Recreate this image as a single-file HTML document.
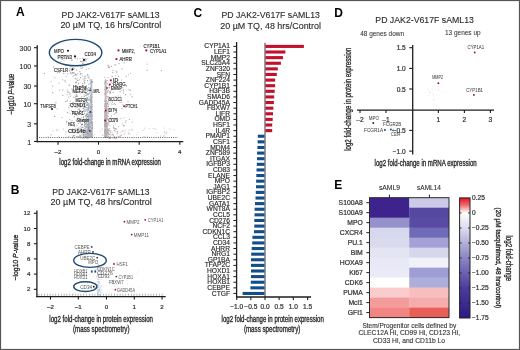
<!DOCTYPE html>
<html><head><meta charset="utf-8"><style>
html,body{margin:0;padding:0;background:#fff;}
body{width:520px;height:350px;overflow:hidden;}
svg{display:block;font-family:"Liberation Sans",sans-serif;will-change:transform;}
</style></head><body>
<svg width="520" height="350" viewBox="0 0 520 350">
<rect width="520" height="350" fill="#fff"/>
<text x="16.00" y="16.20" font-size="12" fill="#000" font-weight="bold">A</text>
<text x="10.70" y="193.70" font-size="12" fill="#000" font-weight="bold">B</text>
<text x="193.40" y="16.90" font-size="12" fill="#000" font-weight="bold">C</text>
<text x="334.30" y="17.00" font-size="12" fill="#000" font-weight="bold">D</text>
<text x="334.30" y="189.00" font-size="12" fill="#000" font-weight="bold">E</text>
<text x="61.60" y="17.90" font-size="9.6" fill="#2b2b2b" font-weight="normal" textLength="98.00" lengthAdjust="spacingAndGlyphs" stroke="#2b2b2b" stroke-width="0.12">PD JAK2-V617F sAML13</text>
<text x="60.40" y="28.40" font-size="9.6" fill="#2b2b2b" font-weight="normal" textLength="100.80" lengthAdjust="spacingAndGlyphs" stroke="#2b2b2b" stroke-width="0.12">20 µM TQ, 16 hrs/Control</text>
<text x="52.20" y="195.20" font-size="9.6" fill="#2b2b2b" font-weight="normal" textLength="97.40" lengthAdjust="spacingAndGlyphs" stroke="#2b2b2b" stroke-width="0.12">PD JAK2-V617F sAML13</text>
<text x="50.60" y="205.40" font-size="9.6" fill="#2b2b2b" font-weight="normal" textLength="101.20" lengthAdjust="spacingAndGlyphs" stroke="#2b2b2b" stroke-width="0.12">20 µM TQ, 48 hrs/Control</text>
<text x="221.40" y="17.60" font-size="9.6" fill="#2b2b2b" font-weight="normal" textLength="98.50" lengthAdjust="spacingAndGlyphs" stroke="#2b2b2b" stroke-width="0.12">PD JAK2-V617F sAML13</text>
<text x="220.30" y="28.60" font-size="9.6" fill="#2b2b2b" font-weight="normal" textLength="100.70" lengthAdjust="spacingAndGlyphs" stroke="#2b2b2b" stroke-width="0.12">20 µM TQ, 48 hrs/Control</text>
<text x="375.30" y="22.90" font-size="9.6" fill="#2b2b2b" font-weight="normal" textLength="98.60" lengthAdjust="spacingAndGlyphs" stroke="#2b2b2b" stroke-width="0.12">PD JAK2-V617F sAML13</text>
<rect x="90.40" y="79.00" width="1.90" height="58.50" fill="#a4a8b0" opacity="0.75"/>
<rect x="104.60" y="80.00" width="1.80" height="57.50" fill="#b0a8ad" opacity="0.75"/>
<circle cx="91.28" cy="124.20" r="0.60" fill="#9aa0aa"/>
<circle cx="87.85" cy="123.34" r="0.60" fill="#9a9ea5"/>
<circle cx="84.69" cy="109.16" r="0.60" fill="#b7bcc3"/>
<circle cx="88.15" cy="131.03" r="0.60" fill="#a9afb8"/>
<circle cx="92.00" cy="104.65" r="0.60" fill="#9aa0aa"/>
<circle cx="91.35" cy="125.66" r="0.60" fill="#b7bcc3"/>
<circle cx="88.69" cy="112.34" r="0.60" fill="#9aa0aa"/>
<circle cx="88.74" cy="125.33" r="0.60" fill="#b7bcc3"/>
<circle cx="84.73" cy="122.67" r="0.60" fill="#8d9dbd"/>
<circle cx="87.94" cy="121.72" r="0.60" fill="#8d9dbd"/>
<circle cx="86.67" cy="122.95" r="0.60" fill="#a9afb8"/>
<circle cx="87.32" cy="119.30" r="0.60" fill="#9a9ea5"/>
<circle cx="87.13" cy="113.92" r="0.60" fill="#9aa0aa"/>
<circle cx="88.86" cy="116.79" r="0.60" fill="#c2c6cc"/>
<circle cx="91.54" cy="108.82" r="0.60" fill="#d0d3d8"/>
<circle cx="90.35" cy="122.48" r="0.60" fill="#9aa6bd"/>
<circle cx="91.36" cy="119.04" r="0.60" fill="#8d9dbd"/>
<circle cx="84.24" cy="129.14" r="0.60" fill="#d0d3d8"/>
<circle cx="89.23" cy="119.22" r="0.60" fill="#9a9ea5"/>
<circle cx="89.62" cy="112.91" r="0.60" fill="#9aa0aa"/>
<circle cx="90.74" cy="135.03" r="0.60" fill="#9a9ea5"/>
<circle cx="90.31" cy="117.13" r="0.60" fill="#d0d3d8"/>
<circle cx="88.43" cy="123.69" r="0.60" fill="#a9afb8"/>
<circle cx="88.04" cy="127.46" r="0.60" fill="#a9afb8"/>
<circle cx="86.53" cy="122.46" r="0.60" fill="#d0d3d8"/>
<circle cx="91.45" cy="112.43" r="0.60" fill="#9a9ea5"/>
<circle cx="87.89" cy="133.41" r="0.60" fill="#9aa6bd"/>
<circle cx="88.72" cy="118.03" r="0.60" fill="#b7bcc3"/>
<circle cx="92.06" cy="123.91" r="0.60" fill="#b7bcc3"/>
<circle cx="85.15" cy="102.80" r="0.60" fill="#d0d3d8"/>
<circle cx="88.48" cy="123.73" r="0.60" fill="#8d9dbd"/>
<circle cx="86.80" cy="105.33" r="0.60" fill="#8d9dbd"/>
<circle cx="90.69" cy="114.30" r="0.60" fill="#b7bcc3"/>
<circle cx="90.85" cy="124.35" r="0.60" fill="#b7bcc3"/>
<circle cx="91.96" cy="134.10" r="0.60" fill="#9aa6bd"/>
<circle cx="92.27" cy="135.15" r="0.60" fill="#c2c6cc"/>
<circle cx="86.94" cy="129.81" r="0.60" fill="#9a9ea5"/>
<circle cx="86.44" cy="125.93" r="0.60" fill="#9aa0aa"/>
<circle cx="84.50" cy="123.34" r="0.60" fill="#c2c6cc"/>
<circle cx="89.09" cy="121.95" r="0.60" fill="#d0d3d8"/>
<circle cx="91.35" cy="130.54" r="0.60" fill="#a9afb8"/>
<circle cx="88.01" cy="134.80" r="0.60" fill="#a9afb8"/>
<circle cx="91.60" cy="130.29" r="0.60" fill="#9aa0aa"/>
<circle cx="87.77" cy="124.36" r="0.60" fill="#9a9ea5"/>
<circle cx="91.15" cy="130.99" r="0.60" fill="#b7bcc3"/>
<circle cx="90.59" cy="127.81" r="0.60" fill="#8d9dbd"/>
<circle cx="87.08" cy="127.75" r="0.60" fill="#d0d3d8"/>
<circle cx="86.73" cy="102.24" r="0.60" fill="#d0d3d8"/>
<circle cx="88.87" cy="134.74" r="0.60" fill="#9aa6bd"/>
<circle cx="89.37" cy="123.24" r="0.60" fill="#8d9dbd"/>
<circle cx="86.22" cy="132.16" r="0.60" fill="#9aa0aa"/>
<circle cx="88.35" cy="107.12" r="0.60" fill="#9aa0aa"/>
<circle cx="92.13" cy="115.65" r="0.60" fill="#a9afb8"/>
<circle cx="91.27" cy="118.42" r="0.60" fill="#9a9ea5"/>
<circle cx="89.16" cy="124.21" r="0.60" fill="#b7bcc3"/>
<circle cx="85.49" cy="128.31" r="0.60" fill="#9a9ea5"/>
<circle cx="88.69" cy="110.40" r="0.60" fill="#b7bcc3"/>
<circle cx="89.75" cy="92.43" r="0.60" fill="#b7bcc3"/>
<circle cx="90.86" cy="108.69" r="0.60" fill="#9aa0aa"/>
<circle cx="85.25" cy="134.50" r="0.60" fill="#d0d3d8"/>
<circle cx="91.95" cy="97.64" r="0.60" fill="#9a9ea5"/>
<circle cx="83.41" cy="117.60" r="0.60" fill="#9a9ea5"/>
<circle cx="88.64" cy="130.59" r="0.60" fill="#b7bcc3"/>
<circle cx="88.69" cy="119.96" r="0.60" fill="#9a9ea5"/>
<circle cx="90.72" cy="102.62" r="0.60" fill="#9aa0aa"/>
<circle cx="86.53" cy="132.63" r="0.60" fill="#a9afb8"/>
<circle cx="91.27" cy="126.17" r="0.60" fill="#c2c6cc"/>
<circle cx="90.96" cy="95.09" r="0.60" fill="#d0d3d8"/>
<circle cx="89.03" cy="119.69" r="0.60" fill="#9a9ea5"/>
<circle cx="84.03" cy="104.91" r="0.60" fill="#c2c6cc"/>
<circle cx="85.88" cy="127.66" r="0.60" fill="#a9afb8"/>
<circle cx="91.91" cy="121.83" r="0.60" fill="#9aa6bd"/>
<circle cx="87.03" cy="131.51" r="0.60" fill="#d0d3d8"/>
<circle cx="91.52" cy="123.79" r="0.60" fill="#d0d3d8"/>
<circle cx="90.26" cy="117.33" r="0.60" fill="#9aa6bd"/>
<circle cx="85.20" cy="131.25" r="0.60" fill="#a9afb8"/>
<circle cx="83.11" cy="127.43" r="0.60" fill="#c2c6cc"/>
<circle cx="89.68" cy="136.06" r="0.60" fill="#b7bcc3"/>
<circle cx="89.58" cy="134.35" r="0.60" fill="#b7bcc3"/>
<circle cx="91.99" cy="114.49" r="0.60" fill="#c2c6cc"/>
<circle cx="91.58" cy="129.54" r="0.60" fill="#9a9ea5"/>
<circle cx="87.58" cy="114.53" r="0.60" fill="#c2c6cc"/>
<circle cx="88.48" cy="90.30" r="0.60" fill="#9aa6bd"/>
<circle cx="87.53" cy="131.21" r="0.60" fill="#9aa0aa"/>
<circle cx="87.47" cy="105.24" r="0.60" fill="#9aa0aa"/>
<circle cx="91.93" cy="122.89" r="0.60" fill="#9aa6bd"/>
<circle cx="85.96" cy="130.57" r="0.60" fill="#9aa0aa"/>
<circle cx="90.08" cy="109.59" r="0.60" fill="#d0d3d8"/>
<circle cx="91.90" cy="125.47" r="0.60" fill="#9aa0aa"/>
<circle cx="92.27" cy="116.56" r="0.60" fill="#a9afb8"/>
<circle cx="87.17" cy="135.88" r="0.60" fill="#a9afb8"/>
<circle cx="87.14" cy="125.00" r="0.60" fill="#b7bcc3"/>
<circle cx="90.75" cy="110.80" r="0.60" fill="#d0d3d8"/>
<circle cx="89.29" cy="136.55" r="0.60" fill="#8d9dbd"/>
<circle cx="84.82" cy="111.88" r="0.60" fill="#b7bcc3"/>
<circle cx="91.14" cy="125.58" r="0.60" fill="#a9afb8"/>
<circle cx="89.58" cy="123.32" r="0.60" fill="#b7bcc3"/>
<circle cx="89.81" cy="129.67" r="0.60" fill="#8d9dbd"/>
<circle cx="90.50" cy="83.32" r="0.60" fill="#9aa6bd"/>
<circle cx="86.97" cy="123.65" r="0.60" fill="#9a9ea5"/>
<circle cx="87.14" cy="95.38" r="0.60" fill="#d0d3d8"/>
<circle cx="88.59" cy="119.57" r="0.60" fill="#b7bcc3"/>
<circle cx="90.06" cy="114.03" r="0.60" fill="#c2c6cc"/>
<circle cx="90.90" cy="122.96" r="0.60" fill="#9a9ea5"/>
<circle cx="89.10" cy="123.91" r="0.60" fill="#9a9ea5"/>
<circle cx="88.24" cy="128.17" r="0.60" fill="#9aa0aa"/>
<circle cx="88.69" cy="116.65" r="0.60" fill="#8d9dbd"/>
<circle cx="90.85" cy="136.77" r="0.60" fill="#b7bcc3"/>
<circle cx="90.45" cy="135.34" r="0.60" fill="#8d9dbd"/>
<circle cx="91.11" cy="81.51" r="0.60" fill="#9aa6bd"/>
<circle cx="92.03" cy="123.92" r="0.60" fill="#c2c6cc"/>
<circle cx="88.78" cy="105.86" r="0.60" fill="#8d9dbd"/>
<circle cx="88.18" cy="119.53" r="0.60" fill="#d0d3d8"/>
<circle cx="91.77" cy="126.79" r="0.60" fill="#9aa0aa"/>
<circle cx="91.52" cy="121.75" r="0.60" fill="#a9afb8"/>
<circle cx="92.21" cy="132.74" r="0.60" fill="#a9afb8"/>
<circle cx="91.77" cy="127.19" r="0.60" fill="#b7bcc3"/>
<circle cx="85.02" cy="116.44" r="0.60" fill="#d0d3d8"/>
<circle cx="79.47" cy="131.44" r="0.60" fill="#c2c6cc"/>
<circle cx="89.47" cy="128.37" r="0.60" fill="#9aa6bd"/>
<circle cx="86.24" cy="126.54" r="0.60" fill="#a9afb8"/>
<circle cx="89.24" cy="133.60" r="0.60" fill="#9aa6bd"/>
<circle cx="91.27" cy="116.04" r="0.60" fill="#8d9dbd"/>
<circle cx="89.64" cy="134.07" r="0.60" fill="#d0d3d8"/>
<circle cx="89.80" cy="137.49" r="0.60" fill="#9a9ea5"/>
<circle cx="91.55" cy="136.35" r="0.60" fill="#b7bcc3"/>
<circle cx="89.31" cy="135.76" r="0.60" fill="#d0d3d8"/>
<circle cx="86.49" cy="107.74" r="0.60" fill="#c2c6cc"/>
<circle cx="89.51" cy="110.31" r="0.60" fill="#c2c6cc"/>
<circle cx="88.93" cy="133.36" r="0.60" fill="#b7bcc3"/>
<circle cx="88.66" cy="134.88" r="0.60" fill="#9aa6bd"/>
<circle cx="89.25" cy="123.96" r="0.60" fill="#9aa0aa"/>
<circle cx="91.95" cy="133.74" r="0.60" fill="#8d9dbd"/>
<circle cx="91.08" cy="133.80" r="0.60" fill="#c2c6cc"/>
<circle cx="88.20" cy="109.35" r="0.60" fill="#8d9dbd"/>
<circle cx="87.30" cy="114.27" r="0.60" fill="#9aa0aa"/>
<circle cx="90.03" cy="133.66" r="0.60" fill="#d0d3d8"/>
<circle cx="88.49" cy="136.94" r="0.60" fill="#9a9ea5"/>
<circle cx="87.34" cy="131.90" r="0.60" fill="#b7bcc3"/>
<circle cx="84.22" cy="125.95" r="0.60" fill="#b7bcc3"/>
<circle cx="92.19" cy="136.56" r="0.60" fill="#c2c6cc"/>
<circle cx="89.50" cy="126.92" r="0.60" fill="#b7bcc3"/>
<circle cx="92.22" cy="92.51" r="0.60" fill="#a9afb8"/>
<circle cx="92.15" cy="126.27" r="0.60" fill="#c2c6cc"/>
<circle cx="88.88" cy="124.00" r="0.60" fill="#8d9dbd"/>
<circle cx="91.33" cy="119.66" r="0.60" fill="#9aa6bd"/>
<circle cx="88.82" cy="103.01" r="0.60" fill="#c2c6cc"/>
<circle cx="91.73" cy="96.14" r="0.60" fill="#d0d3d8"/>
<circle cx="88.51" cy="103.82" r="0.60" fill="#9aa6bd"/>
<circle cx="84.99" cy="124.08" r="0.60" fill="#c2c6cc"/>
<circle cx="91.56" cy="90.19" r="0.60" fill="#9aa6bd"/>
<circle cx="86.66" cy="114.18" r="0.60" fill="#9aa0aa"/>
<circle cx="89.85" cy="106.95" r="0.60" fill="#b7bcc3"/>
<circle cx="91.29" cy="133.63" r="0.60" fill="#9a9ea5"/>
<circle cx="88.54" cy="131.14" r="0.60" fill="#d0d3d8"/>
<circle cx="87.05" cy="124.36" r="0.60" fill="#b7bcc3"/>
<circle cx="91.97" cy="137.36" r="0.60" fill="#a9afb8"/>
<circle cx="92.25" cy="106.76" r="0.60" fill="#a9afb8"/>
<circle cx="91.50" cy="129.41" r="0.60" fill="#d0d3d8"/>
<circle cx="92.28" cy="127.27" r="0.60" fill="#8d9dbd"/>
<circle cx="91.66" cy="94.00" r="0.60" fill="#b7bcc3"/>
<circle cx="88.37" cy="136.53" r="0.60" fill="#d0d3d8"/>
<circle cx="89.52" cy="126.09" r="0.60" fill="#9aa0aa"/>
<circle cx="88.04" cy="112.48" r="0.60" fill="#a9afb8"/>
<circle cx="89.39" cy="123.81" r="0.60" fill="#8d9dbd"/>
<circle cx="90.75" cy="127.90" r="0.60" fill="#d0d3d8"/>
<circle cx="89.36" cy="129.85" r="0.60" fill="#a9afb8"/>
<circle cx="90.17" cy="101.03" r="0.60" fill="#8d9dbd"/>
<circle cx="91.46" cy="116.89" r="0.60" fill="#d0d3d8"/>
<circle cx="90.34" cy="134.76" r="0.60" fill="#b7bcc3"/>
<circle cx="91.66" cy="127.30" r="0.60" fill="#d0d3d8"/>
<circle cx="87.89" cy="134.34" r="0.60" fill="#d0d3d8"/>
<circle cx="88.35" cy="136.53" r="0.60" fill="#b7bcc3"/>
<circle cx="90.75" cy="132.39" r="0.60" fill="#8d9dbd"/>
<circle cx="90.26" cy="133.44" r="0.60" fill="#8d9dbd"/>
<circle cx="87.57" cy="111.05" r="0.60" fill="#b7bcc3"/>
<circle cx="84.13" cy="136.79" r="0.60" fill="#c2c6cc"/>
<circle cx="91.96" cy="137.16" r="0.60" fill="#d0d3d8"/>
<circle cx="90.60" cy="113.40" r="0.60" fill="#9aa6bd"/>
<circle cx="88.94" cy="124.81" r="0.60" fill="#a9afb8"/>
<circle cx="92.17" cy="136.21" r="0.60" fill="#9a9ea5"/>
<circle cx="91.23" cy="126.36" r="0.60" fill="#b7bcc3"/>
<circle cx="90.32" cy="83.02" r="0.60" fill="#8d9dbd"/>
<circle cx="92.27" cy="127.97" r="0.60" fill="#c2c6cc"/>
<circle cx="86.96" cy="137.24" r="0.60" fill="#9a9ea5"/>
<circle cx="86.31" cy="117.79" r="0.60" fill="#9aa0aa"/>
<circle cx="92.05" cy="129.19" r="0.60" fill="#8d9dbd"/>
<circle cx="90.80" cy="126.43" r="0.60" fill="#8d9dbd"/>
<circle cx="89.09" cy="128.67" r="0.60" fill="#9a9ea5"/>
<circle cx="91.37" cy="110.70" r="0.60" fill="#9aa0aa"/>
<circle cx="90.16" cy="103.54" r="0.60" fill="#b7bcc3"/>
<circle cx="92.06" cy="129.37" r="0.60" fill="#c2c6cc"/>
<circle cx="85.93" cy="124.29" r="0.60" fill="#8d9dbd"/>
<circle cx="83.52" cy="132.31" r="0.60" fill="#9aa6bd"/>
<circle cx="90.32" cy="113.85" r="0.60" fill="#8d9dbd"/>
<circle cx="90.36" cy="96.79" r="0.60" fill="#8d9dbd"/>
<circle cx="89.84" cy="126.83" r="0.60" fill="#d0d3d8"/>
<circle cx="88.55" cy="128.32" r="0.60" fill="#9aa6bd"/>
<circle cx="91.32" cy="129.45" r="0.60" fill="#d0d3d8"/>
<circle cx="88.12" cy="128.61" r="0.60" fill="#9a9ea5"/>
<circle cx="87.93" cy="136.87" r="0.60" fill="#9aa6bd"/>
<circle cx="89.44" cy="131.75" r="0.60" fill="#9aa6bd"/>
<circle cx="91.35" cy="127.98" r="0.60" fill="#b7bcc3"/>
<circle cx="87.37" cy="102.65" r="0.60" fill="#b7bcc3"/>
<circle cx="87.24" cy="109.35" r="0.60" fill="#c2c6cc"/>
<circle cx="87.39" cy="108.60" r="0.60" fill="#b7bcc3"/>
<circle cx="89.70" cy="120.99" r="0.60" fill="#9aa0aa"/>
<circle cx="87.07" cy="137.10" r="0.60" fill="#9a9ea5"/>
<circle cx="88.97" cy="115.63" r="0.60" fill="#b7bcc3"/>
<circle cx="85.18" cy="107.05" r="0.60" fill="#c2c6cc"/>
<circle cx="88.79" cy="120.86" r="0.60" fill="#8d9dbd"/>
<circle cx="87.58" cy="94.52" r="0.60" fill="#9aa0aa"/>
<circle cx="89.37" cy="117.88" r="0.60" fill="#d0d3d8"/>
<circle cx="87.75" cy="131.53" r="0.60" fill="#a9afb8"/>
<circle cx="85.20" cy="100.04" r="0.60" fill="#d0d3d8"/>
<circle cx="89.32" cy="134.09" r="0.60" fill="#a9afb8"/>
<circle cx="91.92" cy="122.77" r="0.60" fill="#a9afb8"/>
<circle cx="86.33" cy="122.55" r="0.60" fill="#d0d3d8"/>
<circle cx="86.34" cy="114.58" r="0.60" fill="#9aa0aa"/>
<circle cx="91.71" cy="118.97" r="0.60" fill="#9aa0aa"/>
<circle cx="90.22" cy="119.97" r="0.60" fill="#9aa6bd"/>
<circle cx="88.87" cy="114.76" r="0.60" fill="#c2c6cc"/>
<circle cx="91.68" cy="125.48" r="0.60" fill="#a9afb8"/>
<circle cx="89.32" cy="78.26" r="0.60" fill="#b7bcc3"/>
<circle cx="90.13" cy="125.54" r="0.60" fill="#9aa0aa"/>
<circle cx="88.92" cy="136.05" r="0.60" fill="#d0d3d8"/>
<circle cx="91.68" cy="115.19" r="0.60" fill="#b7bcc3"/>
<circle cx="89.41" cy="134.56" r="0.60" fill="#b7bcc3"/>
<circle cx="88.25" cy="132.60" r="0.60" fill="#8d9dbd"/>
<circle cx="89.83" cy="131.68" r="0.60" fill="#c2c6cc"/>
<circle cx="89.79" cy="128.38" r="0.60" fill="#c2c6cc"/>
<circle cx="89.74" cy="129.05" r="0.60" fill="#9aa0aa"/>
<circle cx="90.17" cy="98.49" r="0.60" fill="#9a9ea5"/>
<circle cx="91.21" cy="121.75" r="0.60" fill="#8d9dbd"/>
<circle cx="91.98" cy="106.74" r="0.60" fill="#b7bcc3"/>
<circle cx="89.63" cy="137.03" r="0.60" fill="#b7bcc3"/>
<circle cx="91.96" cy="119.24" r="0.60" fill="#8d9dbd"/>
<circle cx="87.97" cy="114.51" r="0.60" fill="#9aa6bd"/>
<circle cx="88.63" cy="119.36" r="0.60" fill="#9aa0aa"/>
<circle cx="90.17" cy="132.87" r="0.60" fill="#c2c6cc"/>
<circle cx="91.48" cy="135.60" r="0.60" fill="#9aa6bd"/>
<circle cx="86.88" cy="116.76" r="0.60" fill="#9aa6bd"/>
<circle cx="85.60" cy="102.98" r="0.60" fill="#9a9ea5"/>
<circle cx="89.05" cy="127.82" r="0.60" fill="#9aa6bd"/>
<circle cx="89.49" cy="111.56" r="0.60" fill="#d0d3d8"/>
<circle cx="86.51" cy="129.85" r="0.60" fill="#c2c6cc"/>
<circle cx="90.50" cy="133.08" r="0.60" fill="#a9afb8"/>
<circle cx="91.61" cy="113.73" r="0.60" fill="#a9afb8"/>
<circle cx="86.05" cy="121.07" r="0.60" fill="#c2c6cc"/>
<circle cx="87.69" cy="99.66" r="0.60" fill="#c2c6cc"/>
<circle cx="86.97" cy="116.21" r="0.60" fill="#b7bcc3"/>
<circle cx="86.04" cy="95.64" r="0.60" fill="#b7bcc3"/>
<circle cx="89.39" cy="99.42" r="0.60" fill="#d0d3d8"/>
<circle cx="88.26" cy="132.44" r="0.60" fill="#c2c6cc"/>
<circle cx="91.27" cy="135.75" r="0.60" fill="#a9afb8"/>
<circle cx="91.83" cy="128.71" r="0.60" fill="#b7bcc3"/>
<circle cx="92.15" cy="81.89" r="0.60" fill="#9a9ea5"/>
<circle cx="89.95" cy="119.69" r="0.60" fill="#9aa0aa"/>
<circle cx="91.81" cy="96.33" r="0.60" fill="#9a9ea5"/>
<circle cx="89.31" cy="127.49" r="0.60" fill="#a9afb8"/>
<circle cx="89.41" cy="134.62" r="0.60" fill="#d0d3d8"/>
<circle cx="91.34" cy="109.07" r="0.60" fill="#c2c6cc"/>
<circle cx="90.11" cy="81.76" r="0.60" fill="#d0d3d8"/>
<circle cx="89.15" cy="114.94" r="0.60" fill="#9aa0aa"/>
<circle cx="90.18" cy="97.22" r="0.60" fill="#9aa6bd"/>
<circle cx="89.51" cy="123.04" r="0.60" fill="#9a9ea5"/>
<circle cx="85.51" cy="126.40" r="0.60" fill="#a9afb8"/>
<circle cx="88.32" cy="135.57" r="0.60" fill="#9aa6bd"/>
<circle cx="92.28" cy="127.99" r="0.60" fill="#9aa0aa"/>
<circle cx="87.32" cy="133.76" r="0.60" fill="#9aa6bd"/>
<circle cx="84.07" cy="130.83" r="0.60" fill="#a9afb8"/>
<circle cx="92.14" cy="126.65" r="0.60" fill="#a9afb8"/>
<circle cx="81.79" cy="100.55" r="0.60" fill="#d0d3d8"/>
<circle cx="91.31" cy="125.20" r="0.60" fill="#d0d3d8"/>
<circle cx="87.94" cy="110.79" r="0.60" fill="#a9afb8"/>
<circle cx="91.68" cy="116.19" r="0.60" fill="#8d9dbd"/>
<circle cx="88.77" cy="127.25" r="0.60" fill="#8d9dbd"/>
<circle cx="91.35" cy="118.89" r="0.60" fill="#b7bcc3"/>
<circle cx="92.00" cy="116.45" r="0.60" fill="#b7bcc3"/>
<circle cx="90.45" cy="114.33" r="0.60" fill="#b7bcc3"/>
<circle cx="89.40" cy="136.63" r="0.60" fill="#a9afb8"/>
<circle cx="88.67" cy="119.81" r="0.60" fill="#b7bcc3"/>
<circle cx="87.52" cy="88.94" r="0.60" fill="#9aa0aa"/>
<circle cx="90.22" cy="124.27" r="0.60" fill="#9aa0aa"/>
<circle cx="84.30" cy="107.55" r="0.60" fill="#9a9ea5"/>
<circle cx="89.81" cy="136.21" r="0.60" fill="#8d9dbd"/>
<circle cx="91.37" cy="99.53" r="0.60" fill="#9aa0aa"/>
<circle cx="88.06" cy="115.91" r="0.60" fill="#9a9ea5"/>
<circle cx="91.53" cy="113.08" r="0.60" fill="#9aa6bd"/>
<circle cx="85.99" cy="127.46" r="0.60" fill="#b7bcc3"/>
<circle cx="89.37" cy="93.36" r="0.60" fill="#c2c6cc"/>
<circle cx="91.19" cy="122.52" r="0.60" fill="#8d9dbd"/>
<circle cx="91.41" cy="134.41" r="0.60" fill="#d0d3d8"/>
<circle cx="90.92" cy="134.71" r="0.60" fill="#a9afb8"/>
<circle cx="90.62" cy="100.68" r="0.60" fill="#9aa6bd"/>
<circle cx="91.18" cy="128.78" r="0.60" fill="#9aa6bd"/>
<circle cx="89.75" cy="125.11" r="0.60" fill="#8d9dbd"/>
<circle cx="90.25" cy="113.98" r="0.60" fill="#9aa0aa"/>
<circle cx="90.32" cy="106.43" r="0.60" fill="#9a9ea5"/>
<circle cx="91.64" cy="134.94" r="0.60" fill="#9a9ea5"/>
<circle cx="89.85" cy="117.10" r="0.60" fill="#c2c6cc"/>
<circle cx="92.18" cy="134.80" r="0.60" fill="#9aa6bd"/>
<circle cx="85.72" cy="115.29" r="0.60" fill="#c2c6cc"/>
<circle cx="88.94" cy="125.87" r="0.60" fill="#9aa6bd"/>
<circle cx="91.41" cy="131.33" r="0.60" fill="#9aa6bd"/>
<circle cx="86.74" cy="93.41" r="0.60" fill="#a9afb8"/>
<circle cx="84.09" cy="111.19" r="0.60" fill="#9aa6bd"/>
<circle cx="90.31" cy="120.66" r="0.60" fill="#9aa6bd"/>
<circle cx="90.59" cy="131.87" r="0.60" fill="#d0d3d8"/>
<circle cx="92.14" cy="91.43" r="0.60" fill="#b7bcc3"/>
<circle cx="89.87" cy="90.54" r="0.60" fill="#9aa0aa"/>
<circle cx="87.76" cy="132.93" r="0.60" fill="#9aa0aa"/>
<circle cx="87.86" cy="114.35" r="0.60" fill="#a9afb8"/>
<circle cx="87.71" cy="117.01" r="0.60" fill="#9aa6bd"/>
<circle cx="87.29" cy="97.95" r="0.60" fill="#c2c6cc"/>
<circle cx="90.31" cy="126.16" r="0.60" fill="#d0d3d8"/>
<circle cx="91.15" cy="120.85" r="0.60" fill="#c2c6cc"/>
<circle cx="90.14" cy="131.79" r="0.60" fill="#9a9ea5"/>
<circle cx="90.14" cy="123.82" r="0.60" fill="#b7bcc3"/>
<circle cx="87.33" cy="128.96" r="0.60" fill="#9aa0aa"/>
<circle cx="90.55" cy="117.48" r="0.60" fill="#c2c6cc"/>
<circle cx="88.20" cy="118.27" r="0.60" fill="#8d9dbd"/>
<circle cx="90.26" cy="119.52" r="0.60" fill="#b7bcc3"/>
<circle cx="87.06" cy="120.35" r="0.60" fill="#d0d3d8"/>
<circle cx="89.79" cy="137.13" r="0.60" fill="#9aa0aa"/>
<circle cx="88.90" cy="117.01" r="0.60" fill="#b7bcc3"/>
<circle cx="87.05" cy="125.66" r="0.60" fill="#d0d3d8"/>
<circle cx="88.53" cy="96.92" r="0.60" fill="#c2c6cc"/>
<circle cx="90.66" cy="129.00" r="0.60" fill="#c2c6cc"/>
<circle cx="87.53" cy="102.45" r="0.60" fill="#9aa0aa"/>
<circle cx="90.26" cy="134.03" r="0.60" fill="#9a9ea5"/>
<circle cx="91.47" cy="106.85" r="0.60" fill="#9aa0aa"/>
<circle cx="92.19" cy="82.32" r="0.60" fill="#9aa6bd"/>
<circle cx="90.84" cy="135.94" r="0.60" fill="#a9afb8"/>
<circle cx="82.29" cy="134.17" r="0.60" fill="#9aa6bd"/>
<circle cx="89.80" cy="99.25" r="0.60" fill="#b7bcc3"/>
<circle cx="88.89" cy="127.83" r="0.60" fill="#8d9dbd"/>
<circle cx="87.68" cy="90.97" r="0.60" fill="#8d9dbd"/>
<circle cx="88.65" cy="121.37" r="0.60" fill="#8d9dbd"/>
<circle cx="83.31" cy="136.69" r="0.60" fill="#b7bcc3"/>
<circle cx="87.66" cy="117.87" r="0.60" fill="#b7bcc3"/>
<circle cx="91.84" cy="131.04" r="0.60" fill="#9aa6bd"/>
<circle cx="87.62" cy="116.41" r="0.60" fill="#8d9dbd"/>
<circle cx="88.67" cy="87.56" r="0.60" fill="#9aa6bd"/>
<circle cx="91.48" cy="117.84" r="0.60" fill="#9aa0aa"/>
<circle cx="89.83" cy="118.95" r="0.60" fill="#d0d3d8"/>
<circle cx="87.34" cy="125.86" r="0.60" fill="#a9afb8"/>
<circle cx="92.24" cy="105.30" r="0.60" fill="#c2c6cc"/>
<circle cx="92.01" cy="112.52" r="0.60" fill="#c2c6cc"/>
<circle cx="87.06" cy="135.46" r="0.60" fill="#9a9ea5"/>
<circle cx="91.50" cy="128.14" r="0.60" fill="#b7bcc3"/>
<circle cx="89.37" cy="99.07" r="0.60" fill="#9aa0aa"/>
<circle cx="90.92" cy="107.49" r="0.60" fill="#8d9dbd"/>
<circle cx="84.92" cy="80.09" r="0.60" fill="#9a9ea5"/>
<circle cx="91.59" cy="94.63" r="0.60" fill="#b7bcc3"/>
<circle cx="89.03" cy="108.48" r="0.60" fill="#c2c6cc"/>
<circle cx="88.99" cy="125.27" r="0.60" fill="#9aa0aa"/>
<circle cx="90.36" cy="123.73" r="0.60" fill="#9aa0aa"/>
<circle cx="92.01" cy="137.24" r="0.60" fill="#9a9ea5"/>
<circle cx="90.69" cy="107.65" r="0.60" fill="#b7bcc3"/>
<circle cx="89.40" cy="126.09" r="0.60" fill="#9aa6bd"/>
<circle cx="90.71" cy="102.63" r="0.60" fill="#d0d3d8"/>
<circle cx="91.93" cy="133.82" r="0.60" fill="#b7bcc3"/>
<circle cx="91.14" cy="110.04" r="0.60" fill="#a9afb8"/>
<circle cx="87.07" cy="97.31" r="0.60" fill="#8d9dbd"/>
<circle cx="89.74" cy="125.73" r="0.60" fill="#9aa0aa"/>
<circle cx="85.34" cy="120.84" r="0.60" fill="#9a9ea5"/>
<circle cx="87.95" cy="118.34" r="0.60" fill="#d0d3d8"/>
<circle cx="92.22" cy="81.28" r="0.60" fill="#9aa0aa"/>
<circle cx="91.46" cy="135.28" r="0.60" fill="#9aa6bd"/>
<circle cx="92.19" cy="128.51" r="0.60" fill="#a9afb8"/>
<circle cx="87.25" cy="134.95" r="0.60" fill="#b7bcc3"/>
<circle cx="90.63" cy="123.98" r="0.60" fill="#c2c6cc"/>
<circle cx="91.34" cy="122.65" r="0.60" fill="#8d9dbd"/>
<circle cx="87.13" cy="123.28" r="0.60" fill="#d0d3d8"/>
<circle cx="92.20" cy="134.63" r="0.60" fill="#c2c6cc"/>
<circle cx="92.16" cy="108.42" r="0.60" fill="#d0d3d8"/>
<circle cx="91.89" cy="100.23" r="0.60" fill="#a9afb8"/>
<circle cx="88.89" cy="100.33" r="0.60" fill="#8d9dbd"/>
<circle cx="91.55" cy="117.64" r="0.60" fill="#c2c6cc"/>
<circle cx="88.79" cy="84.12" r="0.60" fill="#8d9dbd"/>
<circle cx="89.70" cy="80.20" r="0.60" fill="#b7bcc3"/>
<circle cx="88.21" cy="121.68" r="0.60" fill="#9aa6bd"/>
<circle cx="92.11" cy="118.46" r="0.60" fill="#b7bcc3"/>
<circle cx="86.07" cy="122.84" r="0.60" fill="#9a9ea5"/>
<circle cx="90.88" cy="113.40" r="0.60" fill="#b7bcc3"/>
<circle cx="86.62" cy="102.59" r="0.60" fill="#d0d3d8"/>
<circle cx="87.46" cy="131.93" r="0.60" fill="#9aa0aa"/>
<circle cx="89.62" cy="115.75" r="0.60" fill="#b7bcc3"/>
<circle cx="89.20" cy="127.96" r="0.60" fill="#b7bcc3"/>
<circle cx="88.18" cy="115.77" r="0.60" fill="#9aa6bd"/>
<circle cx="91.73" cy="132.71" r="0.60" fill="#a9afb8"/>
<circle cx="90.59" cy="126.79" r="0.60" fill="#9aa6bd"/>
<circle cx="91.99" cy="131.30" r="0.60" fill="#9aa6bd"/>
<circle cx="90.30" cy="103.01" r="0.60" fill="#a9afb8"/>
<circle cx="92.18" cy="127.94" r="0.60" fill="#9a9ea5"/>
<circle cx="89.19" cy="76.10" r="0.60" fill="#a9afb8"/>
<circle cx="87.41" cy="107.56" r="0.60" fill="#c2c6cc"/>
<circle cx="90.18" cy="126.50" r="0.60" fill="#a9afb8"/>
<circle cx="82.75" cy="124.10" r="0.60" fill="#a9afb8"/>
<circle cx="89.73" cy="104.77" r="0.60" fill="#8d9dbd"/>
<circle cx="90.19" cy="135.51" r="0.60" fill="#b7bcc3"/>
<circle cx="91.30" cy="114.86" r="0.60" fill="#8d9dbd"/>
<circle cx="89.25" cy="134.88" r="0.60" fill="#8d9dbd"/>
<circle cx="85.85" cy="124.35" r="0.60" fill="#9a9ea5"/>
<circle cx="91.65" cy="102.46" r="0.60" fill="#d0d3d8"/>
<circle cx="89.00" cy="108.49" r="0.60" fill="#9aa0aa"/>
<circle cx="92.06" cy="131.14" r="0.60" fill="#a9afb8"/>
<circle cx="88.73" cy="104.17" r="0.60" fill="#b7bcc3"/>
<circle cx="90.64" cy="89.95" r="0.60" fill="#8d9dbd"/>
<circle cx="92.20" cy="136.34" r="0.60" fill="#b7bcc3"/>
<circle cx="90.71" cy="95.43" r="0.60" fill="#9aa0aa"/>
<circle cx="87.65" cy="136.67" r="0.60" fill="#d0d3d8"/>
<circle cx="89.78" cy="91.78" r="0.60" fill="#d0d3d8"/>
<circle cx="83.91" cy="101.64" r="0.60" fill="#8d9dbd"/>
<circle cx="90.22" cy="130.30" r="0.60" fill="#b7bcc3"/>
<circle cx="89.61" cy="130.37" r="0.60" fill="#9aa6bd"/>
<circle cx="87.91" cy="113.94" r="0.60" fill="#a9afb8"/>
<circle cx="80.03" cy="132.63" r="0.60" fill="#a9afb8"/>
<circle cx="89.70" cy="119.95" r="0.60" fill="#c2c6cc"/>
<circle cx="84.70" cy="113.69" r="0.60" fill="#a9afb8"/>
<circle cx="87.21" cy="119.89" r="0.60" fill="#9a9ea5"/>
<circle cx="91.45" cy="117.95" r="0.60" fill="#9aa6bd"/>
<circle cx="86.27" cy="100.39" r="0.60" fill="#b7bcc3"/>
<circle cx="90.34" cy="132.83" r="0.60" fill="#9aa0aa"/>
<circle cx="90.24" cy="118.66" r="0.60" fill="#9aa6bd"/>
<circle cx="89.34" cy="116.52" r="0.60" fill="#9a9ea5"/>
<circle cx="90.22" cy="113.05" r="0.60" fill="#8d9dbd"/>
<circle cx="90.48" cy="131.06" r="0.60" fill="#d0d3d8"/>
<circle cx="88.44" cy="106.13" r="0.60" fill="#b7bcc3"/>
<circle cx="91.56" cy="94.17" r="0.60" fill="#9aa6bd"/>
<circle cx="91.39" cy="102.67" r="0.60" fill="#9a9ea5"/>
<circle cx="90.41" cy="117.85" r="0.60" fill="#b7bcc3"/>
<circle cx="89.90" cy="137.00" r="0.60" fill="#a9afb8"/>
<circle cx="91.53" cy="123.49" r="0.60" fill="#9aa6bd"/>
<circle cx="90.49" cy="96.90" r="0.60" fill="#c2c6cc"/>
<circle cx="92.01" cy="125.13" r="0.60" fill="#a9afb8"/>
<circle cx="90.70" cy="84.41" r="0.60" fill="#d0d3d8"/>
<circle cx="88.35" cy="131.95" r="0.60" fill="#c2c6cc"/>
<circle cx="90.66" cy="108.78" r="0.60" fill="#8d9dbd"/>
<circle cx="90.15" cy="134.21" r="0.60" fill="#c2c6cc"/>
<circle cx="89.32" cy="136.83" r="0.60" fill="#c2c6cc"/>
<circle cx="90.69" cy="104.52" r="0.60" fill="#c2c6cc"/>
<circle cx="88.93" cy="105.71" r="0.60" fill="#b7bcc3"/>
<circle cx="89.85" cy="103.84" r="0.60" fill="#d0d3d8"/>
<circle cx="89.47" cy="129.20" r="0.60" fill="#a9afb8"/>
<circle cx="89.95" cy="125.60" r="0.60" fill="#c2c6cc"/>
<circle cx="91.01" cy="101.83" r="0.60" fill="#8d9dbd"/>
<circle cx="89.61" cy="113.29" r="0.60" fill="#9aa0aa"/>
<circle cx="89.34" cy="119.04" r="0.60" fill="#9aa6bd"/>
<circle cx="89.49" cy="123.23" r="0.60" fill="#9aa0aa"/>
<circle cx="88.75" cy="118.08" r="0.60" fill="#a9afb8"/>
<circle cx="87.43" cy="129.77" r="0.60" fill="#9aa6bd"/>
<circle cx="91.15" cy="114.63" r="0.60" fill="#d0d3d8"/>
<circle cx="86.15" cy="126.96" r="0.60" fill="#9aa0aa"/>
<circle cx="87.48" cy="100.00" r="0.60" fill="#9a9ea5"/>
<circle cx="84.08" cy="103.74" r="0.60" fill="#b7bcc3"/>
<circle cx="89.76" cy="136.49" r="0.60" fill="#a9afb8"/>
<circle cx="91.58" cy="101.93" r="0.60" fill="#9aa0aa"/>
<circle cx="92.24" cy="112.00" r="0.60" fill="#9aa0aa"/>
<circle cx="88.15" cy="135.24" r="0.60" fill="#c2c6cc"/>
<circle cx="88.16" cy="109.33" r="0.60" fill="#8d9dbd"/>
<circle cx="89.67" cy="123.48" r="0.60" fill="#c2c6cc"/>
<circle cx="87.75" cy="125.77" r="0.60" fill="#b7bcc3"/>
<circle cx="82.12" cy="135.10" r="0.60" fill="#d0d3d8"/>
<circle cx="91.80" cy="124.21" r="0.60" fill="#a9afb8"/>
<circle cx="90.23" cy="103.17" r="0.60" fill="#d0d3d8"/>
<circle cx="88.30" cy="105.14" r="0.60" fill="#9aa6bd"/>
<circle cx="88.85" cy="107.92" r="0.60" fill="#c2c6cc"/>
<circle cx="89.03" cy="133.18" r="0.60" fill="#9aa6bd"/>
<circle cx="91.46" cy="108.74" r="0.60" fill="#b7bcc3"/>
<circle cx="91.88" cy="112.39" r="0.60" fill="#8d9dbd"/>
<circle cx="86.31" cy="133.30" r="0.60" fill="#d0d3d8"/>
<circle cx="85.90" cy="136.80" r="0.60" fill="#8d9dbd"/>
<circle cx="88.64" cy="107.99" r="0.60" fill="#9a9ea5"/>
<circle cx="88.10" cy="133.98" r="0.60" fill="#a9afb8"/>
<circle cx="90.25" cy="116.73" r="0.60" fill="#8d9dbd"/>
<circle cx="91.46" cy="130.44" r="0.60" fill="#9a9ea5"/>
<circle cx="91.83" cy="123.52" r="0.60" fill="#9a9ea5"/>
<circle cx="91.83" cy="134.15" r="0.60" fill="#9aa0aa"/>
<circle cx="91.91" cy="127.77" r="0.60" fill="#8d9dbd"/>
<circle cx="92.30" cy="125.47" r="0.60" fill="#9aa6bd"/>
<circle cx="90.74" cy="124.28" r="0.60" fill="#d0d3d8"/>
<circle cx="90.99" cy="125.20" r="0.60" fill="#c2c6cc"/>
<circle cx="91.67" cy="122.27" r="0.60" fill="#a9afb8"/>
<circle cx="88.15" cy="89.50" r="0.60" fill="#8d9dbd"/>
<circle cx="90.30" cy="99.72" r="0.60" fill="#a9afb8"/>
<circle cx="92.08" cy="109.60" r="0.60" fill="#a9afb8"/>
<circle cx="89.35" cy="130.59" r="0.60" fill="#b7bcc3"/>
<circle cx="90.19" cy="111.44" r="0.60" fill="#9aa0aa"/>
<circle cx="83.65" cy="131.96" r="0.60" fill="#d0d3d8"/>
<circle cx="92.25" cy="121.91" r="0.60" fill="#9aa0aa"/>
<circle cx="90.42" cy="118.17" r="0.60" fill="#d0d3d8"/>
<circle cx="88.41" cy="94.57" r="0.60" fill="#9a9ea5"/>
<circle cx="76.39" cy="85.47" r="0.60" fill="#a9afb8"/>
<circle cx="90.70" cy="115.23" r="0.60" fill="#9aa0aa"/>
<circle cx="91.08" cy="136.47" r="0.60" fill="#9a9ea5"/>
<circle cx="91.66" cy="126.72" r="0.60" fill="#d0d3d8"/>
<circle cx="83.80" cy="132.16" r="0.60" fill="#9aa0aa"/>
<circle cx="91.35" cy="111.26" r="0.60" fill="#9aa6bd"/>
<circle cx="88.10" cy="93.59" r="0.60" fill="#9a9ea5"/>
<circle cx="88.53" cy="99.58" r="0.60" fill="#b7bcc3"/>
<circle cx="91.52" cy="114.26" r="0.60" fill="#8d9dbd"/>
<circle cx="85.24" cy="121.29" r="0.60" fill="#8d9dbd"/>
<circle cx="105.96" cy="113.55" r="0.60" fill="#aaadb3"/>
<circle cx="106.11" cy="137.01" r="0.60" fill="#b5b5b9"/>
<circle cx="105.32" cy="122.98" r="0.60" fill="#cfa8b2"/>
<circle cx="105.04" cy="115.00" r="0.60" fill="#aaadb3"/>
<circle cx="104.83" cy="124.28" r="0.60" fill="#a39ca0"/>
<circle cx="110.05" cy="91.78" r="0.60" fill="#cfa8b2"/>
<circle cx="105.28" cy="84.16" r="0.60" fill="#b5b5b9"/>
<circle cx="106.31" cy="125.74" r="0.60" fill="#b3afb4"/>
<circle cx="105.83" cy="136.84" r="0.60" fill="#cfa8b2"/>
<circle cx="106.76" cy="113.47" r="0.60" fill="#c8c4c7"/>
<circle cx="106.98" cy="137.33" r="0.60" fill="#cfa8b2"/>
<circle cx="106.58" cy="113.07" r="0.60" fill="#a39ca0"/>
<circle cx="106.05" cy="88.18" r="0.60" fill="#b3afb4"/>
<circle cx="105.26" cy="100.01" r="0.60" fill="#cfa8b2"/>
<circle cx="105.43" cy="126.12" r="0.60" fill="#a39ca0"/>
<circle cx="104.82" cy="131.02" r="0.60" fill="#c8c4c7"/>
<circle cx="108.14" cy="102.02" r="0.60" fill="#b3afb4"/>
<circle cx="107.00" cy="102.02" r="0.60" fill="#c8c4c7"/>
<circle cx="105.69" cy="99.39" r="0.60" fill="#c8c4c7"/>
<circle cx="105.24" cy="111.73" r="0.60" fill="#aaadb3"/>
<circle cx="107.04" cy="133.21" r="0.60" fill="#b5b5b9"/>
<circle cx="105.18" cy="133.98" r="0.60" fill="#b5b5b9"/>
<circle cx="108.11" cy="130.77" r="0.60" fill="#c8c4c7"/>
<circle cx="105.52" cy="105.89" r="0.60" fill="#cfa8b2"/>
<circle cx="104.90" cy="136.05" r="0.60" fill="#cfa8b2"/>
<circle cx="109.58" cy="91.86" r="0.60" fill="#a39ca0"/>
<circle cx="106.74" cy="133.94" r="0.60" fill="#cfa8b2"/>
<circle cx="105.35" cy="134.23" r="0.60" fill="#cfa8b2"/>
<circle cx="104.86" cy="123.00" r="0.60" fill="#b3afb4"/>
<circle cx="104.83" cy="135.92" r="0.60" fill="#a39ca0"/>
<circle cx="108.17" cy="90.63" r="0.60" fill="#b3afb4"/>
<circle cx="104.79" cy="124.54" r="0.60" fill="#cfa8b2"/>
<circle cx="107.61" cy="132.88" r="0.60" fill="#bda8b0"/>
<circle cx="107.59" cy="124.43" r="0.60" fill="#b3afb4"/>
<circle cx="106.70" cy="105.31" r="0.60" fill="#a39ca0"/>
<circle cx="106.49" cy="104.35" r="0.60" fill="#b3afb4"/>
<circle cx="105.25" cy="105.51" r="0.60" fill="#cfa8b2"/>
<circle cx="108.88" cy="122.71" r="0.60" fill="#aaadb3"/>
<circle cx="105.13" cy="133.08" r="0.60" fill="#b3afb4"/>
<circle cx="104.93" cy="137.18" r="0.60" fill="#a39ca0"/>
<circle cx="105.62" cy="104.24" r="0.60" fill="#cfa8b2"/>
<circle cx="105.75" cy="98.52" r="0.60" fill="#bda8b0"/>
<circle cx="108.08" cy="124.54" r="0.60" fill="#b5b5b9"/>
<circle cx="106.29" cy="128.37" r="0.60" fill="#b5b5b9"/>
<circle cx="104.90" cy="108.50" r="0.60" fill="#bda8b0"/>
<circle cx="106.68" cy="100.81" r="0.60" fill="#aaadb3"/>
<circle cx="105.69" cy="133.05" r="0.60" fill="#c8c4c7"/>
<circle cx="106.23" cy="124.85" r="0.60" fill="#c8c4c7"/>
<circle cx="106.05" cy="131.44" r="0.60" fill="#c8c4c7"/>
<circle cx="106.04" cy="128.69" r="0.60" fill="#b3afb4"/>
<circle cx="106.59" cy="111.36" r="0.60" fill="#c8c4c7"/>
<circle cx="105.40" cy="116.85" r="0.60" fill="#b5b5b9"/>
<circle cx="104.65" cy="132.96" r="0.60" fill="#bda8b0"/>
<circle cx="105.91" cy="124.24" r="0.60" fill="#cfa8b2"/>
<circle cx="106.01" cy="134.61" r="0.60" fill="#cfa8b2"/>
<circle cx="105.63" cy="105.13" r="0.60" fill="#bda8b0"/>
<circle cx="105.15" cy="117.65" r="0.60" fill="#b3afb4"/>
<circle cx="105.25" cy="119.00" r="0.60" fill="#bda8b0"/>
<circle cx="107.59" cy="112.72" r="0.60" fill="#c8c4c7"/>
<circle cx="108.07" cy="124.58" r="0.60" fill="#c8c4c7"/>
<circle cx="109.22" cy="85.66" r="0.60" fill="#bda8b0"/>
<circle cx="105.15" cy="87.32" r="0.60" fill="#c8c4c7"/>
<circle cx="107.74" cy="124.16" r="0.60" fill="#cfa8b2"/>
<circle cx="105.06" cy="128.50" r="0.60" fill="#b5b5b9"/>
<circle cx="106.45" cy="135.06" r="0.60" fill="#c8c4c7"/>
<circle cx="104.61" cy="77.26" r="0.60" fill="#bda8b0"/>
<circle cx="104.84" cy="129.17" r="0.60" fill="#cfa8b2"/>
<circle cx="105.86" cy="133.68" r="0.60" fill="#aaadb3"/>
<circle cx="104.82" cy="135.66" r="0.60" fill="#cfa8b2"/>
<circle cx="105.39" cy="134.71" r="0.60" fill="#c8c4c7"/>
<circle cx="105.02" cy="130.11" r="0.60" fill="#cfa8b2"/>
<circle cx="108.15" cy="110.92" r="0.60" fill="#c8c4c7"/>
<circle cx="106.74" cy="133.45" r="0.60" fill="#b5b5b9"/>
<circle cx="104.99" cy="120.34" r="0.60" fill="#b3afb4"/>
<circle cx="105.85" cy="100.87" r="0.60" fill="#aaadb3"/>
<circle cx="106.18" cy="125.98" r="0.60" fill="#c8c4c7"/>
<circle cx="105.67" cy="135.91" r="0.60" fill="#b3afb4"/>
<circle cx="106.56" cy="123.33" r="0.60" fill="#c8c4c7"/>
<circle cx="106.71" cy="114.74" r="0.60" fill="#c8c4c7"/>
<circle cx="106.04" cy="126.37" r="0.60" fill="#b3afb4"/>
<circle cx="105.89" cy="111.46" r="0.60" fill="#b3afb4"/>
<circle cx="105.67" cy="127.69" r="0.60" fill="#c8c4c7"/>
<circle cx="106.06" cy="115.12" r="0.60" fill="#b5b5b9"/>
<circle cx="105.58" cy="79.79" r="0.60" fill="#aaadb3"/>
<circle cx="108.71" cy="109.27" r="0.60" fill="#c8c4c7"/>
<circle cx="106.77" cy="117.83" r="0.60" fill="#bda8b0"/>
<circle cx="104.61" cy="130.28" r="0.60" fill="#bda8b0"/>
<circle cx="106.45" cy="136.64" r="0.60" fill="#b3afb4"/>
<circle cx="106.90" cy="127.04" r="0.60" fill="#c8c4c7"/>
<circle cx="105.20" cy="108.63" r="0.60" fill="#c8c4c7"/>
<circle cx="105.18" cy="132.42" r="0.60" fill="#b5b5b9"/>
<circle cx="107.34" cy="92.27" r="0.60" fill="#a39ca0"/>
<circle cx="106.02" cy="132.43" r="0.60" fill="#b5b5b9"/>
<circle cx="104.69" cy="126.29" r="0.60" fill="#a39ca0"/>
<circle cx="105.81" cy="136.83" r="0.60" fill="#c8c4c7"/>
<circle cx="107.25" cy="80.53" r="0.60" fill="#a39ca0"/>
<circle cx="104.69" cy="130.32" r="0.60" fill="#aaadb3"/>
<circle cx="105.22" cy="134.22" r="0.60" fill="#b5b5b9"/>
<circle cx="107.59" cy="109.54" r="0.60" fill="#b3afb4"/>
<circle cx="104.71" cy="106.33" r="0.60" fill="#a39ca0"/>
<circle cx="107.94" cy="77.27" r="0.60" fill="#b3afb4"/>
<circle cx="105.94" cy="124.02" r="0.60" fill="#b3afb4"/>
<circle cx="107.25" cy="122.97" r="0.60" fill="#aaadb3"/>
<circle cx="106.33" cy="122.50" r="0.60" fill="#a39ca0"/>
<circle cx="105.93" cy="123.35" r="0.60" fill="#aaadb3"/>
<circle cx="106.02" cy="121.44" r="0.60" fill="#cfa8b2"/>
<circle cx="105.29" cy="120.77" r="0.60" fill="#bda8b0"/>
<circle cx="108.04" cy="109.36" r="0.60" fill="#cfa8b2"/>
<circle cx="104.86" cy="120.73" r="0.60" fill="#b3afb4"/>
<circle cx="106.58" cy="96.49" r="0.60" fill="#b3afb4"/>
<circle cx="108.09" cy="116.46" r="0.60" fill="#a39ca0"/>
<circle cx="105.92" cy="115.71" r="0.60" fill="#b3afb4"/>
<circle cx="106.27" cy="125.99" r="0.60" fill="#b3afb4"/>
<circle cx="106.04" cy="116.90" r="0.60" fill="#aaadb3"/>
<circle cx="105.21" cy="120.46" r="0.60" fill="#b3afb4"/>
<circle cx="105.33" cy="127.09" r="0.60" fill="#bda8b0"/>
<circle cx="104.70" cy="121.17" r="0.60" fill="#cfa8b2"/>
<circle cx="105.60" cy="132.72" r="0.60" fill="#c8c4c7"/>
<circle cx="105.77" cy="115.67" r="0.60" fill="#bda8b0"/>
<circle cx="105.44" cy="120.35" r="0.60" fill="#c8c4c7"/>
<circle cx="105.59" cy="92.54" r="0.60" fill="#aaadb3"/>
<circle cx="106.26" cy="136.22" r="0.60" fill="#cfa8b2"/>
<circle cx="108.57" cy="90.10" r="0.60" fill="#b3afb4"/>
<circle cx="106.87" cy="103.94" r="0.60" fill="#bda8b0"/>
<circle cx="107.96" cy="119.34" r="0.60" fill="#b3afb4"/>
<circle cx="104.66" cy="120.07" r="0.60" fill="#aaadb3"/>
<circle cx="105.95" cy="129.12" r="0.60" fill="#bda8b0"/>
<circle cx="105.37" cy="132.16" r="0.60" fill="#aaadb3"/>
<circle cx="105.58" cy="129.68" r="0.60" fill="#c8c4c7"/>
<circle cx="104.83" cy="116.06" r="0.60" fill="#a39ca0"/>
<circle cx="108.03" cy="132.76" r="0.60" fill="#aaadb3"/>
<circle cx="106.65" cy="135.60" r="0.60" fill="#c8c4c7"/>
<circle cx="105.75" cy="109.86" r="0.60" fill="#bda8b0"/>
<circle cx="104.95" cy="131.74" r="0.60" fill="#cfa8b2"/>
<circle cx="105.09" cy="104.33" r="0.60" fill="#bda8b0"/>
<circle cx="105.88" cy="111.20" r="0.60" fill="#bda8b0"/>
<circle cx="104.90" cy="120.79" r="0.60" fill="#b3afb4"/>
<circle cx="106.50" cy="89.53" r="0.60" fill="#a39ca0"/>
<circle cx="106.12" cy="136.91" r="0.60" fill="#bda8b0"/>
<circle cx="106.44" cy="108.14" r="0.60" fill="#a39ca0"/>
<circle cx="105.55" cy="105.66" r="0.60" fill="#bda8b0"/>
<circle cx="107.51" cy="134.98" r="0.60" fill="#b5b5b9"/>
<circle cx="107.15" cy="114.81" r="0.60" fill="#b3afb4"/>
<circle cx="106.34" cy="134.72" r="0.60" fill="#aaadb3"/>
<circle cx="106.67" cy="93.94" r="0.60" fill="#cfa8b2"/>
<circle cx="106.24" cy="123.15" r="0.60" fill="#c8c4c7"/>
<circle cx="108.41" cy="129.78" r="0.60" fill="#aaadb3"/>
<circle cx="104.63" cy="104.04" r="0.60" fill="#aaadb3"/>
<circle cx="107.48" cy="128.26" r="0.60" fill="#b5b5b9"/>
<circle cx="104.75" cy="136.09" r="0.60" fill="#b5b5b9"/>
<circle cx="109.15" cy="109.18" r="0.60" fill="#b3afb4"/>
<circle cx="106.78" cy="109.17" r="0.60" fill="#c8c4c7"/>
<circle cx="106.62" cy="87.21" r="0.60" fill="#c8c4c7"/>
<circle cx="105.05" cy="112.77" r="0.60" fill="#c8c4c7"/>
<circle cx="105.86" cy="124.60" r="0.60" fill="#b3afb4"/>
<circle cx="106.73" cy="128.85" r="0.60" fill="#b5b5b9"/>
<circle cx="107.99" cy="129.96" r="0.60" fill="#bda8b0"/>
<circle cx="109.53" cy="128.68" r="0.60" fill="#bda8b0"/>
<circle cx="105.44" cy="126.78" r="0.60" fill="#aaadb3"/>
<circle cx="104.61" cy="89.57" r="0.60" fill="#b3afb4"/>
<circle cx="108.91" cy="130.26" r="0.60" fill="#a39ca0"/>
<circle cx="104.72" cy="132.88" r="0.60" fill="#b5b5b9"/>
<circle cx="105.98" cy="115.50" r="0.60" fill="#bda8b0"/>
<circle cx="104.86" cy="125.92" r="0.60" fill="#c8c4c7"/>
<circle cx="105.59" cy="128.42" r="0.60" fill="#aaadb3"/>
<circle cx="106.19" cy="116.32" r="0.60" fill="#b5b5b9"/>
<circle cx="104.67" cy="124.98" r="0.60" fill="#b3afb4"/>
<circle cx="105.46" cy="129.62" r="0.60" fill="#b5b5b9"/>
<circle cx="104.79" cy="119.03" r="0.60" fill="#a39ca0"/>
<circle cx="107.42" cy="118.46" r="0.60" fill="#bda8b0"/>
<circle cx="104.95" cy="135.89" r="0.60" fill="#a39ca0"/>
<circle cx="106.12" cy="120.02" r="0.60" fill="#c8c4c7"/>
<circle cx="105.01" cy="133.25" r="0.60" fill="#b3afb4"/>
<circle cx="104.89" cy="114.20" r="0.60" fill="#bda8b0"/>
<circle cx="106.19" cy="102.49" r="0.60" fill="#c8c4c7"/>
<circle cx="108.01" cy="131.97" r="0.60" fill="#aaadb3"/>
<circle cx="106.06" cy="91.22" r="0.60" fill="#b3afb4"/>
<circle cx="105.09" cy="124.45" r="0.60" fill="#a39ca0"/>
<circle cx="105.92" cy="129.60" r="0.60" fill="#cfa8b2"/>
<circle cx="104.75" cy="134.11" r="0.60" fill="#b3afb4"/>
<circle cx="105.31" cy="135.61" r="0.60" fill="#cfa8b2"/>
<circle cx="105.46" cy="100.66" r="0.60" fill="#bda8b0"/>
<circle cx="107.82" cy="84.69" r="0.60" fill="#c8c4c7"/>
<circle cx="106.69" cy="137.05" r="0.60" fill="#b3afb4"/>
<circle cx="106.04" cy="87.19" r="0.60" fill="#b3afb4"/>
<circle cx="107.26" cy="129.52" r="0.60" fill="#aaadb3"/>
<circle cx="106.91" cy="119.58" r="0.60" fill="#a39ca0"/>
<circle cx="108.77" cy="122.00" r="0.60" fill="#b5b5b9"/>
<circle cx="105.38" cy="129.68" r="0.60" fill="#b3afb4"/>
<circle cx="108.87" cy="111.67" r="0.60" fill="#aaadb3"/>
<circle cx="105.93" cy="121.83" r="0.60" fill="#bda8b0"/>
<circle cx="106.46" cy="113.53" r="0.60" fill="#b5b5b9"/>
<circle cx="105.25" cy="131.16" r="0.60" fill="#b5b5b9"/>
<circle cx="105.65" cy="134.39" r="0.60" fill="#b3afb4"/>
<circle cx="108.54" cy="133.55" r="0.60" fill="#cfa8b2"/>
<circle cx="105.94" cy="127.78" r="0.60" fill="#a39ca0"/>
<circle cx="106.63" cy="120.36" r="0.60" fill="#c8c4c7"/>
<circle cx="107.41" cy="126.12" r="0.60" fill="#bda8b0"/>
<circle cx="105.35" cy="123.38" r="0.60" fill="#a39ca0"/>
<circle cx="107.28" cy="96.79" r="0.60" fill="#aaadb3"/>
<circle cx="106.22" cy="118.46" r="0.60" fill="#aaadb3"/>
<circle cx="106.28" cy="132.97" r="0.60" fill="#bda8b0"/>
<circle cx="106.46" cy="135.50" r="0.60" fill="#b5b5b9"/>
<circle cx="108.03" cy="101.73" r="0.60" fill="#bda8b0"/>
<circle cx="105.51" cy="122.85" r="0.60" fill="#b5b5b9"/>
<circle cx="105.29" cy="119.15" r="0.60" fill="#bda8b0"/>
<circle cx="105.52" cy="94.60" r="0.60" fill="#bda8b0"/>
<circle cx="107.06" cy="126.30" r="0.60" fill="#aaadb3"/>
<circle cx="105.23" cy="134.07" r="0.60" fill="#cfa8b2"/>
<circle cx="105.50" cy="116.52" r="0.60" fill="#c8c4c7"/>
<circle cx="105.65" cy="125.73" r="0.60" fill="#a39ca0"/>
<circle cx="104.68" cy="122.47" r="0.60" fill="#aaadb3"/>
<circle cx="105.11" cy="125.05" r="0.60" fill="#bda8b0"/>
<circle cx="107.36" cy="103.70" r="0.60" fill="#c8c4c7"/>
<circle cx="105.05" cy="127.65" r="0.60" fill="#c8c4c7"/>
<circle cx="104.74" cy="93.63" r="0.60" fill="#cfa8b2"/>
<circle cx="104.91" cy="101.06" r="0.60" fill="#a39ca0"/>
<circle cx="105.45" cy="130.57" r="0.60" fill="#c8c4c7"/>
<circle cx="106.16" cy="121.34" r="0.60" fill="#b5b5b9"/>
<circle cx="106.51" cy="121.83" r="0.60" fill="#b5b5b9"/>
<circle cx="106.78" cy="96.60" r="0.60" fill="#aaadb3"/>
<circle cx="106.41" cy="112.01" r="0.60" fill="#cfa8b2"/>
<circle cx="106.34" cy="105.44" r="0.60" fill="#aaadb3"/>
<circle cx="104.87" cy="116.16" r="0.60" fill="#cfa8b2"/>
<circle cx="107.12" cy="131.78" r="0.60" fill="#a39ca0"/>
<circle cx="106.06" cy="96.37" r="0.60" fill="#c8c4c7"/>
<circle cx="106.46" cy="135.86" r="0.60" fill="#aaadb3"/>
<circle cx="105.25" cy="117.23" r="0.60" fill="#bda8b0"/>
<circle cx="106.30" cy="127.55" r="0.60" fill="#bda8b0"/>
<circle cx="108.24" cy="106.82" r="0.60" fill="#aaadb3"/>
<circle cx="107.15" cy="130.60" r="0.60" fill="#bda8b0"/>
<circle cx="105.84" cy="133.00" r="0.60" fill="#cfa8b2"/>
<circle cx="108.28" cy="96.49" r="0.60" fill="#b3afb4"/>
<circle cx="106.94" cy="127.65" r="0.60" fill="#cfa8b2"/>
<circle cx="105.33" cy="106.83" r="0.60" fill="#aaadb3"/>
<circle cx="111.20" cy="115.23" r="0.60" fill="#b5b5b9"/>
<circle cx="106.00" cy="100.25" r="0.60" fill="#cfa8b2"/>
<circle cx="105.97" cy="121.85" r="0.60" fill="#b5b5b9"/>
<circle cx="105.53" cy="111.95" r="0.60" fill="#b3afb4"/>
<circle cx="105.63" cy="109.09" r="0.60" fill="#b3afb4"/>
<circle cx="106.49" cy="121.00" r="0.60" fill="#a39ca0"/>
<circle cx="106.90" cy="124.73" r="0.60" fill="#bda8b0"/>
<circle cx="106.74" cy="130.85" r="0.60" fill="#cfa8b2"/>
<circle cx="105.04" cy="82.14" r="0.60" fill="#b5b5b9"/>
<circle cx="105.89" cy="110.88" r="0.60" fill="#c8c4c7"/>
<circle cx="106.11" cy="123.98" r="0.60" fill="#aaadb3"/>
<circle cx="108.12" cy="130.93" r="0.60" fill="#b5b5b9"/>
<circle cx="105.85" cy="103.60" r="0.60" fill="#aaadb3"/>
<circle cx="105.90" cy="92.70" r="0.60" fill="#b5b5b9"/>
<circle cx="106.12" cy="119.93" r="0.60" fill="#bda8b0"/>
<circle cx="108.06" cy="130.29" r="0.60" fill="#bda8b0"/>
<circle cx="105.83" cy="136.98" r="0.60" fill="#bda8b0"/>
<circle cx="106.88" cy="125.12" r="0.60" fill="#b3afb4"/>
<circle cx="104.97" cy="131.72" r="0.60" fill="#cfa8b2"/>
<circle cx="104.74" cy="137.37" r="0.60" fill="#a39ca0"/>
<circle cx="104.66" cy="135.36" r="0.60" fill="#aaadb3"/>
<circle cx="105.29" cy="130.39" r="0.60" fill="#b3afb4"/>
<circle cx="105.22" cy="122.52" r="0.60" fill="#cfa8b2"/>
<circle cx="104.89" cy="104.10" r="0.60" fill="#c8c4c7"/>
<circle cx="106.01" cy="111.98" r="0.60" fill="#bda8b0"/>
<circle cx="106.35" cy="125.43" r="0.60" fill="#b3afb4"/>
<circle cx="106.00" cy="112.62" r="0.60" fill="#b5b5b9"/>
<circle cx="105.28" cy="130.08" r="0.60" fill="#bda8b0"/>
<circle cx="106.69" cy="127.78" r="0.60" fill="#cfa8b2"/>
<circle cx="107.21" cy="106.78" r="0.60" fill="#b3afb4"/>
<circle cx="106.30" cy="105.53" r="0.60" fill="#b5b5b9"/>
<circle cx="105.93" cy="100.52" r="0.60" fill="#aaadb3"/>
<circle cx="104.68" cy="130.86" r="0.60" fill="#a39ca0"/>
<circle cx="107.93" cy="104.58" r="0.60" fill="#b5b5b9"/>
<circle cx="105.74" cy="130.96" r="0.60" fill="#b5b5b9"/>
<circle cx="105.08" cy="131.76" r="0.60" fill="#cfa8b2"/>
<circle cx="108.78" cy="104.81" r="0.60" fill="#cfa8b2"/>
<circle cx="105.92" cy="131.05" r="0.60" fill="#bda8b0"/>
<circle cx="108.82" cy="121.10" r="0.60" fill="#c8c4c7"/>
<circle cx="104.70" cy="134.94" r="0.60" fill="#c8c4c7"/>
<circle cx="105.25" cy="117.25" r="0.60" fill="#b5b5b9"/>
<circle cx="104.65" cy="83.23" r="0.60" fill="#b3afb4"/>
<circle cx="104.68" cy="111.68" r="0.60" fill="#a39ca0"/>
<circle cx="106.29" cy="123.85" r="0.60" fill="#cfa8b2"/>
<circle cx="106.15" cy="116.38" r="0.60" fill="#c8c4c7"/>
<circle cx="105.15" cy="129.31" r="0.60" fill="#bda8b0"/>
<circle cx="105.37" cy="124.52" r="0.60" fill="#aaadb3"/>
<circle cx="106.03" cy="122.49" r="0.60" fill="#aaadb3"/>
<circle cx="106.43" cy="132.10" r="0.60" fill="#cfa8b2"/>
<circle cx="107.42" cy="83.56" r="0.60" fill="#cfa8b2"/>
<circle cx="105.41" cy="116.01" r="0.60" fill="#bda8b0"/>
<circle cx="106.22" cy="118.54" r="0.60" fill="#aaadb3"/>
<circle cx="104.64" cy="130.59" r="0.60" fill="#a39ca0"/>
<circle cx="107.99" cy="130.06" r="0.60" fill="#bda8b0"/>
<circle cx="104.83" cy="126.47" r="0.60" fill="#aaadb3"/>
<circle cx="107.81" cy="124.77" r="0.60" fill="#b5b5b9"/>
<circle cx="107.99" cy="120.25" r="0.60" fill="#c8c4c7"/>
<circle cx="104.71" cy="112.64" r="0.60" fill="#bda8b0"/>
<circle cx="104.92" cy="112.59" r="0.60" fill="#b5b5b9"/>
<circle cx="105.96" cy="136.93" r="0.60" fill="#cfa8b2"/>
<circle cx="106.65" cy="82.15" r="0.60" fill="#aaadb3"/>
<circle cx="106.29" cy="121.62" r="0.60" fill="#aaadb3"/>
<circle cx="106.49" cy="131.78" r="0.60" fill="#b5b5b9"/>
<circle cx="105.50" cy="86.20" r="0.60" fill="#b3afb4"/>
<circle cx="104.96" cy="127.26" r="0.60" fill="#c8c4c7"/>
<circle cx="105.02" cy="93.18" r="0.60" fill="#cfa8b2"/>
<circle cx="107.58" cy="130.07" r="0.60" fill="#bda8b0"/>
<circle cx="105.30" cy="113.51" r="0.60" fill="#b3afb4"/>
<circle cx="105.72" cy="95.21" r="0.60" fill="#bda8b0"/>
<circle cx="105.81" cy="102.92" r="0.60" fill="#b3afb4"/>
<circle cx="108.43" cy="113.62" r="0.60" fill="#c8c4c7"/>
<circle cx="106.19" cy="137.45" r="0.60" fill="#b3afb4"/>
<circle cx="104.76" cy="126.56" r="0.60" fill="#aaadb3"/>
<circle cx="106.72" cy="108.09" r="0.60" fill="#aaadb3"/>
<circle cx="106.86" cy="98.05" r="0.60" fill="#cfa8b2"/>
<circle cx="105.22" cy="84.33" r="0.60" fill="#c8c4c7"/>
<circle cx="107.51" cy="91.19" r="0.60" fill="#bda8b0"/>
<circle cx="107.42" cy="130.25" r="0.60" fill="#a39ca0"/>
<circle cx="106.07" cy="85.84" r="0.60" fill="#b3afb4"/>
<circle cx="106.19" cy="103.60" r="0.60" fill="#bda8b0"/>
<circle cx="106.52" cy="137.49" r="0.60" fill="#a39ca0"/>
<circle cx="105.89" cy="125.07" r="0.60" fill="#aaadb3"/>
<circle cx="107.24" cy="115.43" r="0.60" fill="#a39ca0"/>
<circle cx="105.45" cy="113.73" r="0.60" fill="#b5b5b9"/>
<circle cx="105.26" cy="122.80" r="0.60" fill="#aaadb3"/>
<circle cx="106.33" cy="102.11" r="0.60" fill="#b5b5b9"/>
<circle cx="105.61" cy="103.10" r="0.60" fill="#bda8b0"/>
<circle cx="105.85" cy="130.13" r="0.60" fill="#cfa8b2"/>
<circle cx="104.90" cy="118.00" r="0.60" fill="#cfa8b2"/>
<circle cx="105.80" cy="107.67" r="0.60" fill="#b3afb4"/>
<circle cx="107.06" cy="108.95" r="0.60" fill="#a39ca0"/>
<circle cx="104.73" cy="129.99" r="0.60" fill="#c8c4c7"/>
<circle cx="107.12" cy="117.05" r="0.60" fill="#bda8b0"/>
<circle cx="104.82" cy="131.01" r="0.60" fill="#aaadb3"/>
<circle cx="105.64" cy="81.64" r="0.60" fill="#a39ca0"/>
<circle cx="106.29" cy="123.55" r="0.60" fill="#a39ca0"/>
<circle cx="107.07" cy="110.77" r="0.60" fill="#c8c4c7"/>
<circle cx="105.02" cy="106.20" r="0.60" fill="#aaadb3"/>
<circle cx="106.48" cy="128.47" r="0.60" fill="#aaadb3"/>
<circle cx="105.72" cy="97.74" r="0.60" fill="#c8c4c7"/>
<circle cx="106.01" cy="106.58" r="0.60" fill="#b5b5b9"/>
<circle cx="107.37" cy="124.03" r="0.60" fill="#cfa8b2"/>
<circle cx="106.31" cy="92.92" r="0.60" fill="#c8c4c7"/>
<circle cx="106.84" cy="105.84" r="0.60" fill="#b3afb4"/>
<circle cx="107.99" cy="123.16" r="0.60" fill="#b5b5b9"/>
<circle cx="104.77" cy="104.89" r="0.60" fill="#c8c4c7"/>
<circle cx="106.15" cy="112.72" r="0.60" fill="#bda8b0"/>
<circle cx="105.72" cy="133.92" r="0.60" fill="#aaadb3"/>
<circle cx="105.68" cy="128.31" r="0.60" fill="#aaadb3"/>
<circle cx="106.48" cy="107.45" r="0.60" fill="#cfa8b2"/>
<circle cx="105.27" cy="120.69" r="0.60" fill="#bda8b0"/>
<circle cx="107.51" cy="136.03" r="0.60" fill="#bda8b0"/>
<circle cx="106.23" cy="128.01" r="0.60" fill="#aaadb3"/>
<circle cx="106.59" cy="107.18" r="0.60" fill="#b5b5b9"/>
<circle cx="106.18" cy="128.43" r="0.60" fill="#c8c4c7"/>
<circle cx="106.07" cy="119.04" r="0.60" fill="#bda8b0"/>
<circle cx="105.09" cy="123.98" r="0.60" fill="#cfa8b2"/>
<circle cx="105.63" cy="115.04" r="0.60" fill="#bda8b0"/>
<circle cx="105.78" cy="123.34" r="0.60" fill="#aaadb3"/>
<circle cx="105.16" cy="136.85" r="0.60" fill="#aaadb3"/>
<circle cx="104.91" cy="125.63" r="0.60" fill="#aaadb3"/>
<circle cx="105.48" cy="133.42" r="0.60" fill="#aaadb3"/>
<circle cx="106.92" cy="126.08" r="0.60" fill="#aaadb3"/>
<circle cx="87.83" cy="132.49" r="0.60" fill="#bbbdc1"/>
<circle cx="88.47" cy="136.05" r="0.60" fill="#b5aeb2"/>
<circle cx="88.44" cy="122.72" r="0.60" fill="#b5aeb2"/>
<circle cx="79.54" cy="110.65" r="0.60" fill="#bbbdc1"/>
<circle cx="86.75" cy="110.70" r="0.60" fill="#aeb0b5"/>
<circle cx="72.99" cy="67.46" r="0.60" fill="#b5aeb2"/>
<circle cx="76.94" cy="125.77" r="0.60" fill="#b5aeb2"/>
<circle cx="78.93" cy="127.92" r="0.60" fill="#a3a5aa"/>
<circle cx="88.97" cy="136.25" r="0.60" fill="#bbbdc1"/>
<circle cx="85.10" cy="76.46" r="0.60" fill="#aeb0b5"/>
<circle cx="76.33" cy="120.15" r="0.60" fill="#b5aeb2"/>
<circle cx="86.45" cy="132.47" r="0.60" fill="#b5aeb2"/>
<circle cx="88.27" cy="77.46" r="0.60" fill="#a3a5aa"/>
<circle cx="76.34" cy="96.34" r="0.60" fill="#aeb0b5"/>
<circle cx="80.27" cy="123.51" r="0.60" fill="#aeb0b5"/>
<circle cx="72.99" cy="76.65" r="0.60" fill="#aeb0b5"/>
<circle cx="77.24" cy="128.63" r="0.60" fill="#b5aeb2"/>
<circle cx="82.83" cy="67.28" r="0.60" fill="#b5aeb2"/>
<circle cx="81.65" cy="117.52" r="0.60" fill="#bbbdc1"/>
<circle cx="86.33" cy="109.76" r="0.60" fill="#a3a5aa"/>
<circle cx="66.66" cy="58.52" r="0.60" fill="#a3a5aa"/>
<circle cx="76.48" cy="92.35" r="0.60" fill="#a3a5aa"/>
<circle cx="83.30" cy="133.89" r="0.60" fill="#95979c"/>
<circle cx="75.64" cy="75.23" r="0.60" fill="#bbbdc1"/>
<circle cx="88.89" cy="131.33" r="0.60" fill="#8c94a3"/>
<circle cx="87.71" cy="74.72" r="0.60" fill="#8c94a3"/>
<circle cx="85.54" cy="115.80" r="0.60" fill="#8c94a3"/>
<circle cx="67.12" cy="90.06" r="0.60" fill="#aeb0b5"/>
<circle cx="68.56" cy="136.74" r="0.60" fill="#a3a5aa"/>
<circle cx="86.47" cy="69.24" r="0.60" fill="#a3a5aa"/>
<circle cx="69.51" cy="119.35" r="0.60" fill="#b5aeb2"/>
<circle cx="88.50" cy="121.57" r="0.60" fill="#a3a5aa"/>
<circle cx="75.22" cy="112.32" r="0.60" fill="#bbbdc1"/>
<circle cx="82.77" cy="61.42" r="0.60" fill="#b5aeb2"/>
<circle cx="44.45" cy="73.59" r="0.60" fill="#8c94a3"/>
<circle cx="85.61" cy="136.14" r="0.60" fill="#95979c"/>
<circle cx="77.95" cy="88.84" r="0.60" fill="#8c94a3"/>
<circle cx="72.16" cy="103.47" r="0.60" fill="#aeb0b5"/>
<circle cx="82.92" cy="111.33" r="0.60" fill="#aeb0b5"/>
<circle cx="80.48" cy="107.10" r="0.60" fill="#b5aeb2"/>
<circle cx="84.45" cy="137.63" r="0.60" fill="#bbbdc1"/>
<circle cx="68.19" cy="92.01" r="0.60" fill="#a3a5aa"/>
<circle cx="75.79" cy="95.06" r="0.60" fill="#bbbdc1"/>
<circle cx="78.94" cy="120.72" r="0.60" fill="#a3a5aa"/>
<circle cx="83.87" cy="104.04" r="0.60" fill="#a3a5aa"/>
<circle cx="83.20" cy="61.75" r="0.60" fill="#a3a5aa"/>
<circle cx="69.49" cy="105.54" r="0.60" fill="#aeb0b5"/>
<circle cx="70.56" cy="96.11" r="0.60" fill="#a3a5aa"/>
<circle cx="88.86" cy="107.06" r="0.60" fill="#8c94a3"/>
<circle cx="75.41" cy="113.19" r="0.60" fill="#8c94a3"/>
<circle cx="76.99" cy="103.33" r="0.60" fill="#8c94a3"/>
<circle cx="78.74" cy="103.86" r="0.60" fill="#bbbdc1"/>
<circle cx="86.54" cy="93.19" r="0.60" fill="#8c94a3"/>
<circle cx="82.41" cy="105.32" r="0.60" fill="#b5aeb2"/>
<circle cx="66.11" cy="76.57" r="0.60" fill="#b5aeb2"/>
<circle cx="83.41" cy="108.42" r="0.60" fill="#bbbdc1"/>
<circle cx="80.85" cy="77.48" r="0.60" fill="#a3a5aa"/>
<circle cx="83.97" cy="104.20" r="0.60" fill="#95979c"/>
<circle cx="88.51" cy="133.95" r="0.60" fill="#a3a5aa"/>
<circle cx="86.24" cy="137.18" r="0.60" fill="#95979c"/>
<circle cx="84.39" cy="137.85" r="0.60" fill="#aeb0b5"/>
<circle cx="85.71" cy="134.65" r="0.60" fill="#a3a5aa"/>
<circle cx="76.92" cy="115.76" r="0.60" fill="#a3a5aa"/>
<circle cx="77.27" cy="104.21" r="0.60" fill="#b5aeb2"/>
<circle cx="74.53" cy="72.99" r="0.60" fill="#aeb0b5"/>
<circle cx="65.03" cy="80.31" r="0.60" fill="#b5aeb2"/>
<circle cx="85.55" cy="93.09" r="0.60" fill="#aeb0b5"/>
<circle cx="83.35" cy="108.59" r="0.60" fill="#8c94a3"/>
<circle cx="88.00" cy="64.15" r="0.60" fill="#8c94a3"/>
<circle cx="85.91" cy="121.19" r="0.60" fill="#aeb0b5"/>
<circle cx="86.94" cy="105.47" r="0.60" fill="#b5aeb2"/>
<circle cx="84.64" cy="128.45" r="0.60" fill="#aeb0b5"/>
<circle cx="72.74" cy="131.21" r="0.60" fill="#8c94a3"/>
<circle cx="81.79" cy="114.66" r="0.60" fill="#95979c"/>
<circle cx="80.64" cy="110.72" r="0.60" fill="#a3a5aa"/>
<circle cx="84.52" cy="104.99" r="0.60" fill="#aeb0b5"/>
<circle cx="72.61" cy="72.66" r="0.60" fill="#8c94a3"/>
<circle cx="59.33" cy="72.48" r="0.60" fill="#8c94a3"/>
<circle cx="87.87" cy="58.33" r="0.60" fill="#bbbdc1"/>
<circle cx="82.67" cy="137.87" r="0.60" fill="#aeb0b5"/>
<circle cx="66.18" cy="58.66" r="0.60" fill="#95979c"/>
<circle cx="87.46" cy="80.71" r="0.60" fill="#95979c"/>
<circle cx="80.38" cy="136.37" r="0.60" fill="#8c94a3"/>
<circle cx="78.18" cy="118.32" r="0.60" fill="#bbbdc1"/>
<circle cx="81.56" cy="61.86" r="0.60" fill="#a3a5aa"/>
<circle cx="70.83" cy="72.74" r="0.60" fill="#8c94a3"/>
<circle cx="79.19" cy="108.26" r="0.60" fill="#aeb0b5"/>
<circle cx="71.95" cy="70.38" r="0.60" fill="#8c94a3"/>
<circle cx="82.81" cy="98.51" r="0.60" fill="#b5aeb2"/>
<circle cx="67.75" cy="112.41" r="0.60" fill="#8c94a3"/>
<circle cx="79.49" cy="112.35" r="0.60" fill="#aeb0b5"/>
<circle cx="84.58" cy="102.74" r="0.60" fill="#aeb0b5"/>
<circle cx="88.85" cy="129.37" r="0.60" fill="#8c94a3"/>
<circle cx="72.41" cy="137.23" r="0.60" fill="#a3a5aa"/>
<circle cx="79.58" cy="88.41" r="0.60" fill="#95979c"/>
<circle cx="79.53" cy="109.72" r="0.60" fill="#aeb0b5"/>
<circle cx="76.48" cy="120.95" r="0.60" fill="#a3a5aa"/>
<circle cx="77.27" cy="58.94" r="0.60" fill="#95979c"/>
<circle cx="82.22" cy="67.97" r="0.60" fill="#a3a5aa"/>
<circle cx="84.84" cy="83.49" r="0.60" fill="#b5aeb2"/>
<circle cx="70.01" cy="103.41" r="0.60" fill="#a3a5aa"/>
<circle cx="70.64" cy="72.77" r="0.60" fill="#a3a5aa"/>
<circle cx="80.67" cy="93.01" r="0.60" fill="#b5aeb2"/>
<circle cx="72.00" cy="120.53" r="0.60" fill="#b5aeb2"/>
<circle cx="78.54" cy="128.29" r="0.60" fill="#aeb0b5"/>
<circle cx="79.71" cy="136.81" r="0.60" fill="#aeb0b5"/>
<circle cx="70.00" cy="93.95" r="0.60" fill="#8c94a3"/>
<circle cx="76.56" cy="120.19" r="0.60" fill="#a3a5aa"/>
<circle cx="79.43" cy="79.76" r="0.60" fill="#a3a5aa"/>
<circle cx="88.90" cy="137.95" r="0.60" fill="#b5aeb2"/>
<circle cx="74.75" cy="113.60" r="0.60" fill="#aeb0b5"/>
<circle cx="80.84" cy="66.31" r="0.60" fill="#8c94a3"/>
<circle cx="86.76" cy="136.63" r="0.60" fill="#b5aeb2"/>
<circle cx="78.26" cy="103.40" r="0.60" fill="#b5aeb2"/>
<circle cx="66.07" cy="65.39" r="0.60" fill="#8c94a3"/>
<circle cx="53.53" cy="66.85" r="0.60" fill="#8c94a3"/>
<circle cx="65.94" cy="131.95" r="0.60" fill="#aeb0b5"/>
<circle cx="61.08" cy="61.51" r="0.60" fill="#b5aeb2"/>
<circle cx="86.12" cy="115.58" r="0.60" fill="#bbbdc1"/>
<circle cx="86.20" cy="123.57" r="0.60" fill="#a3a5aa"/>
<circle cx="88.90" cy="126.41" r="0.60" fill="#a3a5aa"/>
<circle cx="85.99" cy="98.33" r="0.60" fill="#a3a5aa"/>
<circle cx="85.98" cy="90.71" r="0.60" fill="#a3a5aa"/>
<circle cx="71.06" cy="70.51" r="0.60" fill="#aeb0b5"/>
<circle cx="82.03" cy="73.74" r="0.60" fill="#b5aeb2"/>
<circle cx="84.67" cy="136.92" r="0.60" fill="#a3a5aa"/>
<circle cx="67.26" cy="100.72" r="0.60" fill="#8c94a3"/>
<circle cx="79.96" cy="122.06" r="0.60" fill="#a3a5aa"/>
<circle cx="87.52" cy="137.97" r="0.60" fill="#95979c"/>
<circle cx="68.89" cy="97.05" r="0.60" fill="#95979c"/>
<circle cx="81.92" cy="130.18" r="0.60" fill="#b5aeb2"/>
<circle cx="71.21" cy="110.87" r="0.60" fill="#8c94a3"/>
<circle cx="86.35" cy="93.24" r="0.60" fill="#bbbdc1"/>
<circle cx="84.16" cy="81.16" r="0.60" fill="#95979c"/>
<circle cx="80.75" cy="98.35" r="0.60" fill="#8c94a3"/>
<circle cx="77.89" cy="117.80" r="0.60" fill="#bbbdc1"/>
<circle cx="73.67" cy="72.71" r="0.60" fill="#b5aeb2"/>
<circle cx="86.22" cy="59.49" r="0.60" fill="#95979c"/>
<circle cx="83.73" cy="116.60" r="0.60" fill="#a3a5aa"/>
<circle cx="73.66" cy="135.71" r="0.60" fill="#a3a5aa"/>
<circle cx="71.75" cy="130.27" r="0.60" fill="#aeb0b5"/>
<circle cx="83.07" cy="79.25" r="0.60" fill="#bbbdc1"/>
<circle cx="80.12" cy="121.85" r="0.60" fill="#a3a5aa"/>
<circle cx="62.88" cy="95.36" r="0.60" fill="#8c94a3"/>
<circle cx="86.70" cy="103.12" r="0.60" fill="#b5aeb2"/>
<circle cx="72.52" cy="111.60" r="0.60" fill="#95979c"/>
<circle cx="78.86" cy="83.31" r="0.60" fill="#b5aeb2"/>
<circle cx="70.31" cy="113.60" r="0.60" fill="#aeb0b5"/>
<circle cx="80.66" cy="120.62" r="0.60" fill="#aeb0b5"/>
<circle cx="87.81" cy="137.93" r="0.60" fill="#bbbdc1"/>
<circle cx="80.64" cy="135.48" r="0.60" fill="#a3a5aa"/>
<circle cx="88.83" cy="129.28" r="0.60" fill="#95979c"/>
<circle cx="82.96" cy="98.51" r="0.60" fill="#95979c"/>
<circle cx="78.59" cy="136.82" r="0.60" fill="#a3a5aa"/>
<circle cx="88.86" cy="127.45" r="0.60" fill="#8c94a3"/>
<circle cx="85.06" cy="120.31" r="0.60" fill="#b5aeb2"/>
<circle cx="80.18" cy="74.68" r="0.60" fill="#a3a5aa"/>
<circle cx="77.26" cy="107.26" r="0.60" fill="#bbbdc1"/>
<circle cx="64.05" cy="60.11" r="0.60" fill="#bbbdc1"/>
<circle cx="72.17" cy="130.13" r="0.60" fill="#bbbdc1"/>
<circle cx="75.78" cy="113.03" r="0.60" fill="#aeb0b5"/>
<circle cx="65.21" cy="81.85" r="0.60" fill="#95979c"/>
<circle cx="87.01" cy="136.66" r="0.60" fill="#b5aeb2"/>
<circle cx="81.13" cy="68.13" r="0.60" fill="#a3a5aa"/>
<circle cx="78.19" cy="104.10" r="0.60" fill="#bbbdc1"/>
<circle cx="69.93" cy="68.89" r="0.60" fill="#a3a5aa"/>
<circle cx="80.69" cy="137.57" r="0.60" fill="#95979c"/>
<circle cx="82.62" cy="127.25" r="0.60" fill="#a3a5aa"/>
<circle cx="86.00" cy="123.11" r="0.60" fill="#bbbdc1"/>
<circle cx="75.33" cy="96.78" r="0.60" fill="#a3a5aa"/>
<circle cx="51.07" cy="81.74" r="0.60" fill="#aeb0b5"/>
<circle cx="82.66" cy="63.42" r="0.60" fill="#a3a5aa"/>
<circle cx="85.91" cy="78.29" r="0.60" fill="#bbbdc1"/>
<circle cx="73.38" cy="72.85" r="0.60" fill="#a3a5aa"/>
<circle cx="84.14" cy="132.80" r="0.60" fill="#bbbdc1"/>
<circle cx="77.71" cy="130.19" r="0.60" fill="#95979c"/>
<circle cx="79.70" cy="71.64" r="0.60" fill="#aeb0b5"/>
<circle cx="72.70" cy="137.21" r="0.60" fill="#bbbdc1"/>
<circle cx="69.97" cy="131.77" r="0.60" fill="#aeb0b5"/>
<circle cx="52.76" cy="92.63" r="0.60" fill="#95979c"/>
<circle cx="85.02" cy="133.26" r="0.60" fill="#aeb0b5"/>
<circle cx="86.57" cy="133.32" r="0.60" fill="#b5aeb2"/>
<circle cx="88.90" cy="121.32" r="0.60" fill="#bbbdc1"/>
<circle cx="79.70" cy="135.83" r="0.60" fill="#aeb0b5"/>
<circle cx="81.77" cy="96.83" r="0.60" fill="#aeb0b5"/>
<circle cx="71.99" cy="60.43" r="0.60" fill="#95979c"/>
<circle cx="83.35" cy="102.18" r="0.60" fill="#95979c"/>
<circle cx="78.16" cy="137.41" r="0.60" fill="#8c94a3"/>
<circle cx="70.35" cy="101.27" r="0.60" fill="#b5aeb2"/>
<circle cx="83.36" cy="137.77" r="0.60" fill="#aeb0b5"/>
<circle cx="73.18" cy="136.69" r="0.60" fill="#a3a5aa"/>
<circle cx="68.83" cy="107.53" r="0.60" fill="#95979c"/>
<circle cx="87.01" cy="131.94" r="0.60" fill="#b5aeb2"/>
<circle cx="82.33" cy="105.77" r="0.60" fill="#95979c"/>
<circle cx="72.08" cy="107.14" r="0.60" fill="#95979c"/>
<circle cx="66.75" cy="121.47" r="0.60" fill="#a3a5aa"/>
<circle cx="76.76" cy="74.96" r="0.60" fill="#95979c"/>
<circle cx="87.79" cy="126.59" r="0.60" fill="#a3a5aa"/>
<circle cx="86.51" cy="137.85" r="0.60" fill="#a3a5aa"/>
<circle cx="57.06" cy="108.97" r="0.60" fill="#bbbdc1"/>
<circle cx="76.64" cy="81.88" r="0.60" fill="#aeb0b5"/>
<circle cx="85.52" cy="92.33" r="0.60" fill="#b5aeb2"/>
<circle cx="86.90" cy="113.55" r="0.60" fill="#bbbdc1"/>
<circle cx="71.72" cy="60.11" r="0.60" fill="#b5aeb2"/>
<circle cx="78.20" cy="89.35" r="0.60" fill="#bbbdc1"/>
<circle cx="83.39" cy="119.04" r="0.60" fill="#a3a5aa"/>
<circle cx="80.59" cy="118.73" r="0.60" fill="#a3a5aa"/>
<circle cx="76.66" cy="69.91" r="0.60" fill="#b5aeb2"/>
<circle cx="74.76" cy="137.97" r="0.60" fill="#aeb0b5"/>
<circle cx="67.62" cy="91.78" r="0.60" fill="#b5aeb2"/>
<circle cx="88.58" cy="119.48" r="0.60" fill="#95979c"/>
<circle cx="83.48" cy="135.95" r="0.60" fill="#8c94a3"/>
<circle cx="84.63" cy="82.47" r="0.60" fill="#b5aeb2"/>
<circle cx="86.75" cy="104.61" r="0.60" fill="#b5aeb2"/>
<circle cx="77.19" cy="96.44" r="0.60" fill="#8c94a3"/>
<circle cx="86.89" cy="138.00" r="0.60" fill="#b5aeb2"/>
<circle cx="76.18" cy="96.33" r="0.60" fill="#8c94a3"/>
<circle cx="85.65" cy="58.63" r="0.60" fill="#a3a5aa"/>
<circle cx="80.19" cy="78.05" r="0.60" fill="#aeb0b5"/>
<circle cx="59.34" cy="89.92" r="0.60" fill="#bbbdc1"/>
<circle cx="86.04" cy="60.87" r="0.60" fill="#aeb0b5"/>
<circle cx="76.98" cy="136.45" r="0.60" fill="#8c94a3"/>
<circle cx="67.08" cy="94.69" r="0.60" fill="#aeb0b5"/>
<circle cx="74.59" cy="68.70" r="0.60" fill="#bbbdc1"/>
<circle cx="75.51" cy="74.45" r="0.60" fill="#8c94a3"/>
<circle cx="78.92" cy="129.68" r="0.60" fill="#a3a5aa"/>
<circle cx="88.64" cy="136.65" r="0.60" fill="#a3a5aa"/>
<circle cx="77.03" cy="107.35" r="0.60" fill="#aeb0b5"/>
<circle cx="80.82" cy="128.67" r="0.60" fill="#bbbdc1"/>
<circle cx="74.40" cy="132.01" r="0.60" fill="#b5aeb2"/>
<circle cx="72.29" cy="73.33" r="0.60" fill="#bbbdc1"/>
<circle cx="86.76" cy="134.55" r="0.60" fill="#a3a5aa"/>
<circle cx="78.84" cy="90.88" r="0.60" fill="#b5aeb2"/>
<circle cx="77.80" cy="80.41" r="0.60" fill="#8c94a3"/>
<circle cx="84.80" cy="124.70" r="0.60" fill="#aeb0b5"/>
<circle cx="75.37" cy="58.36" r="0.60" fill="#b5aeb2"/>
<circle cx="79.93" cy="135.01" r="0.60" fill="#a3a5aa"/>
<circle cx="69.68" cy="85.12" r="0.60" fill="#a3a5aa"/>
<circle cx="82.67" cy="137.96" r="0.60" fill="#b5aeb2"/>
<circle cx="81.05" cy="128.73" r="0.60" fill="#aeb0b5"/>
<circle cx="85.95" cy="107.71" r="0.60" fill="#8c94a3"/>
<circle cx="82.43" cy="130.80" r="0.60" fill="#8c94a3"/>
<circle cx="82.09" cy="127.41" r="0.60" fill="#8c94a3"/>
<circle cx="84.51" cy="126.49" r="0.60" fill="#aeb0b5"/>
<circle cx="88.01" cy="127.66" r="0.60" fill="#8c94a3"/>
<circle cx="73.94" cy="97.41" r="0.60" fill="#95979c"/>
<circle cx="74.73" cy="130.75" r="0.60" fill="#8c94a3"/>
<circle cx="75.59" cy="82.78" r="0.60" fill="#95979c"/>
<circle cx="85.83" cy="89.39" r="0.60" fill="#aeb0b5"/>
<circle cx="85.00" cy="61.60" r="0.60" fill="#bbbdc1"/>
<circle cx="84.04" cy="96.25" r="0.60" fill="#bbbdc1"/>
<circle cx="73.95" cy="75.34" r="0.60" fill="#a3a5aa"/>
<circle cx="71.14" cy="66.85" r="0.60" fill="#b5aeb2"/>
<circle cx="55.89" cy="102.64" r="0.60" fill="#95979c"/>
<circle cx="86.34" cy="94.56" r="0.60" fill="#bbbdc1"/>
<circle cx="85.37" cy="119.30" r="0.60" fill="#8c94a3"/>
<circle cx="74.21" cy="116.63" r="0.60" fill="#95979c"/>
<circle cx="84.25" cy="135.17" r="0.60" fill="#8c94a3"/>
<circle cx="67.11" cy="112.83" r="0.60" fill="#bbbdc1"/>
<circle cx="80.03" cy="58.61" r="0.60" fill="#a3a5aa"/>
<circle cx="69.46" cy="70.79" r="0.60" fill="#8c94a3"/>
<circle cx="82.20" cy="85.75" r="0.60" fill="#95979c"/>
<circle cx="88.11" cy="94.09" r="0.60" fill="#95979c"/>
<circle cx="70.09" cy="66.74" r="0.60" fill="#aeb0b5"/>
<circle cx="86.33" cy="105.03" r="0.60" fill="#95979c"/>
<circle cx="74.83" cy="135.84" r="0.60" fill="#95979c"/>
<circle cx="73.63" cy="103.48" r="0.60" fill="#a3a5aa"/>
<circle cx="87.51" cy="104.08" r="0.60" fill="#95979c"/>
<circle cx="84.24" cy="78.16" r="0.60" fill="#95979c"/>
<circle cx="77.91" cy="105.34" r="0.60" fill="#b5aeb2"/>
<circle cx="54.62" cy="116.39" r="0.60" fill="#95979c"/>
<circle cx="57.34" cy="72.86" r="0.60" fill="#a3a5aa"/>
<circle cx="78.41" cy="123.49" r="0.60" fill="#a3a5aa"/>
<circle cx="88.35" cy="126.48" r="0.60" fill="#aeb0b5"/>
<circle cx="76.48" cy="94.72" r="0.60" fill="#aeb0b5"/>
<circle cx="75.49" cy="104.86" r="0.60" fill="#95979c"/>
<circle cx="88.28" cy="124.40" r="0.60" fill="#a3a5aa"/>
<circle cx="77.82" cy="73.44" r="0.60" fill="#aeb0b5"/>
<circle cx="70.29" cy="124.53" r="0.60" fill="#a3a5aa"/>
<circle cx="81.33" cy="137.05" r="0.60" fill="#bbbdc1"/>
<circle cx="85.81" cy="95.46" r="0.60" fill="#b5aeb2"/>
<circle cx="73.04" cy="102.32" r="0.60" fill="#a3a5aa"/>
<circle cx="73.28" cy="113.33" r="0.60" fill="#b5aeb2"/>
<circle cx="78.31" cy="104.82" r="0.60" fill="#8c94a3"/>
<circle cx="86.75" cy="136.59" r="0.60" fill="#8c94a3"/>
<circle cx="77.34" cy="78.23" r="0.60" fill="#bbbdc1"/>
<circle cx="87.47" cy="125.41" r="0.60" fill="#b5aeb2"/>
<circle cx="76.61" cy="130.34" r="0.60" fill="#bbbdc1"/>
<circle cx="84.65" cy="65.69" r="0.60" fill="#bbbdc1"/>
<circle cx="87.34" cy="130.64" r="0.60" fill="#b5aeb2"/>
<circle cx="83.86" cy="134.49" r="0.60" fill="#a3a5aa"/>
<circle cx="67.66" cy="73.90" r="0.60" fill="#a3a5aa"/>
<circle cx="84.28" cy="137.86" r="0.60" fill="#b5aeb2"/>
<circle cx="84.20" cy="104.38" r="0.60" fill="#b5aeb2"/>
<circle cx="71.89" cy="89.08" r="0.60" fill="#b5aeb2"/>
<circle cx="84.41" cy="125.19" r="0.60" fill="#a3a5aa"/>
<circle cx="58.95" cy="83.15" r="0.60" fill="#b5aeb2"/>
<circle cx="85.71" cy="130.47" r="0.60" fill="#95979c"/>
<circle cx="83.93" cy="63.82" r="0.60" fill="#bbbdc1"/>
<circle cx="81.73" cy="129.53" r="0.60" fill="#bbbdc1"/>
<circle cx="68.93" cy="92.55" r="0.60" fill="#a3a5aa"/>
<circle cx="80.59" cy="73.29" r="0.60" fill="#a3a5aa"/>
<circle cx="84.77" cy="76.84" r="0.60" fill="#aeb0b5"/>
<circle cx="68.92" cy="85.19" r="0.60" fill="#b5aeb2"/>
<circle cx="72.50" cy="104.42" r="0.60" fill="#a3a5aa"/>
<circle cx="88.36" cy="124.22" r="0.60" fill="#a3a5aa"/>
<circle cx="78.03" cy="133.26" r="0.60" fill="#b5aeb2"/>
<circle cx="85.05" cy="60.38" r="0.60" fill="#bbbdc1"/>
<circle cx="87.57" cy="133.07" r="0.60" fill="#aeb0b5"/>
<circle cx="85.06" cy="129.55" r="0.60" fill="#bbbdc1"/>
<circle cx="87.91" cy="133.40" r="0.60" fill="#a3a5aa"/>
<circle cx="86.58" cy="115.45" r="0.60" fill="#aeb0b5"/>
<circle cx="85.22" cy="134.59" r="0.60" fill="#a3a5aa"/>
<circle cx="66.38" cy="58.46" r="0.60" fill="#aeb0b5"/>
<circle cx="83.50" cy="110.57" r="0.60" fill="#95979c"/>
<circle cx="52.59" cy="86.00" r="0.60" fill="#95979c"/>
<circle cx="88.55" cy="130.82" r="0.60" fill="#aeb0b5"/>
<circle cx="71.02" cy="73.75" r="0.60" fill="#95979c"/>
<circle cx="82.47" cy="130.77" r="0.60" fill="#bbbdc1"/>
<circle cx="74.34" cy="126.70" r="0.60" fill="#a3a5aa"/>
<circle cx="73.02" cy="102.77" r="0.60" fill="#aeb0b5"/>
<circle cx="71.83" cy="137.53" r="0.60" fill="#aeb0b5"/>
<circle cx="75.26" cy="131.14" r="0.60" fill="#a3a5aa"/>
<circle cx="76.69" cy="95.44" r="0.60" fill="#bbbdc1"/>
<circle cx="85.66" cy="111.31" r="0.60" fill="#aeb0b5"/>
<circle cx="77.07" cy="86.83" r="0.60" fill="#aeb0b5"/>
<circle cx="62.44" cy="79.79" r="0.60" fill="#b5aeb2"/>
<circle cx="75.40" cy="104.55" r="0.60" fill="#a3a5aa"/>
<circle cx="79.32" cy="101.23" r="0.60" fill="#bbbdc1"/>
<circle cx="78.69" cy="137.46" r="0.60" fill="#bbbdc1"/>
<circle cx="84.38" cy="96.38" r="0.60" fill="#a3a5aa"/>
<circle cx="86.67" cy="116.59" r="0.60" fill="#b5aeb2"/>
<circle cx="84.08" cy="94.80" r="0.60" fill="#a3a5aa"/>
<circle cx="86.60" cy="120.76" r="0.60" fill="#95979c"/>
<circle cx="82.60" cy="76.16" r="0.60" fill="#bbbdc1"/>
<circle cx="88.66" cy="124.63" r="0.60" fill="#a3a5aa"/>
<circle cx="84.98" cy="134.80" r="0.60" fill="#bbbdc1"/>
<circle cx="80.71" cy="126.75" r="0.60" fill="#a3a5aa"/>
<circle cx="87.01" cy="132.69" r="0.60" fill="#8c94a3"/>
<circle cx="88.23" cy="137.31" r="0.60" fill="#aeb0b5"/>
<circle cx="61.96" cy="117.48" r="0.60" fill="#a3a5aa"/>
<circle cx="62.27" cy="59.43" r="0.60" fill="#8c94a3"/>
<circle cx="78.25" cy="109.56" r="0.60" fill="#95979c"/>
<circle cx="80.29" cy="137.85" r="0.60" fill="#b5aeb2"/>
<circle cx="83.68" cy="103.54" r="0.60" fill="#b5aeb2"/>
<circle cx="80.78" cy="86.69" r="0.60" fill="#aeb0b5"/>
<circle cx="82.64" cy="58.22" r="0.60" fill="#bbbdc1"/>
<circle cx="79.95" cy="118.27" r="0.60" fill="#95979c"/>
<circle cx="88.22" cy="136.04" r="0.60" fill="#8c94a3"/>
<circle cx="88.36" cy="129.88" r="0.60" fill="#8c94a3"/>
<circle cx="62.79" cy="90.06" r="0.60" fill="#95979c"/>
<circle cx="75.23" cy="78.45" r="0.60" fill="#95979c"/>
<circle cx="85.74" cy="137.33" r="0.60" fill="#8c94a3"/>
<circle cx="82.74" cy="83.65" r="0.60" fill="#95979c"/>
<circle cx="76.31" cy="79.62" r="0.60" fill="#bbbdc1"/>
<circle cx="84.18" cy="101.57" r="0.60" fill="#bbbdc1"/>
<circle cx="75.95" cy="82.19" r="0.60" fill="#95979c"/>
<circle cx="88.56" cy="135.91" r="0.60" fill="#b5aeb2"/>
<circle cx="74.66" cy="132.53" r="0.60" fill="#aeb0b5"/>
<circle cx="78.49" cy="83.93" r="0.60" fill="#b5aeb2"/>
<circle cx="66.58" cy="122.76" r="0.60" fill="#95979c"/>
<circle cx="83.11" cy="58.32" r="0.60" fill="#bbbdc1"/>
<circle cx="75.12" cy="107.52" r="0.60" fill="#aeb0b5"/>
<circle cx="88.76" cy="68.77" r="0.60" fill="#a3a5aa"/>
<circle cx="63.85" cy="73.46" r="0.60" fill="#95979c"/>
<circle cx="87.26" cy="75.78" r="0.60" fill="#b5aeb2"/>
<circle cx="80.65" cy="61.41" r="0.60" fill="#8c94a3"/>
<circle cx="76.17" cy="132.77" r="0.60" fill="#b5aeb2"/>
<circle cx="85.11" cy="110.04" r="0.60" fill="#aeb0b5"/>
<circle cx="54.87" cy="77.68" r="0.60" fill="#b5aeb2"/>
<circle cx="79.14" cy="112.54" r="0.60" fill="#b5aeb2"/>
<circle cx="65.94" cy="101.71" r="0.60" fill="#8c94a3"/>
<circle cx="81.65" cy="124.92" r="0.60" fill="#8c94a3"/>
<circle cx="83.08" cy="106.99" r="0.60" fill="#aeb0b5"/>
<circle cx="86.39" cy="85.96" r="0.60" fill="#a3a5aa"/>
<circle cx="78.70" cy="128.59" r="0.60" fill="#bbbdc1"/>
<circle cx="80.11" cy="103.12" r="0.60" fill="#b5aeb2"/>
<circle cx="128.43" cy="74.70" r="0.60" fill="#c2b8bc"/>
<circle cx="113.59" cy="87.61" r="0.60" fill="#b5abaf"/>
<circle cx="112.41" cy="83.45" r="0.60" fill="#b5abaf"/>
<circle cx="110.20" cy="102.80" r="0.60" fill="#c2b8bc"/>
<circle cx="122.89" cy="87.70" r="0.60" fill="#a89ea2"/>
<circle cx="108.03" cy="65.65" r="0.60" fill="#c2b8bc"/>
<circle cx="115.16" cy="123.98" r="0.60" fill="#b5abaf"/>
<circle cx="114.25" cy="114.20" r="0.60" fill="#a89ea2"/>
<circle cx="113.92" cy="127.99" r="0.60" fill="#b5abaf"/>
<circle cx="116.86" cy="128.98" r="0.60" fill="#b5abaf"/>
<circle cx="113.28" cy="135.19" r="0.60" fill="#b08a96"/>
<circle cx="116.34" cy="85.88" r="0.60" fill="#a89ea2"/>
<circle cx="112.56" cy="134.26" r="0.60" fill="#9b9497"/>
<circle cx="113.42" cy="125.85" r="0.60" fill="#b5abaf"/>
<circle cx="114.98" cy="64.62" r="0.60" fill="#b08a96"/>
<circle cx="115.51" cy="75.77" r="0.60" fill="#c2b8bc"/>
<circle cx="114.28" cy="130.38" r="0.60" fill="#b08a96"/>
<circle cx="121.17" cy="135.13" r="0.60" fill="#9b9497"/>
<circle cx="124.19" cy="125.77" r="0.60" fill="#a89ea2"/>
<circle cx="109.28" cy="66.56" r="0.60" fill="#c2b8bc"/>
<circle cx="116.67" cy="112.44" r="0.60" fill="#a89ea2"/>
<circle cx="130.26" cy="60.46" r="0.60" fill="#b08a96"/>
<circle cx="120.15" cy="102.50" r="0.60" fill="#b5abaf"/>
<circle cx="121.86" cy="102.48" r="0.60" fill="#a89ea2"/>
<circle cx="111.20" cy="116.84" r="0.60" fill="#b5abaf"/>
<circle cx="113.21" cy="127.53" r="0.60" fill="#c2b8bc"/>
<circle cx="109.50" cy="67.64" r="0.60" fill="#c2b8bc"/>
<circle cx="110.59" cy="118.53" r="0.60" fill="#a89ea2"/>
<circle cx="112.92" cy="137.74" r="0.60" fill="#b08a96"/>
<circle cx="118.50" cy="126.62" r="0.60" fill="#b5abaf"/>
<circle cx="123.33" cy="92.87" r="0.60" fill="#c2b8bc"/>
<circle cx="114.66" cy="137.90" r="0.60" fill="#b5abaf"/>
<circle cx="129.38" cy="119.38" r="0.60" fill="#b5abaf"/>
<circle cx="108.25" cy="136.33" r="0.60" fill="#b08a96"/>
<circle cx="161.22" cy="70.58" r="0.60" fill="#9b9497"/>
<circle cx="109.70" cy="93.31" r="0.60" fill="#b5abaf"/>
<circle cx="108.48" cy="106.52" r="0.60" fill="#a89ea2"/>
<circle cx="122.58" cy="123.84" r="0.60" fill="#c2b8bc"/>
<circle cx="113.19" cy="104.32" r="0.60" fill="#c2b8bc"/>
<circle cx="120.83" cy="118.56" r="0.60" fill="#b5abaf"/>
<circle cx="108.70" cy="99.82" r="0.60" fill="#b08a96"/>
<circle cx="113.04" cy="118.34" r="0.60" fill="#a89ea2"/>
<circle cx="111.69" cy="87.61" r="0.60" fill="#b08a96"/>
<circle cx="113.58" cy="85.84" r="0.60" fill="#a89ea2"/>
<circle cx="107.83" cy="135.90" r="0.60" fill="#b5abaf"/>
<circle cx="116.80" cy="72.10" r="0.60" fill="#b08a96"/>
<circle cx="122.77" cy="130.91" r="0.60" fill="#9b9497"/>
<circle cx="121.06" cy="132.07" r="0.60" fill="#c2b8bc"/>
<circle cx="110.92" cy="134.88" r="0.60" fill="#a89ea2"/>
<circle cx="118.79" cy="100.84" r="0.60" fill="#b5abaf"/>
<circle cx="124.06" cy="125.58" r="0.60" fill="#b5abaf"/>
<circle cx="119.59" cy="136.99" r="0.60" fill="#b08a96"/>
<circle cx="114.19" cy="121.78" r="0.60" fill="#b5abaf"/>
<circle cx="116.03" cy="137.85" r="0.60" fill="#b5abaf"/>
<circle cx="123.50" cy="92.15" r="0.60" fill="#c2b8bc"/>
<circle cx="110.51" cy="92.68" r="0.60" fill="#b5abaf"/>
<circle cx="109.25" cy="125.73" r="0.60" fill="#b5abaf"/>
<circle cx="121.50" cy="80.01" r="0.60" fill="#a89ea2"/>
<circle cx="107.80" cy="132.60" r="0.60" fill="#b08a96"/>
<circle cx="109.78" cy="130.53" r="0.60" fill="#b08a96"/>
<circle cx="108.65" cy="67.32" r="0.60" fill="#a89ea2"/>
<circle cx="118.40" cy="76.67" r="0.60" fill="#a89ea2"/>
<circle cx="113.21" cy="92.55" r="0.60" fill="#a89ea2"/>
<circle cx="122.03" cy="68.80" r="0.60" fill="#9b9497"/>
<circle cx="122.98" cy="104.74" r="0.60" fill="#a89ea2"/>
<circle cx="111.26" cy="90.00" r="0.60" fill="#c2b8bc"/>
<circle cx="114.15" cy="81.33" r="0.60" fill="#c2b8bc"/>
<circle cx="123.32" cy="125.67" r="0.60" fill="#b5abaf"/>
<circle cx="114.05" cy="128.22" r="0.60" fill="#b08a96"/>
<circle cx="130.63" cy="94.70" r="0.60" fill="#c2b8bc"/>
<circle cx="112.51" cy="102.15" r="0.60" fill="#b5abaf"/>
<circle cx="111.12" cy="100.80" r="0.60" fill="#c2b8bc"/>
<circle cx="116.70" cy="137.64" r="0.60" fill="#9b9497"/>
<circle cx="107.76" cy="111.29" r="0.60" fill="#c2b8bc"/>
<circle cx="109.24" cy="134.34" r="0.60" fill="#9b9497"/>
<circle cx="120.07" cy="136.17" r="0.60" fill="#9b9497"/>
<circle cx="123.83" cy="117.95" r="0.60" fill="#c2b8bc"/>
<circle cx="126.29" cy="76.24" r="0.60" fill="#9b9497"/>
<circle cx="115.32" cy="104.46" r="0.60" fill="#b5abaf"/>
<circle cx="115.88" cy="97.44" r="0.60" fill="#b08a96"/>
<circle cx="122.06" cy="108.73" r="0.60" fill="#9b9497"/>
<circle cx="108.12" cy="130.35" r="0.60" fill="#b5abaf"/>
<circle cx="128.07" cy="101.44" r="0.60" fill="#b5abaf"/>
<circle cx="109.49" cy="137.96" r="0.60" fill="#b08a96"/>
<circle cx="110.80" cy="137.58" r="0.60" fill="#a89ea2"/>
<circle cx="114.35" cy="121.24" r="0.60" fill="#9b9497"/>
<circle cx="132.25" cy="122.02" r="0.60" fill="#b08a96"/>
<circle cx="108.09" cy="113.37" r="0.60" fill="#a89ea2"/>
<circle cx="109.09" cy="137.87" r="0.60" fill="#9b9497"/>
<circle cx="110.87" cy="131.08" r="0.60" fill="#b5abaf"/>
<circle cx="119.08" cy="63.55" r="0.60" fill="#b08a96"/>
<circle cx="109.34" cy="87.63" r="0.60" fill="#9b9497"/>
<circle cx="117.59" cy="131.65" r="0.60" fill="#a89ea2"/>
<circle cx="109.11" cy="134.02" r="0.60" fill="#9b9497"/>
<circle cx="114.86" cy="137.94" r="0.60" fill="#a89ea2"/>
<circle cx="108.00" cy="65.11" r="0.60" fill="#b5abaf"/>
<circle cx="118.16" cy="96.00" r="0.60" fill="#b08a96"/>
<circle cx="115.78" cy="65.11" r="0.60" fill="#c2b8bc"/>
<circle cx="124.21" cy="133.90" r="0.60" fill="#b5abaf"/>
<circle cx="147.12" cy="64.07" r="0.60" fill="#b5abaf"/>
<circle cx="107.68" cy="103.38" r="0.60" fill="#b08a96"/>
<circle cx="117.79" cy="136.57" r="0.60" fill="#c2b8bc"/>
<circle cx="124.11" cy="62.85" r="0.60" fill="#9b9497"/>
<circle cx="115.23" cy="128.66" r="0.60" fill="#9b9497"/>
<circle cx="113.59" cy="137.00" r="0.60" fill="#a89ea2"/>
<circle cx="125.58" cy="94.67" r="0.60" fill="#b08a96"/>
<circle cx="109.62" cy="137.98" r="0.60" fill="#9b9497"/>
<circle cx="130.10" cy="90.16" r="0.60" fill="#9b9497"/>
<circle cx="115.72" cy="112.89" r="0.60" fill="#a89ea2"/>
<circle cx="147.13" cy="70.30" r="0.60" fill="#b08a96"/>
<circle cx="115.13" cy="96.58" r="0.60" fill="#a89ea2"/>
<circle cx="111.14" cy="82.16" r="0.60" fill="#b08a96"/>
<circle cx="110.33" cy="132.43" r="0.60" fill="#b5abaf"/>
<circle cx="115.44" cy="59.36" r="0.60" fill="#b5abaf"/>
<circle cx="108.23" cy="137.11" r="0.60" fill="#c2b8bc"/>
<circle cx="130.57" cy="73.35" r="0.60" fill="#c2b8bc"/>
<circle cx="121.63" cy="90.23" r="0.60" fill="#b5abaf"/>
<circle cx="129.01" cy="89.64" r="0.60" fill="#c2b8bc"/>
<circle cx="114.88" cy="119.10" r="0.60" fill="#b5abaf"/>
<circle cx="111.68" cy="119.86" r="0.60" fill="#9b9497"/>
<circle cx="118.15" cy="80.20" r="0.60" fill="#c2b8bc"/>
<circle cx="108.50" cy="134.50" r="0.60" fill="#b5abaf"/>
<circle cx="114.34" cy="103.54" r="0.60" fill="#b5abaf"/>
<circle cx="111.49" cy="66.51" r="0.60" fill="#b08a96"/>
<circle cx="108.47" cy="122.74" r="0.60" fill="#c2b8bc"/>
<circle cx="114.53" cy="136.57" r="0.60" fill="#a89ea2"/>
<circle cx="108.71" cy="137.01" r="0.60" fill="#a89ea2"/>
<circle cx="116.04" cy="137.99" r="0.60" fill="#a89ea2"/>
<circle cx="125.98" cy="120.80" r="0.60" fill="#b08a96"/>
<circle cx="116.14" cy="71.19" r="0.60" fill="#b5abaf"/>
<circle cx="115.94" cy="128.84" r="0.60" fill="#9b9497"/>
<circle cx="110.35" cy="138.00" r="0.60" fill="#9b9497"/>
<circle cx="112.77" cy="72.36" r="0.60" fill="#b08a96"/>
<circle cx="112.13" cy="76.39" r="0.60" fill="#9b9497"/>
<circle cx="125.58" cy="122.51" r="0.60" fill="#c2b8bc"/>
<circle cx="120.10" cy="91.59" r="0.60" fill="#b08a96"/>
<circle cx="120.53" cy="96.01" r="0.60" fill="#c2b8bc"/>
<circle cx="111.71" cy="104.00" r="0.60" fill="#9b9497"/>
<circle cx="132.07" cy="96.89" r="0.60" fill="#b08a96"/>
<circle cx="110.32" cy="136.39" r="0.60" fill="#c2b8bc"/>
<circle cx="114.72" cy="109.29" r="0.60" fill="#9b9497"/>
<circle cx="109.49" cy="138.00" r="0.60" fill="#b08a96"/>
<circle cx="115.88" cy="88.32" r="0.60" fill="#a89ea2"/>
<circle cx="117.12" cy="133.29" r="0.60" fill="#9b9497"/>
<circle cx="111.63" cy="86.45" r="0.60" fill="#9b9497"/>
<circle cx="108.69" cy="67.14" r="0.60" fill="#9b9497"/>
<circle cx="123.45" cy="89.91" r="0.60" fill="#b08a96"/>
<circle cx="112.90" cy="70.39" r="0.60" fill="#b5abaf"/>
<circle cx="115.35" cy="137.86" r="0.60" fill="#a89ea2"/>
<circle cx="110.42" cy="91.85" r="0.60" fill="#a89ea2"/>
<circle cx="69.30" cy="136.07" r="0.60" fill="#c8cbd0"/>
<circle cx="125.07" cy="131.23" r="0.60" fill="#d0cdd0"/>
<circle cx="164.13" cy="128.02" r="0.60" fill="#c8cbd0"/>
<circle cx="117.27" cy="136.21" r="0.60" fill="#c8cbd0"/>
<circle cx="136.77" cy="134.61" r="0.60" fill="#d0cdd0"/>
<circle cx="104.42" cy="134.71" r="0.60" fill="#c8cbd0"/>
<circle cx="48.13" cy="136.30" r="0.60" fill="#d0cdd0"/>
<circle cx="72.14" cy="135.08" r="0.60" fill="#c8cbd0"/>
<circle cx="132.32" cy="137.83" r="0.60" fill="#c8cbd0"/>
<circle cx="116.00" cy="131.53" r="0.60" fill="#c8cbd0"/>
<circle cx="56.42" cy="130.39" r="0.60" fill="#c8cbd0"/>
<circle cx="56.67" cy="130.74" r="0.60" fill="#d0cdd0"/>
<circle cx="144.11" cy="129.48" r="0.60" fill="#d0cdd0"/>
<circle cx="144.94" cy="128.07" r="0.60" fill="#c8cbd0"/>
<circle cx="50.66" cy="134.83" r="0.60" fill="#c8cbd0"/>
<circle cx="112.62" cy="132.56" r="0.60" fill="#d0cdd0"/>
<circle cx="165.09" cy="133.75" r="0.60" fill="#c8cbd0"/>
<circle cx="164.13" cy="135.33" r="0.60" fill="#c8cbd0"/>
<circle cx="163.67" cy="136.37" r="0.60" fill="#c8cbd0"/>
<circle cx="132.12" cy="129.35" r="0.60" fill="#d0cdd0"/>
<circle cx="149.15" cy="128.55" r="0.60" fill="#d0cdd0"/>
<circle cx="102.43" cy="135.06" r="0.60" fill="#d0cdd0"/>
<circle cx="147.40" cy="136.46" r="0.60" fill="#c8cbd0"/>
<circle cx="87.17" cy="128.95" r="0.60" fill="#d0cdd0"/>
<circle cx="66.18" cy="137.47" r="0.60" fill="#d0cdd0"/>
<circle cx="144.10" cy="136.37" r="0.60" fill="#d0cdd0"/>
<circle cx="80.65" cy="130.50" r="0.60" fill="#d0cdd0"/>
<circle cx="114.92" cy="131.41" r="0.60" fill="#d0cdd0"/>
<circle cx="164.72" cy="131.29" r="0.60" fill="#c8cbd0"/>
<circle cx="160.68" cy="135.95" r="0.60" fill="#c8cbd0"/>
<circle cx="58.63" cy="136.25" r="0.60" fill="#d0cdd0"/>
<circle cx="100.25" cy="131.37" r="0.60" fill="#c8cbd0"/>
<circle cx="114.85" cy="137.66" r="0.60" fill="#c8cbd0"/>
<circle cx="72.50" cy="128.53" r="0.60" fill="#c8cbd0"/>
<circle cx="166.93" cy="132.08" r="0.60" fill="#c8cbd0"/>
<circle cx="129.21" cy="130.18" r="0.60" fill="#c8cbd0"/>
<circle cx="137.86" cy="132.31" r="0.60" fill="#c8cbd0"/>
<circle cx="173.66" cy="129.76" r="0.60" fill="#d0cdd0"/>
<circle cx="124.86" cy="129.66" r="0.60" fill="#d0cdd0"/>
<circle cx="142.91" cy="130.48" r="0.60" fill="#d0cdd0"/>
<circle cx="169.88" cy="128.92" r="0.60" fill="#c8cbd0"/>
<circle cx="128.35" cy="134.18" r="0.60" fill="#c8cbd0"/>
<circle cx="130.30" cy="133.98" r="0.60" fill="#d0cdd0"/>
<circle cx="84.51" cy="128.64" r="0.60" fill="#c8cbd0"/>
<circle cx="114.64" cy="128.73" r="0.60" fill="#c8cbd0"/>
<circle cx="63.49" cy="129.13" r="0.60" fill="#d0cdd0"/>
<circle cx="129.29" cy="133.10" r="0.60" fill="#d0cdd0"/>
<circle cx="164.69" cy="132.50" r="0.60" fill="#c8cbd0"/>
<circle cx="78.14" cy="131.95" r="0.60" fill="#c8cbd0"/>
<circle cx="102.84" cy="135.28" r="0.60" fill="#c8cbd0"/>
<circle cx="156.97" cy="132.61" r="0.60" fill="#d0cdd0"/>
<circle cx="153.20" cy="128.31" r="0.60" fill="#c8cbd0"/>
<circle cx="58.85" cy="130.09" r="0.60" fill="#d0cdd0"/>
<circle cx="132.19" cy="130.78" r="0.60" fill="#c8cbd0"/>
<circle cx="154.93" cy="128.73" r="0.60" fill="#c8cbd0"/>
<circle cx="65.54" cy="134.59" r="0.60" fill="#d0cdd0"/>
<circle cx="130.96" cy="129.81" r="0.60" fill="#c8cbd0"/>
<circle cx="107.58" cy="136.37" r="0.60" fill="#c8cbd0"/>
<circle cx="94.79" cy="134.52" r="0.60" fill="#c8cbd0"/>
<circle cx="53.07" cy="130.96" r="0.60" fill="#d0cdd0"/>
<circle cx="155.83" cy="129.30" r="0.60" fill="#d0cdd0"/>
<circle cx="92.27" cy="135.23" r="0.60" fill="#c8cbd0"/>
<circle cx="93.02" cy="135.37" r="0.60" fill="#d0cdd0"/>
<circle cx="92.61" cy="133.23" r="0.60" fill="#c8cbd0"/>
<circle cx="158.41" cy="137.09" r="0.60" fill="#c8cbd0"/>
<circle cx="82.09" cy="131.81" r="0.60" fill="#c8cbd0"/>
<circle cx="74.12" cy="129.94" r="0.60" fill="#c8cbd0"/>
<circle cx="144.14" cy="136.53" r="0.60" fill="#c8cbd0"/>
<circle cx="128.39" cy="132.72" r="0.60" fill="#c8cbd0"/>
<circle cx="51.57" cy="134.64" r="0.60" fill="#d0cdd0"/>
<circle cx="75.53" cy="128.29" r="0.60" fill="#d0cdd0"/>
<circle cx="108.37" cy="129.10" r="0.60" fill="#d0cdd0"/>
<circle cx="57.19" cy="129.18" r="0.60" fill="#d0cdd0"/>
<circle cx="165.00" cy="137.10" r="0.60" fill="#d0cdd0"/>
<circle cx="102.23" cy="129.18" r="0.60" fill="#c8cbd0"/>
<circle cx="79.59" cy="132.44" r="0.60" fill="#c8cbd0"/>
<circle cx="166.76" cy="133.55" r="0.60" fill="#c8cbd0"/>
<circle cx="111.21" cy="132.84" r="0.60" fill="#c8cbd0"/>
<circle cx="118.17" cy="136.70" r="0.60" fill="#d0cdd0"/>
<circle cx="59.31" cy="137.44" r="0.60" fill="#c8cbd0"/>
<line x1="39.00" y1="137.50" x2="178.00" y2="137.50" stroke="#5a5a5a" stroke-width="0.9" stroke-dasharray="1 1.2"/>
<line x1="37.20" y1="45.20" x2="37.20" y2="142.30" stroke="#1e1e1e" stroke-width="1.3"/>
<line x1="36.70" y1="141.70" x2="183.30" y2="141.70" stroke="#1e1e1e" stroke-width="1.3"/>
<line x1="34.00" y1="47.70" x2="37.30" y2="47.70" stroke="#1e1e1e" stroke-width="1.1"/>
<text x="19.60" y="50.80" font-size="6.4" fill="#333" font-weight="normal" textLength="11.60" lengthAdjust="spacingAndGlyphs" stroke="#333" stroke-width="0.15">300</text>
<line x1="34.00" y1="66.00" x2="37.30" y2="66.00" stroke="#1e1e1e" stroke-width="1.1"/>
<text x="19.60" y="69.10" font-size="6.4" fill="#333" font-weight="normal" textLength="11.60" lengthAdjust="spacingAndGlyphs" stroke="#333" stroke-width="0.15">100</text>
<line x1="34.00" y1="86.00" x2="37.30" y2="86.00" stroke="#1e1e1e" stroke-width="1.1"/>
<text x="23.40" y="89.10" font-size="6.4" fill="#333" font-weight="normal" textLength="7.80" lengthAdjust="spacingAndGlyphs" stroke="#333" stroke-width="0.15">30</text>
<line x1="34.00" y1="103.70" x2="37.30" y2="103.70" stroke="#1e1e1e" stroke-width="1.1"/>
<text x="23.40" y="106.80" font-size="6.4" fill="#333" font-weight="normal" textLength="7.80" lengthAdjust="spacingAndGlyphs" stroke="#333" stroke-width="0.15">10</text>
<line x1="34.00" y1="123.80" x2="37.30" y2="123.80" stroke="#1e1e1e" stroke-width="1.1"/>
<text x="27.30" y="126.90" font-size="6.4" fill="#333" font-weight="normal" textLength="3.90" lengthAdjust="spacingAndGlyphs" stroke="#333" stroke-width="0.15">3</text>
<line x1="34.00" y1="141.50" x2="37.30" y2="141.50" stroke="#1e1e1e" stroke-width="1.1"/>
<text x="27.30" y="144.60" font-size="6.4" fill="#333" font-weight="normal" textLength="3.90" lengthAdjust="spacingAndGlyphs" stroke="#333" stroke-width="0.15">1</text>
<line x1="58.00" y1="141.70" x2="58.00" y2="144.70" stroke="#1e1e1e" stroke-width="1.1"/>
<text x="58.00" y="153.7" font-size="6.2" fill="#333" stroke="#333" stroke-width="0.22" text-anchor="middle">–2</text>
<line x1="98.50" y1="141.70" x2="98.50" y2="144.70" stroke="#1e1e1e" stroke-width="1.1"/>
<text x="98.50" y="153.7" font-size="6.2" fill="#333" stroke="#333" stroke-width="0.22" text-anchor="middle">0</text>
<line x1="139.20" y1="141.70" x2="139.20" y2="144.70" stroke="#1e1e1e" stroke-width="1.1"/>
<text x="139.20" y="153.7" font-size="6.2" fill="#333" stroke="#333" stroke-width="0.22" text-anchor="middle">2</text>
<line x1="179.80" y1="141.70" x2="179.80" y2="144.70" stroke="#1e1e1e" stroke-width="1.1"/>
<text x="179.80" y="153.7" font-size="6.2" fill="#333" stroke="#333" stroke-width="0.22" text-anchor="middle">4</text>
<text x="59.30" y="165.20" font-size="8.6" fill="#2b2b2b" font-weight="normal" textLength="101.70" lengthAdjust="spacingAndGlyphs" stroke="#2b2b2b" stroke-width="0.35">log2 fold-change in mRNA expression</text>
<g transform="translate(14.00,114.60) rotate(-90)"><text x="0" y="0" font-size="8.17" fill="#2b2b2b" stroke="#2b2b2b" stroke-width="0.35" textLength="40.80" lengthAdjust="spacingAndGlyphs">−log10 <tspan font-style="italic">P</tspan>-value</text></g>
<ellipse cx="75.6" cy="52.6" rx="26.3" ry="13.2" fill="none" stroke="#1e4a72" stroke-width="1.4"/>
<circle cx="68.00" cy="50.80" r="1.05" fill="#111"/>
<circle cx="75.00" cy="56.40" r="1.05" fill="#111"/>
<circle cx="84.00" cy="59.90" r="1.05" fill="#111"/>
<circle cx="72.50" cy="69.30" r="1.05" fill="#111"/>
<circle cx="118.50" cy="50.40" r="1.10" fill="#a8142f"/>
<circle cx="146.30" cy="50.40" r="1.10" fill="#a8142f"/>
<circle cx="116.50" cy="59.00" r="1.10" fill="#a8142f"/>
<circle cx="52.00" cy="109.00" r="1.00" fill="#111"/>
<circle cx="124.20" cy="106.20" r="1.05" fill="#a0102c"/>
<circle cx="110.80" cy="80.20" r="1.05" fill="#a8142f"/>
<circle cx="109.80" cy="84.50" r="1.05" fill="#a8142f"/>
<circle cx="107.00" cy="88.00" r="0.90" fill="#b01a35"/>
<circle cx="105.70" cy="110.60" r="1.00" fill="#a8142f"/>
<circle cx="105.10" cy="120.40" r="1.00" fill="#a8142f"/>
<circle cx="90.00" cy="90.30" r="0.90" fill="#1f3f6a"/>
<circle cx="90.30" cy="111.90" r="0.90" fill="#1f3f6a"/>
<circle cx="89.80" cy="131.00" r="0.90" fill="#1f3f6a"/>
<circle cx="82.00" cy="124.50" r="0.80" fill="#5577aa"/>
<circle cx="90.30" cy="88.30" r="0.80" fill="#5577aa"/>
<text x="54.00" y="53.22" font-size="4.5" fill="#1e1e1e" font-weight="normal" textLength="10.00" lengthAdjust="spacingAndGlyphs" stroke="#1e1e1e" stroke-width="0.12">MPO</text>
<text x="57.40" y="58.62" font-size="4.5" fill="#1e1e1e" font-weight="normal" textLength="14.60" lengthAdjust="spacingAndGlyphs" stroke="#1e1e1e" stroke-width="0.12">PRTN3</text>
<text x="84.50" y="56.32" font-size="4.5" fill="#1e1e1e" font-weight="normal" textLength="11.50" lengthAdjust="spacingAndGlyphs" stroke="#1e1e1e" stroke-width="0.12">CD34</text>
<text x="54.00" y="71.82" font-size="4.5" fill="#1e1e1e" font-weight="normal" textLength="14.00" lengthAdjust="spacingAndGlyphs" stroke="#1e1e1e" stroke-width="0.12">CSF1R</text>
<text x="122.00" y="52.82" font-size="4.5" fill="#1e1e1e" font-weight="normal" textLength="12.80" lengthAdjust="spacingAndGlyphs" stroke="#1e1e1e" stroke-width="0.12">MMP2,</text>
<text x="143.50" y="47.62" font-size="4.5" fill="#1e1e1e" font-weight="normal" textLength="16.30" lengthAdjust="spacingAndGlyphs" stroke="#1e1e1e" stroke-width="0.12">CYP1B1</text>
<text x="150.00" y="52.62" font-size="4.5" fill="#1e1e1e" font-weight="normal" textLength="16.50" lengthAdjust="spacingAndGlyphs" stroke="#1e1e1e" stroke-width="0.12">CYP1A1</text>
<text x="119.40" y="61.12" font-size="4.5" fill="#1e1e1e" font-weight="normal" textLength="12.60" lengthAdjust="spacingAndGlyphs" stroke="#1e1e1e" stroke-width="0.12">AHRR</text>
<text x="113.00" y="81.82" font-size="4.5" fill="#1e1e1e" font-weight="normal" textLength="5.00" lengthAdjust="spacingAndGlyphs" stroke="#1e1e1e" stroke-width="0.12">ID</text>
<text x="113.00" y="85.92" font-size="4.5" fill="#1e1e1e" font-weight="normal" textLength="14.00" lengthAdjust="spacingAndGlyphs" stroke="#1e1e1e" stroke-width="0.12">RARG,</text>
<text x="111.00" y="89.82" font-size="4.5" fill="#1e1e1e" font-weight="normal" textLength="11.00" lengthAdjust="spacingAndGlyphs" stroke="#1e1e1e" stroke-width="0.12">EMNP</text>
<text x="40.30" y="107.52" font-size="4.5" fill="#1e1e1e" font-weight="normal" textLength="15.40" lengthAdjust="spacingAndGlyphs" stroke="#1e1e1e" stroke-width="0.12">TNFSF8</text>
<text x="73.00" y="89.02" font-size="4.5" fill="#1e1e1e" font-weight="normal" textLength="13.50" lengthAdjust="spacingAndGlyphs" stroke="#1e1e1e" stroke-width="0.12">Hsp4a</text>
<text x="72.50" y="92.82" font-size="4.5" fill="#1e1e1e" font-weight="normal" textLength="14.00" lengthAdjust="spacingAndGlyphs" stroke="#1e1e1e" stroke-width="0.12">MEF2C</text>
<text x="93.50" y="92.62" font-size="4.5" fill="#1e1e1e" font-weight="normal" textLength="6.50" lengthAdjust="spacingAndGlyphs" stroke="#1e1e1e" stroke-width="0.12">MPL</text>
<text x="75.50" y="101.62" font-size="4.5" fill="#1e1e1e" font-weight="normal" textLength="12.00" lengthAdjust="spacingAndGlyphs" stroke="#1e1e1e" stroke-width="0.12">MEF2V</text>
<text x="70.00" y="106.62" font-size="4.5" fill="#1e1e1e" font-weight="normal" textLength="15.70" lengthAdjust="spacingAndGlyphs" stroke="#1e1e1e" stroke-width="0.12">CCND1</text>
<text x="71.70" y="114.62" font-size="4.5" fill="#1e1e1e" font-weight="normal" textLength="12.10" lengthAdjust="spacingAndGlyphs" stroke="#1e1e1e" stroke-width="0.12">PEAR1</text>
<text x="76.80" y="121.52" font-size="4.5" fill="#1e1e1e" font-weight="normal" textLength="12.20" lengthAdjust="spacingAndGlyphs" stroke="#1e1e1e" stroke-width="0.12">Sharpin</text>
<text x="68.00" y="126.12" font-size="4.5" fill="#1e1e1e" font-weight="normal" textLength="7.00" lengthAdjust="spacingAndGlyphs" stroke="#1e1e1e" stroke-width="0.12">HES</text>
<text x="68.00" y="133.22" font-size="4.5" fill="#1e1e1e" font-weight="normal" textLength="17.70" lengthAdjust="spacingAndGlyphs" stroke="#1e1e1e" stroke-width="0.12">CD14b</text>
<text x="108.50" y="100.62" font-size="4.5" fill="#1e1e1e" font-weight="normal" textLength="13.50" lengthAdjust="spacingAndGlyphs" stroke="#1e1e1e" stroke-width="0.12">BCL2C1</text>
<text x="125.50" y="108.02" font-size="4.5" fill="#1e1e1e" font-weight="normal" textLength="12.00" lengthAdjust="spacingAndGlyphs" stroke="#1e1e1e" stroke-width="0.12">PTCH1</text>
<text x="108.50" y="112.22" font-size="4.5" fill="#1e1e1e" font-weight="normal" textLength="8.50" lengthAdjust="spacingAndGlyphs" stroke="#1e1e1e" stroke-width="0.12">DIT4</text>
<text x="108.50" y="122.02" font-size="4.5" fill="#1e1e1e" font-weight="normal" textLength="9.50" lengthAdjust="spacingAndGlyphs" stroke="#1e1e1e" stroke-width="0.12">CD79</text>
<circle cx="98.55" cy="287.45" r="0.50" fill="#bccbe0"/>
<circle cx="98.63" cy="290.33" r="0.50" fill="#bccbe0"/>
<circle cx="95.42" cy="289.34" r="0.50" fill="#d0d8e4"/>
<circle cx="99.77" cy="289.07" r="0.50" fill="#bccbe0"/>
<circle cx="99.36" cy="289.44" r="0.50" fill="#bccbe0"/>
<circle cx="100.34" cy="286.94" r="0.50" fill="#d8c8cc"/>
<circle cx="97.69" cy="294.98" r="0.50" fill="#c7d3e6"/>
<circle cx="96.85" cy="277.63" r="0.50" fill="#c7d3e6"/>
<circle cx="97.27" cy="279.26" r="0.50" fill="#c7d3e6"/>
<circle cx="97.58" cy="293.64" r="0.50" fill="#d8c8cc"/>
<circle cx="98.14" cy="289.41" r="0.50" fill="#bccbe0"/>
<circle cx="99.94" cy="276.04" r="0.50" fill="#bccbe0"/>
<circle cx="98.34" cy="268.42" r="0.50" fill="#bccbe0"/>
<circle cx="97.45" cy="279.10" r="0.50" fill="#d0d8e4"/>
<circle cx="99.93" cy="294.48" r="0.50" fill="#c7d3e6"/>
<circle cx="96.09" cy="287.47" r="0.50" fill="#bccbe0"/>
<circle cx="97.84" cy="293.12" r="0.50" fill="#d0d8e4"/>
<circle cx="98.12" cy="284.55" r="0.50" fill="#d0d8e4"/>
<circle cx="99.72" cy="290.73" r="0.50" fill="#d0d8e4"/>
<circle cx="101.66" cy="293.30" r="0.50" fill="#d0d8e4"/>
<circle cx="99.65" cy="290.56" r="0.50" fill="#d8c8cc"/>
<circle cx="98.08" cy="287.45" r="0.50" fill="#d0d8e4"/>
<circle cx="99.02" cy="281.24" r="0.50" fill="#bccbe0"/>
<circle cx="99.94" cy="295.96" r="0.50" fill="#d0d8e4"/>
<circle cx="100.66" cy="292.31" r="0.50" fill="#c7d3e6"/>
<circle cx="97.51" cy="288.92" r="0.50" fill="#c7d3e6"/>
<circle cx="96.47" cy="285.97" r="0.50" fill="#d0d8e4"/>
<circle cx="98.51" cy="295.78" r="0.50" fill="#bccbe0"/>
<circle cx="97.34" cy="286.13" r="0.50" fill="#d8c8cc"/>
<circle cx="99.13" cy="288.10" r="0.50" fill="#c7d3e6"/>
<circle cx="98.30" cy="281.64" r="0.50" fill="#d0d8e4"/>
<circle cx="99.20" cy="295.93" r="0.50" fill="#bccbe0"/>
<circle cx="98.84" cy="292.86" r="0.50" fill="#d0d8e4"/>
<circle cx="98.03" cy="293.33" r="0.50" fill="#d8c8cc"/>
<circle cx="98.75" cy="285.64" r="0.50" fill="#d0d8e4"/>
<circle cx="100.58" cy="268.98" r="0.50" fill="#bccbe0"/>
<circle cx="100.51" cy="291.55" r="0.50" fill="#c7d3e6"/>
<circle cx="101.23" cy="286.10" r="0.50" fill="#c7d3e6"/>
<circle cx="101.26" cy="289.85" r="0.50" fill="#c7d3e6"/>
<circle cx="97.68" cy="260.54" r="0.50" fill="#d0d8e4"/>
<circle cx="97.10" cy="287.73" r="0.50" fill="#bccbe0"/>
<circle cx="99.16" cy="276.91" r="0.50" fill="#c7d3e6"/>
<circle cx="97.06" cy="290.54" r="0.50" fill="#bccbe0"/>
<circle cx="101.18" cy="274.70" r="0.50" fill="#d0d8e4"/>
<circle cx="96.90" cy="288.66" r="0.50" fill="#bccbe0"/>
<circle cx="97.76" cy="292.21" r="0.50" fill="#bccbe0"/>
<circle cx="97.67" cy="284.68" r="0.50" fill="#bccbe0"/>
<circle cx="98.28" cy="291.09" r="0.50" fill="#c7d3e6"/>
<circle cx="97.46" cy="284.87" r="0.50" fill="#bccbe0"/>
<circle cx="98.56" cy="294.15" r="0.50" fill="#d8c8cc"/>
<circle cx="97.32" cy="276.01" r="0.50" fill="#d0d8e4"/>
<circle cx="97.38" cy="293.33" r="0.50" fill="#d0d8e4"/>
<circle cx="99.06" cy="295.18" r="0.50" fill="#d0d8e4"/>
<circle cx="97.23" cy="292.26" r="0.50" fill="#d0d8e4"/>
<circle cx="99.27" cy="290.02" r="0.50" fill="#bccbe0"/>
<circle cx="97.39" cy="284.81" r="0.50" fill="#bccbe0"/>
<circle cx="99.14" cy="288.86" r="0.50" fill="#d0d8e4"/>
<circle cx="98.96" cy="291.27" r="0.50" fill="#d0d8e4"/>
<circle cx="99.85" cy="283.15" r="0.50" fill="#c7d3e6"/>
<circle cx="97.10" cy="293.07" r="0.50" fill="#bccbe0"/>
<circle cx="97.42" cy="289.90" r="0.50" fill="#d8c8cc"/>
<circle cx="97.56" cy="272.50" r="0.50" fill="#c7d3e6"/>
<circle cx="97.49" cy="274.16" r="0.50" fill="#d8c8cc"/>
<circle cx="96.22" cy="269.80" r="0.50" fill="#bccbe0"/>
<circle cx="99.45" cy="278.76" r="0.50" fill="#d0d8e4"/>
<circle cx="97.55" cy="261.00" r="0.50" fill="#d0d8e4"/>
<circle cx="96.77" cy="276.02" r="0.50" fill="#bccbe0"/>
<circle cx="98.75" cy="291.62" r="0.50" fill="#d8c8cc"/>
<circle cx="100.05" cy="272.86" r="0.50" fill="#c7d3e6"/>
<circle cx="98.57" cy="293.69" r="0.50" fill="#d8c8cc"/>
<circle cx="98.34" cy="284.96" r="0.50" fill="#c7d3e6"/>
<circle cx="99.24" cy="270.55" r="0.50" fill="#c7d3e6"/>
<circle cx="98.46" cy="294.83" r="0.50" fill="#d0d8e4"/>
<circle cx="99.78" cy="269.24" r="0.50" fill="#d0d8e4"/>
<circle cx="99.14" cy="295.17" r="0.50" fill="#c7d3e6"/>
<circle cx="99.22" cy="294.51" r="0.50" fill="#bccbe0"/>
<circle cx="99.58" cy="290.23" r="0.50" fill="#bccbe0"/>
<circle cx="97.21" cy="288.07" r="0.50" fill="#bccbe0"/>
<circle cx="97.02" cy="268.21" r="0.50" fill="#bccbe0"/>
<circle cx="98.80" cy="290.77" r="0.50" fill="#c7d3e6"/>
<circle cx="98.17" cy="285.67" r="0.50" fill="#bccbe0"/>
<circle cx="97.68" cy="282.34" r="0.50" fill="#d0d8e4"/>
<circle cx="95.40" cy="270.04" r="0.50" fill="#c7d3e6"/>
<circle cx="98.52" cy="269.25" r="0.50" fill="#d8c8cc"/>
<circle cx="96.95" cy="281.31" r="0.50" fill="#d0d8e4"/>
<circle cx="98.31" cy="290.98" r="0.50" fill="#d8c8cc"/>
<circle cx="99.93" cy="285.62" r="0.50" fill="#d0d8e4"/>
<circle cx="98.89" cy="281.22" r="0.50" fill="#d8c8cc"/>
<circle cx="98.74" cy="286.19" r="0.50" fill="#c7d3e6"/>
<circle cx="99.17" cy="281.90" r="0.50" fill="#d8c8cc"/>
<circle cx="99.05" cy="289.01" r="0.50" fill="#d0d8e4"/>
<circle cx="99.94" cy="283.55" r="0.50" fill="#d0d8e4"/>
<circle cx="98.51" cy="279.49" r="0.50" fill="#bccbe0"/>
<circle cx="98.45" cy="292.54" r="0.50" fill="#c7d3e6"/>
<circle cx="98.70" cy="284.59" r="0.50" fill="#d8c8cc"/>
<circle cx="96.40" cy="276.09" r="0.50" fill="#d0d8e4"/>
<circle cx="102.74" cy="292.04" r="0.50" fill="#bccbe0"/>
<circle cx="98.82" cy="292.32" r="0.50" fill="#d8c8cc"/>
<circle cx="98.83" cy="270.01" r="0.50" fill="#bccbe0"/>
<circle cx="97.24" cy="285.69" r="0.50" fill="#bccbe0"/>
<circle cx="100.17" cy="289.42" r="0.50" fill="#c7d3e6"/>
<circle cx="98.19" cy="284.05" r="0.50" fill="#d0d8e4"/>
<circle cx="100.25" cy="269.61" r="0.50" fill="#d0d8e4"/>
<circle cx="97.66" cy="293.79" r="0.50" fill="#c7d3e6"/>
<circle cx="98.95" cy="274.25" r="0.50" fill="#bccbe0"/>
<circle cx="97.92" cy="281.35" r="0.50" fill="#bccbe0"/>
<circle cx="98.60" cy="289.45" r="0.50" fill="#c7d3e6"/>
<circle cx="97.51" cy="285.47" r="0.50" fill="#c7d3e6"/>
<circle cx="98.47" cy="275.20" r="0.50" fill="#d0d8e4"/>
<circle cx="96.08" cy="287.48" r="0.50" fill="#d8c8cc"/>
<circle cx="98.66" cy="282.61" r="0.50" fill="#d8c8cc"/>
<circle cx="98.89" cy="273.91" r="0.50" fill="#bccbe0"/>
<circle cx="98.05" cy="291.53" r="0.50" fill="#d8c8cc"/>
<circle cx="101.00" cy="279.40" r="0.50" fill="#d0d8e4"/>
<circle cx="102.06" cy="286.82" r="0.50" fill="#d0d8e4"/>
<circle cx="100.32" cy="287.78" r="0.50" fill="#c7d3e6"/>
<circle cx="98.35" cy="290.98" r="0.50" fill="#bccbe0"/>
<circle cx="97.99" cy="293.73" r="0.50" fill="#d8c8cc"/>
<circle cx="97.83" cy="274.99" r="0.50" fill="#c7d3e6"/>
<circle cx="101.29" cy="289.89" r="0.50" fill="#d0d8e4"/>
<circle cx="107.70" cy="292.78" r="0.45" fill="#cfd3da"/>
<circle cx="114.33" cy="286.05" r="0.45" fill="#dcdcdf"/>
<circle cx="75.22" cy="286.58" r="0.45" fill="#dcdcdf"/>
<circle cx="123.71" cy="277.88" r="0.45" fill="#dcdcdf"/>
<circle cx="71.09" cy="294.56" r="0.45" fill="#d2d2d6"/>
<circle cx="68.25" cy="263.98" r="0.45" fill="#cfd3da"/>
<circle cx="144.58" cy="293.79" r="0.45" fill="#d2d2d6"/>
<circle cx="146.08" cy="284.34" r="0.45" fill="#cfd3da"/>
<circle cx="132.98" cy="295.34" r="0.45" fill="#d2d2d6"/>
<circle cx="126.06" cy="284.02" r="0.45" fill="#d2d2d6"/>
<circle cx="127.41" cy="283.97" r="0.45" fill="#cfd3da"/>
<circle cx="90.50" cy="288.94" r="0.45" fill="#d2d2d6"/>
<circle cx="62.49" cy="274.06" r="0.45" fill="#cfd3da"/>
<circle cx="73.37" cy="294.23" r="0.45" fill="#cfd3da"/>
<circle cx="88.91" cy="286.75" r="0.45" fill="#dcdcdf"/>
<circle cx="121.44" cy="278.46" r="0.45" fill="#cfd3da"/>
<circle cx="97.66" cy="285.58" r="0.45" fill="#cfd3da"/>
<circle cx="90.94" cy="274.46" r="0.45" fill="#dcdcdf"/>
<circle cx="114.59" cy="272.14" r="0.45" fill="#dcdcdf"/>
<circle cx="80.51" cy="278.53" r="0.45" fill="#dcdcdf"/>
<circle cx="133.70" cy="294.85" r="0.45" fill="#dcdcdf"/>
<circle cx="115.60" cy="284.60" r="0.45" fill="#dcdcdf"/>
<circle cx="94.04" cy="289.37" r="0.45" fill="#cfd3da"/>
<circle cx="96.95" cy="290.50" r="0.45" fill="#cfd3da"/>
<circle cx="129.28" cy="271.86" r="0.45" fill="#cfd3da"/>
<circle cx="132.38" cy="285.20" r="0.45" fill="#cfd3da"/>
<circle cx="75.43" cy="289.99" r="0.45" fill="#cfd3da"/>
<circle cx="119.03" cy="287.67" r="0.45" fill="#dcdcdf"/>
<circle cx="99.33" cy="292.88" r="0.45" fill="#cfd3da"/>
<circle cx="90.28" cy="287.68" r="0.45" fill="#d2d2d6"/>
<circle cx="91.08" cy="283.05" r="0.45" fill="#d2d2d6"/>
<circle cx="137.15" cy="276.65" r="0.45" fill="#cfd3da"/>
<circle cx="138.58" cy="270.54" r="0.45" fill="#cfd3da"/>
<circle cx="148.13" cy="289.02" r="0.45" fill="#dcdcdf"/>
<circle cx="102.32" cy="276.62" r="0.45" fill="#d2d2d6"/>
<circle cx="125.65" cy="291.26" r="0.45" fill="#dcdcdf"/>
<circle cx="82.44" cy="287.37" r="0.45" fill="#d2d2d6"/>
<circle cx="141.27" cy="289.70" r="0.45" fill="#d2d2d6"/>
<circle cx="80.44" cy="291.94" r="0.45" fill="#cfd3da"/>
<circle cx="64.73" cy="294.07" r="0.45" fill="#dcdcdf"/>
<circle cx="117.61" cy="290.88" r="0.45" fill="#dcdcdf"/>
<circle cx="87.89" cy="283.34" r="0.45" fill="#cfd3da"/>
<circle cx="139.83" cy="286.69" r="0.45" fill="#dcdcdf"/>
<circle cx="126.04" cy="291.13" r="0.45" fill="#dcdcdf"/>
<circle cx="126.52" cy="280.05" r="0.45" fill="#cfd3da"/>
<circle cx="112.87" cy="274.69" r="0.45" fill="#cfd3da"/>
<circle cx="66.16" cy="294.26" r="0.45" fill="#cfd3da"/>
<circle cx="80.44" cy="295.39" r="0.45" fill="#d2d2d6"/>
<circle cx="92.61" cy="276.21" r="0.45" fill="#cfd3da"/>
<circle cx="137.69" cy="273.06" r="0.45" fill="#cfd3da"/>
<circle cx="142.29" cy="280.34" r="0.45" fill="#dcdcdf"/>
<circle cx="62.13" cy="292.51" r="0.45" fill="#d2d2d6"/>
<circle cx="98.64" cy="283.78" r="0.45" fill="#cfd3da"/>
<circle cx="131.00" cy="287.99" r="0.45" fill="#dcdcdf"/>
<circle cx="69.14" cy="291.55" r="0.45" fill="#d2d2d6"/>
<circle cx="79.71" cy="280.29" r="0.45" fill="#cfd3da"/>
<circle cx="99.01" cy="282.19" r="0.45" fill="#dcdcdf"/>
<circle cx="78.16" cy="283.13" r="0.45" fill="#dcdcdf"/>
<circle cx="149.25" cy="263.98" r="0.45" fill="#dcdcdf"/>
<circle cx="109.22" cy="292.86" r="0.45" fill="#cfd3da"/>
<line x1="38.50" y1="294.80" x2="164.50" y2="294.80" stroke="#a2a2a2" stroke-width="2.0" stroke-dasharray="0.8 2.0"/>
<line x1="36.90" y1="210.40" x2="36.90" y2="297.20" stroke="#1e1e1e" stroke-width="1.3"/>
<line x1="36.30" y1="296.60" x2="165.70" y2="296.60" stroke="#1e1e1e" stroke-width="1.3"/>
<line x1="33.90" y1="213.30" x2="36.90" y2="213.30" stroke="#1e1e1e" stroke-width="1.1"/>
<text x="23.50" y="215.40" font-size="6.0" fill="#333" font-weight="normal" textLength="6.80" lengthAdjust="spacingAndGlyphs" stroke="#333" stroke-width="0.22">12</text>
<line x1="33.90" y1="228.50" x2="36.90" y2="228.50" stroke="#1e1e1e" stroke-width="1.1"/>
<text x="23.50" y="230.60" font-size="6.0" fill="#333" font-weight="normal" textLength="6.80" lengthAdjust="spacingAndGlyphs" stroke="#333" stroke-width="0.22">10</text>
<line x1="33.90" y1="243.70" x2="36.90" y2="243.70" stroke="#1e1e1e" stroke-width="1.1"/>
<text x="26.90" y="245.80" font-size="6.0" fill="#333" font-weight="normal" textLength="3.40" lengthAdjust="spacingAndGlyphs" stroke="#333" stroke-width="0.22">8</text>
<line x1="33.90" y1="258.90" x2="36.90" y2="258.90" stroke="#1e1e1e" stroke-width="1.1"/>
<text x="26.90" y="261.00" font-size="6.0" fill="#333" font-weight="normal" textLength="3.40" lengthAdjust="spacingAndGlyphs" stroke="#333" stroke-width="0.22">6</text>
<line x1="33.90" y1="274.10" x2="36.90" y2="274.10" stroke="#1e1e1e" stroke-width="1.1"/>
<text x="26.90" y="276.20" font-size="6.0" fill="#333" font-weight="normal" textLength="3.40" lengthAdjust="spacingAndGlyphs" stroke="#333" stroke-width="0.22">4</text>
<line x1="33.90" y1="289.30" x2="36.90" y2="289.30" stroke="#1e1e1e" stroke-width="1.1"/>
<text x="26.90" y="291.40" font-size="6.0" fill="#333" font-weight="normal" textLength="3.40" lengthAdjust="spacingAndGlyphs" stroke="#333" stroke-width="0.22">2</text>
<line x1="50.50" y1="296.60" x2="50.50" y2="299.60" stroke="#1e1e1e" stroke-width="1.1"/>
<text x="50.50" y="308.7" font-size="6.2" fill="#333" stroke="#333" stroke-width="0.22" text-anchor="middle">–2</text>
<line x1="78.30" y1="296.60" x2="78.30" y2="299.60" stroke="#1e1e1e" stroke-width="1.1"/>
<text x="78.30" y="308.7" font-size="6.2" fill="#333" stroke="#333" stroke-width="0.22" text-anchor="middle">–1</text>
<line x1="106.50" y1="296.60" x2="106.50" y2="299.60" stroke="#1e1e1e" stroke-width="1.1"/>
<text x="106.50" y="308.7" font-size="6.2" fill="#333" stroke="#333" stroke-width="0.22" text-anchor="middle">0</text>
<line x1="134.30" y1="296.60" x2="134.30" y2="299.60" stroke="#1e1e1e" stroke-width="1.1"/>
<text x="134.30" y="308.7" font-size="6.2" fill="#333" stroke="#333" stroke-width="0.22" text-anchor="middle">1</text>
<line x1="162.10" y1="296.60" x2="162.10" y2="299.60" stroke="#1e1e1e" stroke-width="1.1"/>
<text x="162.10" y="308.7" font-size="6.2" fill="#333" stroke="#333" stroke-width="0.22" text-anchor="middle">2</text>
<text x="49.30" y="321.60" font-size="8.6" fill="#2b2b2b" font-weight="normal" textLength="103.70" lengthAdjust="spacingAndGlyphs" stroke="#2b2b2b" stroke-width="0.35">log2 fold-change in protein expression</text>
<text x="73.00" y="332.00" font-size="8.6" fill="#2b2b2b" font-weight="normal" textLength="56.50" lengthAdjust="spacingAndGlyphs" stroke="#2b2b2b" stroke-width="0.35">(mass spectrometry)</text>
<g transform="translate(17.60,280.40) rotate(-90)"><text x="0" y="0" font-size="7.31" fill="#2b2b2b" stroke="#2b2b2b" stroke-width="0.35" textLength="45.60" lengthAdjust="spacingAndGlyphs">−log10 <tspan font-style="italic">P</tspan>-value</text></g>
<ellipse cx="90" cy="260.4" rx="16.3" ry="7.0" fill="none" stroke="#1e4a72" stroke-width="1.4"/>
<ellipse cx="85.3" cy="286.6" rx="11.6" ry="4.9" fill="none" stroke="#1e4a72" stroke-width="1.4"/>
<circle cx="124.40" cy="221.70" r="0.90" fill="#a01030"/>
<circle cx="145.20" cy="219.80" r="0.90" fill="#a01030"/>
<circle cx="131.70" cy="234.60" r="0.90" fill="#a01030"/>
<circle cx="91.70" cy="246.90" r="0.95" fill="#1f3f70"/>
<circle cx="93.00" cy="252.00" r="0.90" fill="#1f3f70"/>
<circle cx="97.20" cy="257.70" r="0.90" fill="#1f3f6a"/>
<circle cx="114.00" cy="264.00" r="0.90" fill="#a01030"/>
<circle cx="116.30" cy="276.50" r="0.85" fill="#333"/>
<circle cx="115.40" cy="289.70" r="0.85" fill="#a01030"/>
<circle cx="93.80" cy="286.70" r="0.90" fill="#111"/>
<rect x="90.90" y="270.40" width="1.70" height="2.20" fill="#1f4f86"/>
<rect x="94.40" y="270.40" width="1.70" height="2.20" fill="#1f4f86"/>
<line x1="97.50" y1="263.00" x2="99.00" y2="266.00" stroke="#8aa0c0" stroke-width="0.5"/>
<line x1="112.50" y1="281.00" x2="114.00" y2="283.00" stroke="#d0a0b0" stroke-width="0.5"/>
<text x="126.50" y="224.07" font-size="5.2" fill="#575757" font-weight="normal" textLength="12.90" lengthAdjust="spacingAndGlyphs">MMP2</text>
<text x="147.70" y="222.17" font-size="5.2" fill="#575757" font-weight="normal" textLength="15.80" lengthAdjust="spacingAndGlyphs">CYP1A1</text>
<text x="133.70" y="236.97" font-size="5.2" fill="#575757" font-weight="normal" textLength="15.30" lengthAdjust="spacingAndGlyphs">MMP11</text>
<text x="74.60" y="248.77" font-size="5.2" fill="#575757" font-weight="normal" textLength="14.90" lengthAdjust="spacingAndGlyphs">CEBPE</text>
<text x="78.00" y="253.87" font-size="5.2" fill="#575757" font-weight="normal" textLength="12.90" lengthAdjust="spacingAndGlyphs">AHRR</text>
<text x="80.20" y="259.57" font-size="5.2" fill="#575757" font-weight="normal" textLength="15.00" lengthAdjust="spacingAndGlyphs">UBE2C</text>
<text x="88.30" y="264.17" font-size="5.2" fill="#575757" font-weight="normal" textLength="9.70" lengthAdjust="spacingAndGlyphs">MPO</text>
<text x="74.00" y="272.77" font-size="5.2" fill="#575757" font-weight="normal" textLength="13.40" lengthAdjust="spacingAndGlyphs">HOXB1</text>
<text x="74.00" y="276.07" font-size="5.2" fill="#575757" font-weight="normal" textLength="13.40" lengthAdjust="spacingAndGlyphs">HOXA1</text>
<text x="74.00" y="279.37" font-size="5.2" fill="#575757" font-weight="normal" textLength="13.40" lengthAdjust="spacingAndGlyphs">HOXD1</text>
<text x="96.90" y="271.07" font-size="5.2" fill="#575757" font-weight="normal" textLength="18.00" lengthAdjust="spacingAndGlyphs">CDKN1C</text>
<text x="96.90" y="274.57" font-size="5.2" fill="#575757" font-weight="normal" textLength="16.10" lengthAdjust="spacingAndGlyphs">CD276</text>
<text x="97.70" y="278.37" font-size="5.2" fill="#575757" font-weight="normal" textLength="12.00" lengthAdjust="spacingAndGlyphs">CD93</text>
<text x="116.60" y="266.07" font-size="5.2" fill="#575757" font-weight="normal" textLength="11.20" lengthAdjust="spacingAndGlyphs">HSF1</text>
<text x="118.50" y="278.57" font-size="5.2" fill="#575757" font-weight="normal" textLength="14.50" lengthAdjust="spacingAndGlyphs">CYP1B1</text>
<text x="108.90" y="283.57" font-size="5.2" fill="#575757" font-weight="normal" textLength="14.60" lengthAdjust="spacingAndGlyphs">FBXW7</text>
<text x="117.00" y="291.87" font-size="5.2" fill="#575757" font-weight="normal" textLength="18.00" lengthAdjust="spacingAndGlyphs">GADD45A</text>
<text x="80.20" y="288.67" font-size="5.2" fill="#575757" font-weight="normal" textLength="12.00" lengthAdjust="spacingAndGlyphs">CD34</text>
<line x1="265.00" y1="42.80" x2="265.00" y2="297.00" stroke="#383838" stroke-width="1.0"/>
<rect x="265.40" y="44.85" width="38.50" height="3.10" fill="#c2112e"/>
<line x1="233.40" y1="46.40" x2="236.60" y2="46.40" stroke="#1e1e1e" stroke-width="1.0"/>
<text x="230.0" y="48.45" font-size="6.7" fill="#2b2b2b" stroke="#2b2b2b" stroke-width="0.15" text-anchor="end">CYP1A1</text>
<rect x="265.40" y="50.47" width="20.00" height="3.10" fill="#c2112e"/>
<line x1="233.40" y1="52.02" x2="236.60" y2="52.02" stroke="#1e1e1e" stroke-width="1.0"/>
<text x="230.0" y="54.06" font-size="6.7" fill="#2b2b2b" stroke="#2b2b2b" stroke-width="0.15" text-anchor="end">LEF1</text>
<rect x="265.40" y="56.08" width="17.60" height="3.10" fill="#c2112e"/>
<line x1="233.40" y1="57.63" x2="236.60" y2="57.63" stroke="#1e1e1e" stroke-width="1.0"/>
<text x="230.0" y="59.68" font-size="6.7" fill="#2b2b2b" stroke="#2b2b2b" stroke-width="0.15" text-anchor="end">MMP2</text>
<rect x="265.40" y="61.70" width="15.50" height="3.10" fill="#c2112e"/>
<line x1="233.40" y1="63.24" x2="236.60" y2="63.24" stroke="#1e1e1e" stroke-width="1.0"/>
<text x="230.0" y="65.30" font-size="6.7" fill="#2b2b2b" stroke="#2b2b2b" stroke-width="0.15" text-anchor="end">SLC25A4</text>
<rect x="265.40" y="67.31" width="12.40" height="3.10" fill="#c2112e"/>
<line x1="233.40" y1="68.86" x2="236.60" y2="68.86" stroke="#1e1e1e" stroke-width="1.0"/>
<text x="230.0" y="70.91" font-size="6.7" fill="#2b2b2b" stroke="#2b2b2b" stroke-width="0.15" text-anchor="end">ZNF320</text>
<rect x="265.40" y="72.92" width="11.40" height="3.10" fill="#c2112e"/>
<line x1="233.40" y1="74.47" x2="236.60" y2="74.47" stroke="#1e1e1e" stroke-width="1.0"/>
<text x="230.0" y="76.52" font-size="6.7" fill="#2b2b2b" stroke="#2b2b2b" stroke-width="0.15" text-anchor="end">SFN</text>
<rect x="265.40" y="78.54" width="9.70" height="3.10" fill="#c2112e"/>
<line x1="233.40" y1="80.09" x2="236.60" y2="80.09" stroke="#1e1e1e" stroke-width="1.0"/>
<text x="230.0" y="82.14" font-size="6.7" fill="#2b2b2b" stroke="#2b2b2b" stroke-width="0.15" text-anchor="end">ZNF224</text>
<rect x="265.40" y="84.16" width="9.70" height="3.10" fill="#c2112e"/>
<line x1="233.40" y1="85.70" x2="236.60" y2="85.70" stroke="#1e1e1e" stroke-width="1.0"/>
<text x="230.0" y="87.75" font-size="6.7" fill="#2b2b2b" stroke="#2b2b2b" stroke-width="0.15" text-anchor="end">CYP1B1</text>
<rect x="265.40" y="89.77" width="9.30" height="3.10" fill="#c2112e"/>
<line x1="233.40" y1="91.32" x2="236.60" y2="91.32" stroke="#1e1e1e" stroke-width="1.0"/>
<text x="230.0" y="93.37" font-size="6.7" fill="#2b2b2b" stroke="#2b2b2b" stroke-width="0.15" text-anchor="end">H3F3B</text>
<rect x="265.40" y="95.39" width="8.80" height="3.10" fill="#c2112e"/>
<line x1="233.40" y1="96.94" x2="236.60" y2="96.94" stroke="#1e1e1e" stroke-width="1.0"/>
<text x="230.0" y="98.98" font-size="6.7" fill="#2b2b2b" stroke="#2b2b2b" stroke-width="0.15" text-anchor="end">SMAD6</text>
<rect x="265.40" y="101.00" width="8.50" height="3.10" fill="#c2112e"/>
<line x1="233.40" y1="102.55" x2="236.60" y2="102.55" stroke="#1e1e1e" stroke-width="1.0"/>
<text x="230.0" y="104.60" font-size="6.7" fill="#2b2b2b" stroke="#2b2b2b" stroke-width="0.15" text-anchor="end">GADD45A</text>
<rect x="265.40" y="106.61" width="8.00" height="3.10" fill="#c2112e"/>
<line x1="233.40" y1="108.16" x2="236.60" y2="108.16" stroke="#1e1e1e" stroke-width="1.0"/>
<text x="230.0" y="110.21" font-size="6.7" fill="#2b2b2b" stroke="#2b2b2b" stroke-width="0.15" text-anchor="end">FBXW7</text>
<rect x="265.40" y="112.23" width="7.60" height="3.10" fill="#c2112e"/>
<line x1="233.40" y1="113.78" x2="236.60" y2="113.78" stroke="#1e1e1e" stroke-width="1.0"/>
<text x="230.0" y="115.83" font-size="6.7" fill="#2b2b2b" stroke="#2b2b2b" stroke-width="0.15" text-anchor="end">LIFR</text>
<rect x="265.40" y="117.85" width="7.30" height="3.10" fill="#c2112e"/>
<line x1="233.40" y1="119.40" x2="236.60" y2="119.40" stroke="#1e1e1e" stroke-width="1.0"/>
<text x="230.0" y="121.45" font-size="6.7" fill="#2b2b2b" stroke="#2b2b2b" stroke-width="0.15" text-anchor="end">OMD</text>
<rect x="265.40" y="123.46" width="6.80" height="3.10" fill="#c2112e"/>
<line x1="233.40" y1="125.01" x2="236.60" y2="125.01" stroke="#1e1e1e" stroke-width="1.0"/>
<text x="230.0" y="127.06" font-size="6.7" fill="#2b2b2b" stroke="#2b2b2b" stroke-width="0.15" text-anchor="end">HSF1</text>
<rect x="265.40" y="129.07" width="6.80" height="3.10" fill="#c2112e"/>
<line x1="233.40" y1="130.62" x2="236.60" y2="130.62" stroke="#1e1e1e" stroke-width="1.0"/>
<text x="230.0" y="132.68" font-size="6.7" fill="#2b2b2b" stroke="#2b2b2b" stroke-width="0.15" text-anchor="end">IL4R</text>
<rect x="257.80" y="134.69" width="6.70" height="3.10" fill="#144e89"/>
<line x1="233.40" y1="136.24" x2="236.60" y2="136.24" stroke="#1e1e1e" stroke-width="1.0"/>
<text x="230.0" y="138.29" font-size="6.7" fill="#2b2b2b" stroke="#2b2b2b" stroke-width="0.15" text-anchor="end">PMAIP1</text>
<rect x="257.60" y="140.30" width="6.90" height="3.10" fill="#144e89"/>
<line x1="233.40" y1="141.85" x2="236.60" y2="141.85" stroke="#1e1e1e" stroke-width="1.0"/>
<text x="230.0" y="143.91" font-size="6.7" fill="#2b2b2b" stroke="#2b2b2b" stroke-width="0.15" text-anchor="end">CSF1</text>
<rect x="257.40" y="145.92" width="7.10" height="3.10" fill="#144e89"/>
<line x1="233.40" y1="147.47" x2="236.60" y2="147.47" stroke="#1e1e1e" stroke-width="1.0"/>
<text x="230.0" y="149.52" font-size="6.7" fill="#2b2b2b" stroke="#2b2b2b" stroke-width="0.15" text-anchor="end">MDM4</text>
<rect x="257.10" y="151.53" width="7.40" height="3.10" fill="#144e89"/>
<line x1="233.40" y1="153.09" x2="236.60" y2="153.09" stroke="#1e1e1e" stroke-width="1.0"/>
<text x="230.0" y="155.14" font-size="6.7" fill="#2b2b2b" stroke="#2b2b2b" stroke-width="0.15" text-anchor="end">ZNF589</text>
<rect x="257.00" y="157.15" width="7.50" height="3.10" fill="#144e89"/>
<line x1="233.40" y1="158.70" x2="236.60" y2="158.70" stroke="#1e1e1e" stroke-width="1.0"/>
<text x="230.0" y="160.75" font-size="6.7" fill="#2b2b2b" stroke="#2b2b2b" stroke-width="0.15" text-anchor="end">ITGAX</text>
<rect x="256.80" y="162.76" width="7.70" height="3.10" fill="#144e89"/>
<line x1="233.40" y1="164.31" x2="236.60" y2="164.31" stroke="#1e1e1e" stroke-width="1.0"/>
<text x="230.0" y="166.37" font-size="6.7" fill="#2b2b2b" stroke="#2b2b2b" stroke-width="0.15" text-anchor="end">IGFBP3</text>
<rect x="256.50" y="168.38" width="8.00" height="3.10" fill="#144e89"/>
<line x1="233.40" y1="169.93" x2="236.60" y2="169.93" stroke="#1e1e1e" stroke-width="1.0"/>
<text x="230.0" y="171.98" font-size="6.7" fill="#2b2b2b" stroke="#2b2b2b" stroke-width="0.15" text-anchor="end">CD83</text>
<rect x="256.30" y="174.00" width="8.20" height="3.10" fill="#144e89"/>
<line x1="233.40" y1="175.55" x2="236.60" y2="175.55" stroke="#1e1e1e" stroke-width="1.0"/>
<text x="230.0" y="177.60" font-size="6.7" fill="#2b2b2b" stroke="#2b2b2b" stroke-width="0.15" text-anchor="end">ELANE</text>
<rect x="256.10" y="179.61" width="8.40" height="3.10" fill="#144e89"/>
<line x1="233.40" y1="181.16" x2="236.60" y2="181.16" stroke="#1e1e1e" stroke-width="1.0"/>
<text x="230.0" y="183.21" font-size="6.7" fill="#2b2b2b" stroke="#2b2b2b" stroke-width="0.15" text-anchor="end">MPO</text>
<rect x="256.00" y="185.22" width="8.50" height="3.10" fill="#144e89"/>
<line x1="233.40" y1="186.78" x2="236.60" y2="186.78" stroke="#1e1e1e" stroke-width="1.0"/>
<text x="230.0" y="188.83" font-size="6.7" fill="#2b2b2b" stroke="#2b2b2b" stroke-width="0.15" text-anchor="end">JAG1</text>
<rect x="255.80" y="190.84" width="8.70" height="3.10" fill="#144e89"/>
<line x1="233.40" y1="192.39" x2="236.60" y2="192.39" stroke="#1e1e1e" stroke-width="1.0"/>
<text x="230.0" y="194.44" font-size="6.7" fill="#2b2b2b" stroke="#2b2b2b" stroke-width="0.15" text-anchor="end">IGFBP2</text>
<rect x="255.50" y="196.46" width="9.00" height="3.10" fill="#144e89"/>
<line x1="233.40" y1="198.01" x2="236.60" y2="198.01" stroke="#1e1e1e" stroke-width="1.0"/>
<text x="230.0" y="200.06" font-size="6.7" fill="#2b2b2b" stroke="#2b2b2b" stroke-width="0.15" text-anchor="end">UBE2C</text>
<rect x="255.00" y="202.07" width="9.50" height="3.10" fill="#144e89"/>
<line x1="233.40" y1="203.62" x2="236.60" y2="203.62" stroke="#1e1e1e" stroke-width="1.0"/>
<text x="230.0" y="205.67" font-size="6.7" fill="#2b2b2b" stroke="#2b2b2b" stroke-width="0.15" text-anchor="end">GATA1</text>
<rect x="254.60" y="207.69" width="9.90" height="3.10" fill="#144e89"/>
<line x1="233.40" y1="209.24" x2="236.60" y2="209.24" stroke="#1e1e1e" stroke-width="1.0"/>
<text x="230.0" y="211.29" font-size="6.7" fill="#2b2b2b" stroke="#2b2b2b" stroke-width="0.15" text-anchor="end">WNT8A</text>
<rect x="254.50" y="213.30" width="10.00" height="3.10" fill="#144e89"/>
<line x1="233.40" y1="214.85" x2="236.60" y2="214.85" stroke="#1e1e1e" stroke-width="1.0"/>
<text x="230.0" y="216.90" font-size="6.7" fill="#2b2b2b" stroke="#2b2b2b" stroke-width="0.15" text-anchor="end">CCL5</text>
<rect x="254.30" y="218.91" width="10.20" height="3.10" fill="#144e89"/>
<line x1="233.40" y1="220.47" x2="236.60" y2="220.47" stroke="#1e1e1e" stroke-width="1.0"/>
<text x="230.0" y="222.52" font-size="6.7" fill="#2b2b2b" stroke="#2b2b2b" stroke-width="0.15" text-anchor="end">CD276</text>
<rect x="254.30" y="224.53" width="10.20" height="3.10" fill="#144e89"/>
<line x1="233.40" y1="226.08" x2="236.60" y2="226.08" stroke="#1e1e1e" stroke-width="1.0"/>
<text x="230.0" y="228.13" font-size="6.7" fill="#2b2b2b" stroke="#2b2b2b" stroke-width="0.15" text-anchor="end">NCF2</text>
<rect x="254.00" y="230.15" width="10.50" height="3.10" fill="#144e89"/>
<line x1="233.40" y1="231.70" x2="236.60" y2="231.70" stroke="#1e1e1e" stroke-width="1.0"/>
<text x="230.0" y="233.75" font-size="6.7" fill="#2b2b2b" stroke="#2b2b2b" stroke-width="0.15" text-anchor="end">CDKN1C</text>
<rect x="252.40" y="235.76" width="12.10" height="3.10" fill="#144e89"/>
<line x1="233.40" y1="237.31" x2="236.60" y2="237.31" stroke="#1e1e1e" stroke-width="1.0"/>
<text x="230.0" y="239.36" font-size="6.7" fill="#2b2b2b" stroke="#2b2b2b" stroke-width="0.15" text-anchor="end">CCL3</text>
<rect x="252.20" y="241.38" width="12.30" height="3.10" fill="#144e89"/>
<line x1="233.40" y1="242.93" x2="236.60" y2="242.93" stroke="#1e1e1e" stroke-width="1.0"/>
<text x="230.0" y="244.98" font-size="6.7" fill="#2b2b2b" stroke="#2b2b2b" stroke-width="0.15" text-anchor="end">CD34</text>
<rect x="251.70" y="246.99" width="12.80" height="3.10" fill="#144e89"/>
<line x1="233.40" y1="248.54" x2="236.60" y2="248.54" stroke="#1e1e1e" stroke-width="1.0"/>
<text x="230.0" y="250.59" font-size="6.7" fill="#2b2b2b" stroke="#2b2b2b" stroke-width="0.15" text-anchor="end">AHRR</text>
<rect x="251.20" y="252.60" width="13.30" height="3.10" fill="#144e89"/>
<line x1="233.40" y1="254.16" x2="236.60" y2="254.16" stroke="#1e1e1e" stroke-width="1.0"/>
<text x="230.0" y="256.20" font-size="6.7" fill="#2b2b2b" stroke="#2b2b2b" stroke-width="0.15" text-anchor="end">NRG1</text>
<rect x="251.00" y="258.22" width="13.50" height="3.10" fill="#144e89"/>
<line x1="233.40" y1="259.77" x2="236.60" y2="259.77" stroke="#1e1e1e" stroke-width="1.0"/>
<text x="230.0" y="261.82" font-size="6.7" fill="#2b2b2b" stroke="#2b2b2b" stroke-width="0.15" text-anchor="end">GP1BA</text>
<rect x="251.00" y="263.83" width="13.50" height="3.10" fill="#144e89"/>
<line x1="233.40" y1="265.38" x2="236.60" y2="265.38" stroke="#1e1e1e" stroke-width="1.0"/>
<text x="230.0" y="267.44" font-size="6.7" fill="#2b2b2b" stroke="#2b2b2b" stroke-width="0.15" text-anchor="end">TFAP2C</text>
<rect x="251.00" y="269.45" width="13.50" height="3.10" fill="#144e89"/>
<line x1="233.40" y1="271.00" x2="236.60" y2="271.00" stroke="#1e1e1e" stroke-width="1.0"/>
<text x="230.0" y="273.05" font-size="6.7" fill="#2b2b2b" stroke="#2b2b2b" stroke-width="0.15" text-anchor="end">HOXD1</text>
<rect x="251.00" y="275.06" width="13.50" height="3.10" fill="#144e89"/>
<line x1="233.40" y1="276.62" x2="236.60" y2="276.62" stroke="#1e1e1e" stroke-width="1.0"/>
<text x="230.0" y="278.67" font-size="6.7" fill="#2b2b2b" stroke="#2b2b2b" stroke-width="0.15" text-anchor="end">HOXA1</text>
<rect x="250.80" y="280.68" width="13.70" height="3.10" fill="#144e89"/>
<line x1="233.40" y1="282.23" x2="236.60" y2="282.23" stroke="#1e1e1e" stroke-width="1.0"/>
<text x="230.0" y="284.28" font-size="6.7" fill="#2b2b2b" stroke="#2b2b2b" stroke-width="0.15" text-anchor="end">HOXB1</text>
<rect x="250.40" y="286.30" width="14.10" height="3.10" fill="#144e89"/>
<line x1="233.40" y1="287.85" x2="236.60" y2="287.85" stroke="#1e1e1e" stroke-width="1.0"/>
<text x="230.0" y="289.90" font-size="6.7" fill="#2b2b2b" stroke="#2b2b2b" stroke-width="0.15" text-anchor="end">CEBPE</text>
<rect x="242.60" y="291.91" width="21.90" height="3.10" fill="#144e89"/>
<line x1="233.40" y1="293.46" x2="236.60" y2="293.46" stroke="#1e1e1e" stroke-width="1.0"/>
<text x="230.0" y="295.51" font-size="6.7" fill="#2b2b2b" stroke="#2b2b2b" stroke-width="0.15" text-anchor="end">CTGF</text>
<line x1="236.60" y1="42.00" x2="236.60" y2="297.60" stroke="#1e1e1e" stroke-width="1.3"/>
<line x1="236.00" y1="297.00" x2="311.10" y2="297.00" stroke="#1e1e1e" stroke-width="1.3"/>
<line x1="236.70" y1="297.00" x2="236.70" y2="300.00" stroke="#1e1e1e" stroke-width="1.1"/>
<text x="236.70" y="308.7" font-size="6.6" fill="#333" stroke="#333" stroke-width="0.22" text-anchor="middle">−1.0</text>
<line x1="250.80" y1="297.00" x2="250.80" y2="300.00" stroke="#1e1e1e" stroke-width="1.1"/>
<text x="250.80" y="308.7" font-size="6.6" fill="#333" stroke="#333" stroke-width="0.22" text-anchor="middle">−0.5</text>
<line x1="265.00" y1="297.00" x2="265.00" y2="300.00" stroke="#1e1e1e" stroke-width="1.1"/>
<text x="265.00" y="308.7" font-size="6.6" fill="#333" stroke="#333" stroke-width="0.22" text-anchor="middle">0.0</text>
<line x1="279.10" y1="297.00" x2="279.10" y2="300.00" stroke="#1e1e1e" stroke-width="1.1"/>
<text x="279.10" y="308.7" font-size="6.6" fill="#333" stroke="#333" stroke-width="0.22" text-anchor="middle">0.5</text>
<line x1="293.30" y1="297.00" x2="293.30" y2="300.00" stroke="#1e1e1e" stroke-width="1.1"/>
<text x="293.30" y="308.7" font-size="6.6" fill="#333" stroke="#333" stroke-width="0.22" text-anchor="middle">1.0</text>
<line x1="307.60" y1="297.00" x2="307.60" y2="300.00" stroke="#1e1e1e" stroke-width="1.1"/>
<text x="307.60" y="308.7" font-size="6.6" fill="#333" stroke="#333" stroke-width="0.22" text-anchor="middle">1.5</text>
<text x="221.60" y="321.60" font-size="8.6" fill="#2b2b2b" font-weight="normal" textLength="102.20" lengthAdjust="spacingAndGlyphs" stroke="#2b2b2b" stroke-width="0.35">log2 fold-change in protein expression</text>
<text x="243.90" y="332.00" font-size="8.6" fill="#2b2b2b" font-weight="normal" textLength="56.40" lengthAdjust="spacingAndGlyphs" stroke="#2b2b2b" stroke-width="0.35">(mass spectrometry)</text>
<text x="360.20" y="35.80" font-size="6.6" fill="#333" font-weight="normal" textLength="43.80" lengthAdjust="spacingAndGlyphs" stroke="#333" stroke-width="0.06">48 genes down</text>
<text x="445.00" y="35.00" font-size="6.6" fill="#333" font-weight="normal" textLength="35.60" lengthAdjust="spacingAndGlyphs" stroke="#333" stroke-width="0.06">13 genes up</text>
<circle cx="444.12" cy="92.55" r="0.45" fill="#ece6e8"/>
<circle cx="458.01" cy="87.16" r="0.45" fill="#ece6e8"/>
<circle cx="434.91" cy="90.59" r="0.45" fill="#e2e2e6"/>
<circle cx="438.42" cy="89.29" r="0.45" fill="#e2e2e6"/>
<circle cx="435.85" cy="89.21" r="0.45" fill="#e2e2e6"/>
<circle cx="432.35" cy="92.84" r="0.45" fill="#ece6e8"/>
<circle cx="437.64" cy="86.90" r="0.45" fill="#ece6e8"/>
<circle cx="438.89" cy="90.66" r="0.45" fill="#e2e2e6"/>
<circle cx="428.89" cy="91.18" r="0.45" fill="#ece6e8"/>
<circle cx="430.62" cy="92.38" r="0.45" fill="#e2e2e6"/>
<circle cx="428.28" cy="90.15" r="0.45" fill="#d8d8de"/>
<circle cx="432.43" cy="94.78" r="0.45" fill="#ece6e8"/>
<circle cx="429.41" cy="92.35" r="0.45" fill="#e2e2e6"/>
<circle cx="436.21" cy="83.82" r="0.45" fill="#e2e2e6"/>
<circle cx="431.95" cy="89.06" r="0.45" fill="#d8d8de"/>
<circle cx="433.25" cy="99.38" r="0.45" fill="#e2e2e6"/>
<circle cx="421.63" cy="86.78" r="0.45" fill="#e2e2e6"/>
<circle cx="441.49" cy="91.04" r="0.45" fill="#e2e2e6"/>
<circle cx="431.95" cy="85.69" r="0.45" fill="#ece6e8"/>
<circle cx="434.43" cy="99.43" r="0.45" fill="#d8d8de"/>
<circle cx="433.76" cy="91.40" r="0.45" fill="#e2e2e6"/>
<circle cx="429.61" cy="92.60" r="0.45" fill="#e2e2e6"/>
<circle cx="438.15" cy="88.93" r="0.45" fill="#d8d8de"/>
<circle cx="436.18" cy="95.46" r="0.45" fill="#ece6e8"/>
<circle cx="433.57" cy="96.90" r="0.45" fill="#d8d8de"/>
<circle cx="432.47" cy="89.02" r="0.45" fill="#e2e2e6"/>
<circle cx="433.69" cy="99.99" r="0.45" fill="#d8d8de"/>
<circle cx="428.24" cy="89.70" r="0.45" fill="#e2e2e6"/>
<circle cx="427.69" cy="88.74" r="0.45" fill="#e2e2e6"/>
<circle cx="433.83" cy="95.26" r="0.45" fill="#ece6e8"/>
<circle cx="430.22" cy="95.99" r="0.45" fill="#d8d8de"/>
<circle cx="432.94" cy="86.68" r="0.45" fill="#d8d8de"/>
<circle cx="438.37" cy="90.47" r="0.45" fill="#e2e2e6"/>
<circle cx="424.96" cy="92.84" r="0.45" fill="#ece6e8"/>
<circle cx="433.14" cy="93.36" r="0.45" fill="#ece6e8"/>
<circle cx="430.31" cy="93.02" r="0.45" fill="#e2e2e6"/>
<circle cx="428.16" cy="95.34" r="0.45" fill="#d8d8de"/>
<circle cx="428.79" cy="84.64" r="0.45" fill="#ece6e8"/>
<circle cx="438.91" cy="98.54" r="0.45" fill="#ece6e8"/>
<circle cx="430.33" cy="91.65" r="0.45" fill="#ece6e8"/>
<circle cx="382.56" cy="129.04" r="0.45" fill="#d8dde6"/>
<circle cx="402.62" cy="125.53" r="0.45" fill="#e0e4ec"/>
<circle cx="380.88" cy="125.04" r="0.45" fill="#e0e4ec"/>
<circle cx="396.26" cy="126.95" r="0.45" fill="#d8dde6"/>
<circle cx="388.47" cy="122.56" r="0.45" fill="#d8dde6"/>
<circle cx="381.84" cy="123.16" r="0.45" fill="#d8dde6"/>
<circle cx="393.47" cy="124.68" r="0.45" fill="#d8dde6"/>
<circle cx="388.17" cy="124.00" r="0.45" fill="#e0e4ec"/>
<circle cx="403.49" cy="121.53" r="0.45" fill="#e0e4ec"/>
<circle cx="381.21" cy="120.74" r="0.45" fill="#d8dde6"/>
<circle cx="384.40" cy="128.15" r="0.45" fill="#e0e4ec"/>
<circle cx="386.21" cy="133.99" r="0.45" fill="#d8dde6"/>
<circle cx="386.16" cy="122.76" r="0.45" fill="#d8dde6"/>
<circle cx="391.69" cy="136.23" r="0.45" fill="#d8dde6"/>
<circle cx="406.27" cy="129.13" r="0.45" fill="#e0e4ec"/>
<circle cx="380.49" cy="138.06" r="0.45" fill="#e0e4ec"/>
<circle cx="390.84" cy="133.32" r="0.45" fill="#d8dde6"/>
<circle cx="398.55" cy="135.76" r="0.45" fill="#e0e4ec"/>
<circle cx="396.88" cy="129.89" r="0.45" fill="#e0e4ec"/>
<circle cx="395.47" cy="131.44" r="0.45" fill="#e0e4ec"/>
<circle cx="388.24" cy="129.19" r="0.45" fill="#e0e4ec"/>
<circle cx="401.57" cy="125.52" r="0.45" fill="#e0e4ec"/>
<circle cx="392.65" cy="124.63" r="0.45" fill="#e0e4ec"/>
<circle cx="401.08" cy="129.74" r="0.45" fill="#d8dde6"/>
<circle cx="382.05" cy="131.97" r="0.45" fill="#e0e4ec"/>
<line x1="412.70" y1="44.90" x2="412.70" y2="154.60" stroke="#1e1e1e" stroke-width="1.3"/>
<line x1="357.00" y1="110.10" x2="494.00" y2="110.10" stroke="#1e1e1e" stroke-width="1.3"/>
<line x1="409.20" y1="47.70" x2="412.70" y2="47.70" stroke="#1e1e1e" stroke-width="1.1"/>
<text x="405.8" y="50.40" font-size="6.6" fill="#333" stroke="#333" stroke-width="0.22" text-anchor="end">1.5</text>
<line x1="409.20" y1="68.40" x2="412.70" y2="68.40" stroke="#1e1e1e" stroke-width="1.1"/>
<text x="405.8" y="71.10" font-size="6.6" fill="#333" stroke="#333" stroke-width="0.22" text-anchor="end">1.0</text>
<line x1="409.20" y1="89.00" x2="412.70" y2="89.00" stroke="#1e1e1e" stroke-width="1.1"/>
<text x="405.8" y="91.70" font-size="6.6" fill="#333" stroke="#333" stroke-width="0.22" text-anchor="end">0.5</text>
<line x1="409.20" y1="130.40" x2="412.70" y2="130.40" stroke="#1e1e1e" stroke-width="1.1"/>
<text x="405.8" y="133.10" font-size="6.6" fill="#333" stroke="#333" stroke-width="0.22" text-anchor="end">−0.5</text>
<line x1="409.20" y1="151.10" x2="412.70" y2="151.10" stroke="#1e1e1e" stroke-width="1.1"/>
<text x="405.8" y="153.80" font-size="6.6" fill="#333" stroke="#333" stroke-width="0.22" text-anchor="end">−1.0</text>
<line x1="360.00" y1="110.10" x2="360.00" y2="113.10" stroke="#1e1e1e" stroke-width="1.1"/>
<text x="360.00" y="122.3" font-size="6.6" fill="#333" stroke="#333" stroke-width="0.22" text-anchor="middle">–2</text>
<line x1="386.00" y1="110.10" x2="386.00" y2="113.10" stroke="#1e1e1e" stroke-width="1.1"/>
<text x="386.00" y="122.3" font-size="6.6" fill="#333" stroke="#333" stroke-width="0.22" text-anchor="middle">–1</text>
<line x1="438.40" y1="110.10" x2="438.40" y2="113.10" stroke="#1e1e1e" stroke-width="1.1"/>
<text x="438.40" y="122.3" font-size="6.6" fill="#333" stroke="#333" stroke-width="0.22" text-anchor="middle">1</text>
<line x1="464.40" y1="110.10" x2="464.40" y2="113.10" stroke="#1e1e1e" stroke-width="1.1"/>
<text x="464.40" y="122.3" font-size="6.6" fill="#333" stroke="#333" stroke-width="0.22" text-anchor="middle">2</text>
<line x1="490.40" y1="110.10" x2="490.40" y2="113.10" stroke="#1e1e1e" stroke-width="1.1"/>
<text x="490.40" y="122.3" font-size="6.6" fill="#333" stroke="#333" stroke-width="0.22" text-anchor="middle">3</text>
<text x="374.60" y="166.10" font-size="8.6" fill="#2b2b2b" font-weight="normal" textLength="102.10" lengthAdjust="spacingAndGlyphs" stroke="#2b2b2b" stroke-width="0.35">log2 fold-change in mRNA expression</text>
<g transform="translate(350.80,150.80) rotate(-90)"><text x="0" y="0" font-size="8.6" fill="#2b2b2b" stroke="#2b2b2b" stroke-width="0.35" textLength="103.20" lengthAdjust="spacingAndGlyphs">log2 fold-change in protein expression</text></g>
<circle cx="474.70" cy="52.50" r="0.95" fill="#9a1030"/>
<circle cx="438.40" cy="83.20" r="0.95" fill="#9a1030"/>
<circle cx="473.90" cy="94.90" r="0.95" fill="#9a1030"/>
<circle cx="373.30" cy="123.00" r="0.95" fill="#222"/>
<circle cx="384.90" cy="130.00" r="0.95" fill="#1f4576"/>
<circle cx="390.90" cy="129.50" r="0.95" fill="#1f4576"/>
<circle cx="393.10" cy="130.40" r="0.95" fill="#3f6596"/>
<text x="467.50" y="49.43" font-size="4.8" fill="#444" font-weight="normal" textLength="16.70" lengthAdjust="spacingAndGlyphs" stroke="#444" stroke-width="0.04">CYP1A1</text>
<text x="432.20" y="78.63" font-size="4.8" fill="#444" font-weight="normal" textLength="10.80" lengthAdjust="spacingAndGlyphs" stroke="#444" stroke-width="0.04">MMP2</text>
<text x="466.20" y="91.83" font-size="4.8" fill="#444" font-weight="normal" textLength="16.80" lengthAdjust="spacingAndGlyphs" stroke="#444" stroke-width="0.04">CYP1B1</text>
<text x="368.80" y="119.93" font-size="4.8" fill="#444" font-weight="normal" textLength="10.20" lengthAdjust="spacingAndGlyphs" stroke="#444" stroke-width="0.04">MPO</text>
<text x="383.00" y="126.03" font-size="4.8" fill="#444" font-weight="normal" textLength="18.20" lengthAdjust="spacingAndGlyphs" stroke="#444" stroke-width="0.04">FCGR2B</text>
<text x="364.10" y="131.63" font-size="4.8" fill="#444" font-weight="normal" textLength="18.90" lengthAdjust="spacingAndGlyphs" stroke="#444" stroke-width="0.04">FCGR1A</text>
<text x="391.00" y="136.03" font-size="4.8" fill="#444" font-weight="normal" textLength="9.30" lengthAdjust="spacingAndGlyphs" stroke="#444" stroke-width="0.04">CD34</text>
<text x="378.90" y="190.00" font-size="6.8" fill="#333" font-weight="normal" textLength="21.10" lengthAdjust="spacingAndGlyphs" stroke="#333" stroke-width="0.12">sAML9</text>
<text x="417.10" y="190.00" font-size="6.8" fill="#333" font-weight="normal" textLength="23.90" lengthAdjust="spacingAndGlyphs" stroke="#333" stroke-width="0.12">sAML14</text>
<line x1="389.40" y1="194.60" x2="389.40" y2="197.70" stroke="#1e1e1e" stroke-width="1.0"/>
<line x1="429.40" y1="194.60" x2="429.40" y2="197.70" stroke="#1e1e1e" stroke-width="1.0"/>
<rect x="369.50" y="197.70" width="40.05" height="10.29" fill="rgb(62,35,140)"/>
<rect x="409.25" y="197.70" width="39.75" height="10.29" fill="rgb(203,203,233)"/>
<line x1="366.30" y1="202.70" x2="369.50" y2="202.70" stroke="#1e1e1e" stroke-width="1.0"/>
<text x="362.8" y="205.10" font-size="6.8" fill="#333" stroke="#333" stroke-width="0.22" text-anchor="end">S100A8</text>
<rect x="369.50" y="207.69" width="40.05" height="10.29" fill="rgb(62,35,140)"/>
<rect x="409.25" y="207.69" width="39.75" height="10.29" fill="rgb(86,72,160)"/>
<line x1="366.30" y1="212.69" x2="369.50" y2="212.69" stroke="#1e1e1e" stroke-width="1.0"/>
<text x="362.8" y="215.09" font-size="6.8" fill="#333" stroke="#333" stroke-width="0.22" text-anchor="end">S100A9</text>
<rect x="369.50" y="217.68" width="40.05" height="10.29" fill="rgb(148,145,203)"/>
<rect x="409.25" y="217.68" width="39.75" height="10.29" fill="rgb(88,75,163)"/>
<line x1="366.30" y1="222.68" x2="369.50" y2="222.68" stroke="#1e1e1e" stroke-width="1.0"/>
<text x="362.8" y="225.08" font-size="6.8" fill="#333" stroke="#333" stroke-width="0.22" text-anchor="end">MPO</text>
<rect x="369.50" y="227.68" width="40.05" height="10.29" fill="rgb(215,215,237)"/>
<rect x="409.25" y="227.68" width="39.75" height="10.29" fill="rgb(112,107,183)"/>
<line x1="366.30" y1="232.67" x2="369.50" y2="232.67" stroke="#1e1e1e" stroke-width="1.0"/>
<text x="362.8" y="235.07" font-size="6.8" fill="#333" stroke="#333" stroke-width="0.22" text-anchor="end">CXCR4</text>
<rect x="369.50" y="237.67" width="40.05" height="10.29" fill="rgb(218,218,238)"/>
<rect x="409.25" y="237.67" width="39.75" height="10.29" fill="rgb(165,160,213)"/>
<line x1="366.30" y1="242.66" x2="369.50" y2="242.66" stroke="#1e1e1e" stroke-width="1.0"/>
<text x="362.8" y="245.06" font-size="6.8" fill="#333" stroke="#333" stroke-width="0.22" text-anchor="end">PU.1</text>
<rect x="369.50" y="247.66" width="40.05" height="10.29" fill="rgb(228,228,243)"/>
<rect x="409.25" y="247.66" width="39.75" height="10.29" fill="rgb(214,214,237)"/>
<line x1="366.30" y1="252.65" x2="369.50" y2="252.65" stroke="#1e1e1e" stroke-width="1.0"/>
<text x="362.8" y="255.05" font-size="6.8" fill="#333" stroke="#333" stroke-width="0.22" text-anchor="end">BIM</text>
<rect x="369.50" y="257.65" width="40.05" height="10.29" fill="rgb(232,232,246)"/>
<rect x="409.25" y="257.65" width="39.75" height="10.29" fill="rgb(241,241,250)"/>
<line x1="366.30" y1="262.65" x2="369.50" y2="262.65" stroke="#1e1e1e" stroke-width="1.0"/>
<text x="362.8" y="265.05" font-size="6.8" fill="#333" stroke="#333" stroke-width="0.22" text-anchor="end">HOXA9</text>
<rect x="369.50" y="267.64" width="40.05" height="10.29" fill="rgb(235,235,248)"/>
<rect x="409.25" y="267.64" width="39.75" height="10.29" fill="rgb(158,158,212)"/>
<line x1="366.30" y1="272.64" x2="369.50" y2="272.64" stroke="#1e1e1e" stroke-width="1.0"/>
<text x="362.8" y="275.04" font-size="6.8" fill="#333" stroke="#333" stroke-width="0.22" text-anchor="end">Ki67</text>
<rect x="369.50" y="277.63" width="40.05" height="10.29" fill="rgb(255,255,255)"/>
<rect x="409.25" y="277.63" width="39.75" height="10.29" fill="rgb(174,174,220)"/>
<line x1="366.30" y1="282.63" x2="369.50" y2="282.63" stroke="#1e1e1e" stroke-width="1.0"/>
<text x="362.8" y="285.03" font-size="6.8" fill="#333" stroke="#333" stroke-width="0.22" text-anchor="end">CDK6</text>
<rect x="369.50" y="287.62" width="40.05" height="10.29" fill="rgb(250,204,204)"/>
<rect x="409.25" y="287.62" width="39.75" height="10.29" fill="rgb(248,189,189)"/>
<line x1="366.30" y1="292.62" x2="369.50" y2="292.62" stroke="#1e1e1e" stroke-width="1.0"/>
<text x="362.8" y="295.02" font-size="6.8" fill="#333" stroke="#333" stroke-width="0.22" text-anchor="end">PUMA</text>
<rect x="369.50" y="297.62" width="40.05" height="10.29" fill="rgb(244,156,156)"/>
<rect x="409.25" y="297.62" width="39.75" height="10.29" fill="rgb(245,172,172)"/>
<line x1="366.30" y1="302.61" x2="369.50" y2="302.61" stroke="#1e1e1e" stroke-width="1.0"/>
<text x="362.8" y="305.01" font-size="6.8" fill="#333" stroke="#333" stroke-width="0.22" text-anchor="end">Mcl1</text>
<rect x="369.50" y="307.61" width="40.05" height="10.29" fill="rgb(242,132,132)"/>
<rect x="409.25" y="307.61" width="39.75" height="10.29" fill="rgb(232,95,88)"/>
<line x1="366.30" y1="312.60" x2="369.50" y2="312.60" stroke="#1e1e1e" stroke-width="1.0"/>
<text x="362.8" y="315.00" font-size="6.8" fill="#333" stroke="#333" stroke-width="0.22" text-anchor="end">GFI1</text>
<rect x="369.50" y="197.70" width="79.50" height="119.90" fill="none" stroke="#2a2a2a" stroke-width="1"/>
<defs><linearGradient id="cb" x1="0" y1="0" x2="0" y2="1">
<stop offset="0" stop-color="#e8101c"/>
<stop offset="0.06" stop-color="#f06a70"/>
<stop offset="0.125" stop-color="#ffffff"/>
<stop offset="0.25" stop-color="#dcdcee"/>
<stop offset="0.5" stop-color="#8a86c4"/>
<stop offset="0.75" stop-color="#4c3c9c"/>
<stop offset="1" stop-color="#2e1a82"/>
</linearGradient></defs>
<rect x="459.6" y="197.9" width="10.40" height="120.10" fill="url(#cb)" stroke="#222" stroke-width="1"/>
<text x="472.0" y="200.20" font-size="6.6" fill="#333" stroke="#333" stroke-width="0.22">0.25</text>
<line x1="459.60" y1="212.91" x2="461.60" y2="212.91" stroke="#222" stroke-width="0.9"/>
<line x1="468.00" y1="212.91" x2="470.00" y2="212.91" stroke="#222" stroke-width="0.9"/>
<text x="472.0" y="215.21" font-size="6.6" fill="#333" stroke="#333" stroke-width="0.22">0</text>
<line x1="459.60" y1="227.93" x2="461.60" y2="227.93" stroke="#222" stroke-width="0.9"/>
<line x1="468.00" y1="227.93" x2="470.00" y2="227.93" stroke="#222" stroke-width="0.9"/>
<text x="472.0" y="230.23" font-size="6.6" fill="#333" stroke="#333" stroke-width="0.22">−0.25</text>
<line x1="459.60" y1="242.94" x2="461.60" y2="242.94" stroke="#222" stroke-width="0.9"/>
<line x1="468.00" y1="242.94" x2="470.00" y2="242.94" stroke="#222" stroke-width="0.9"/>
<text x="472.0" y="245.24" font-size="6.6" fill="#333" stroke="#333" stroke-width="0.22">−0.50</text>
<line x1="459.60" y1="257.95" x2="461.60" y2="257.95" stroke="#222" stroke-width="0.9"/>
<line x1="468.00" y1="257.95" x2="470.00" y2="257.95" stroke="#222" stroke-width="0.9"/>
<text x="472.0" y="260.25" font-size="6.6" fill="#333" stroke="#333" stroke-width="0.22">−0.75</text>
<line x1="459.60" y1="272.96" x2="461.60" y2="272.96" stroke="#222" stroke-width="0.9"/>
<line x1="468.00" y1="272.96" x2="470.00" y2="272.96" stroke="#222" stroke-width="0.9"/>
<text x="472.0" y="275.26" font-size="6.6" fill="#333" stroke="#333" stroke-width="0.22">−1.00</text>
<line x1="459.60" y1="287.98" x2="461.60" y2="287.98" stroke="#222" stroke-width="0.9"/>
<line x1="468.00" y1="287.98" x2="470.00" y2="287.98" stroke="#222" stroke-width="0.9"/>
<text x="472.0" y="290.28" font-size="6.6" fill="#333" stroke="#333" stroke-width="0.22">−1.25</text>
<line x1="459.60" y1="302.99" x2="461.60" y2="302.99" stroke="#222" stroke-width="0.9"/>
<line x1="468.00" y1="302.99" x2="470.00" y2="302.99" stroke="#222" stroke-width="0.9"/>
<text x="472.0" y="305.29" font-size="6.6" fill="#333" stroke="#333" stroke-width="0.22">−1.50</text>
<text x="472.0" y="320.30" font-size="6.6" fill="#333" stroke="#333" stroke-width="0.22">−1.75</text>
<g transform="translate(506.30,235.40) rotate(90)"><text x="0" y="0" font-size="8.6" fill="#2b2b2b" stroke="#2b2b2b" stroke-width="0.35" textLength="45.60" lengthAdjust="spacingAndGlyphs">log2 fold-change</text></g>
<g transform="translate(496.00,207.60) rotate(90)"><text x="0" y="0" font-size="7.74" fill="#2b2b2b" stroke="#2b2b2b" stroke-width="0.35" textLength="100.60" lengthAdjust="spacingAndGlyphs">(20 µM tasquinimod, 48 hrs/control)</text></g>
<text x="362.40" y="327.60" font-size="6.9" fill="#333" font-weight="normal" textLength="93.80" lengthAdjust="spacingAndGlyphs" stroke="#333" stroke-width="0.12">Stem/Progenitor cells defined by</text>
<text x="358.50" y="335.00" font-size="6.9" fill="#333" font-weight="normal" textLength="101.50" lengthAdjust="spacingAndGlyphs" stroke="#333" stroke-width="0.12">CLEC12A Hi, CD99 Hi, CD123 Hi,</text>
<text x="373.00" y="342.60" font-size="6.9" fill="#333" font-weight="normal" textLength="72.00" lengthAdjust="spacingAndGlyphs" stroke="#333" stroke-width="0.12">CD33 Hi, and CD11b Lo</text>
<rect x="0.5" y="0.5" width="519" height="349" fill="none" stroke="#555" stroke-width="1.2"/>
</svg>
</body></html>
